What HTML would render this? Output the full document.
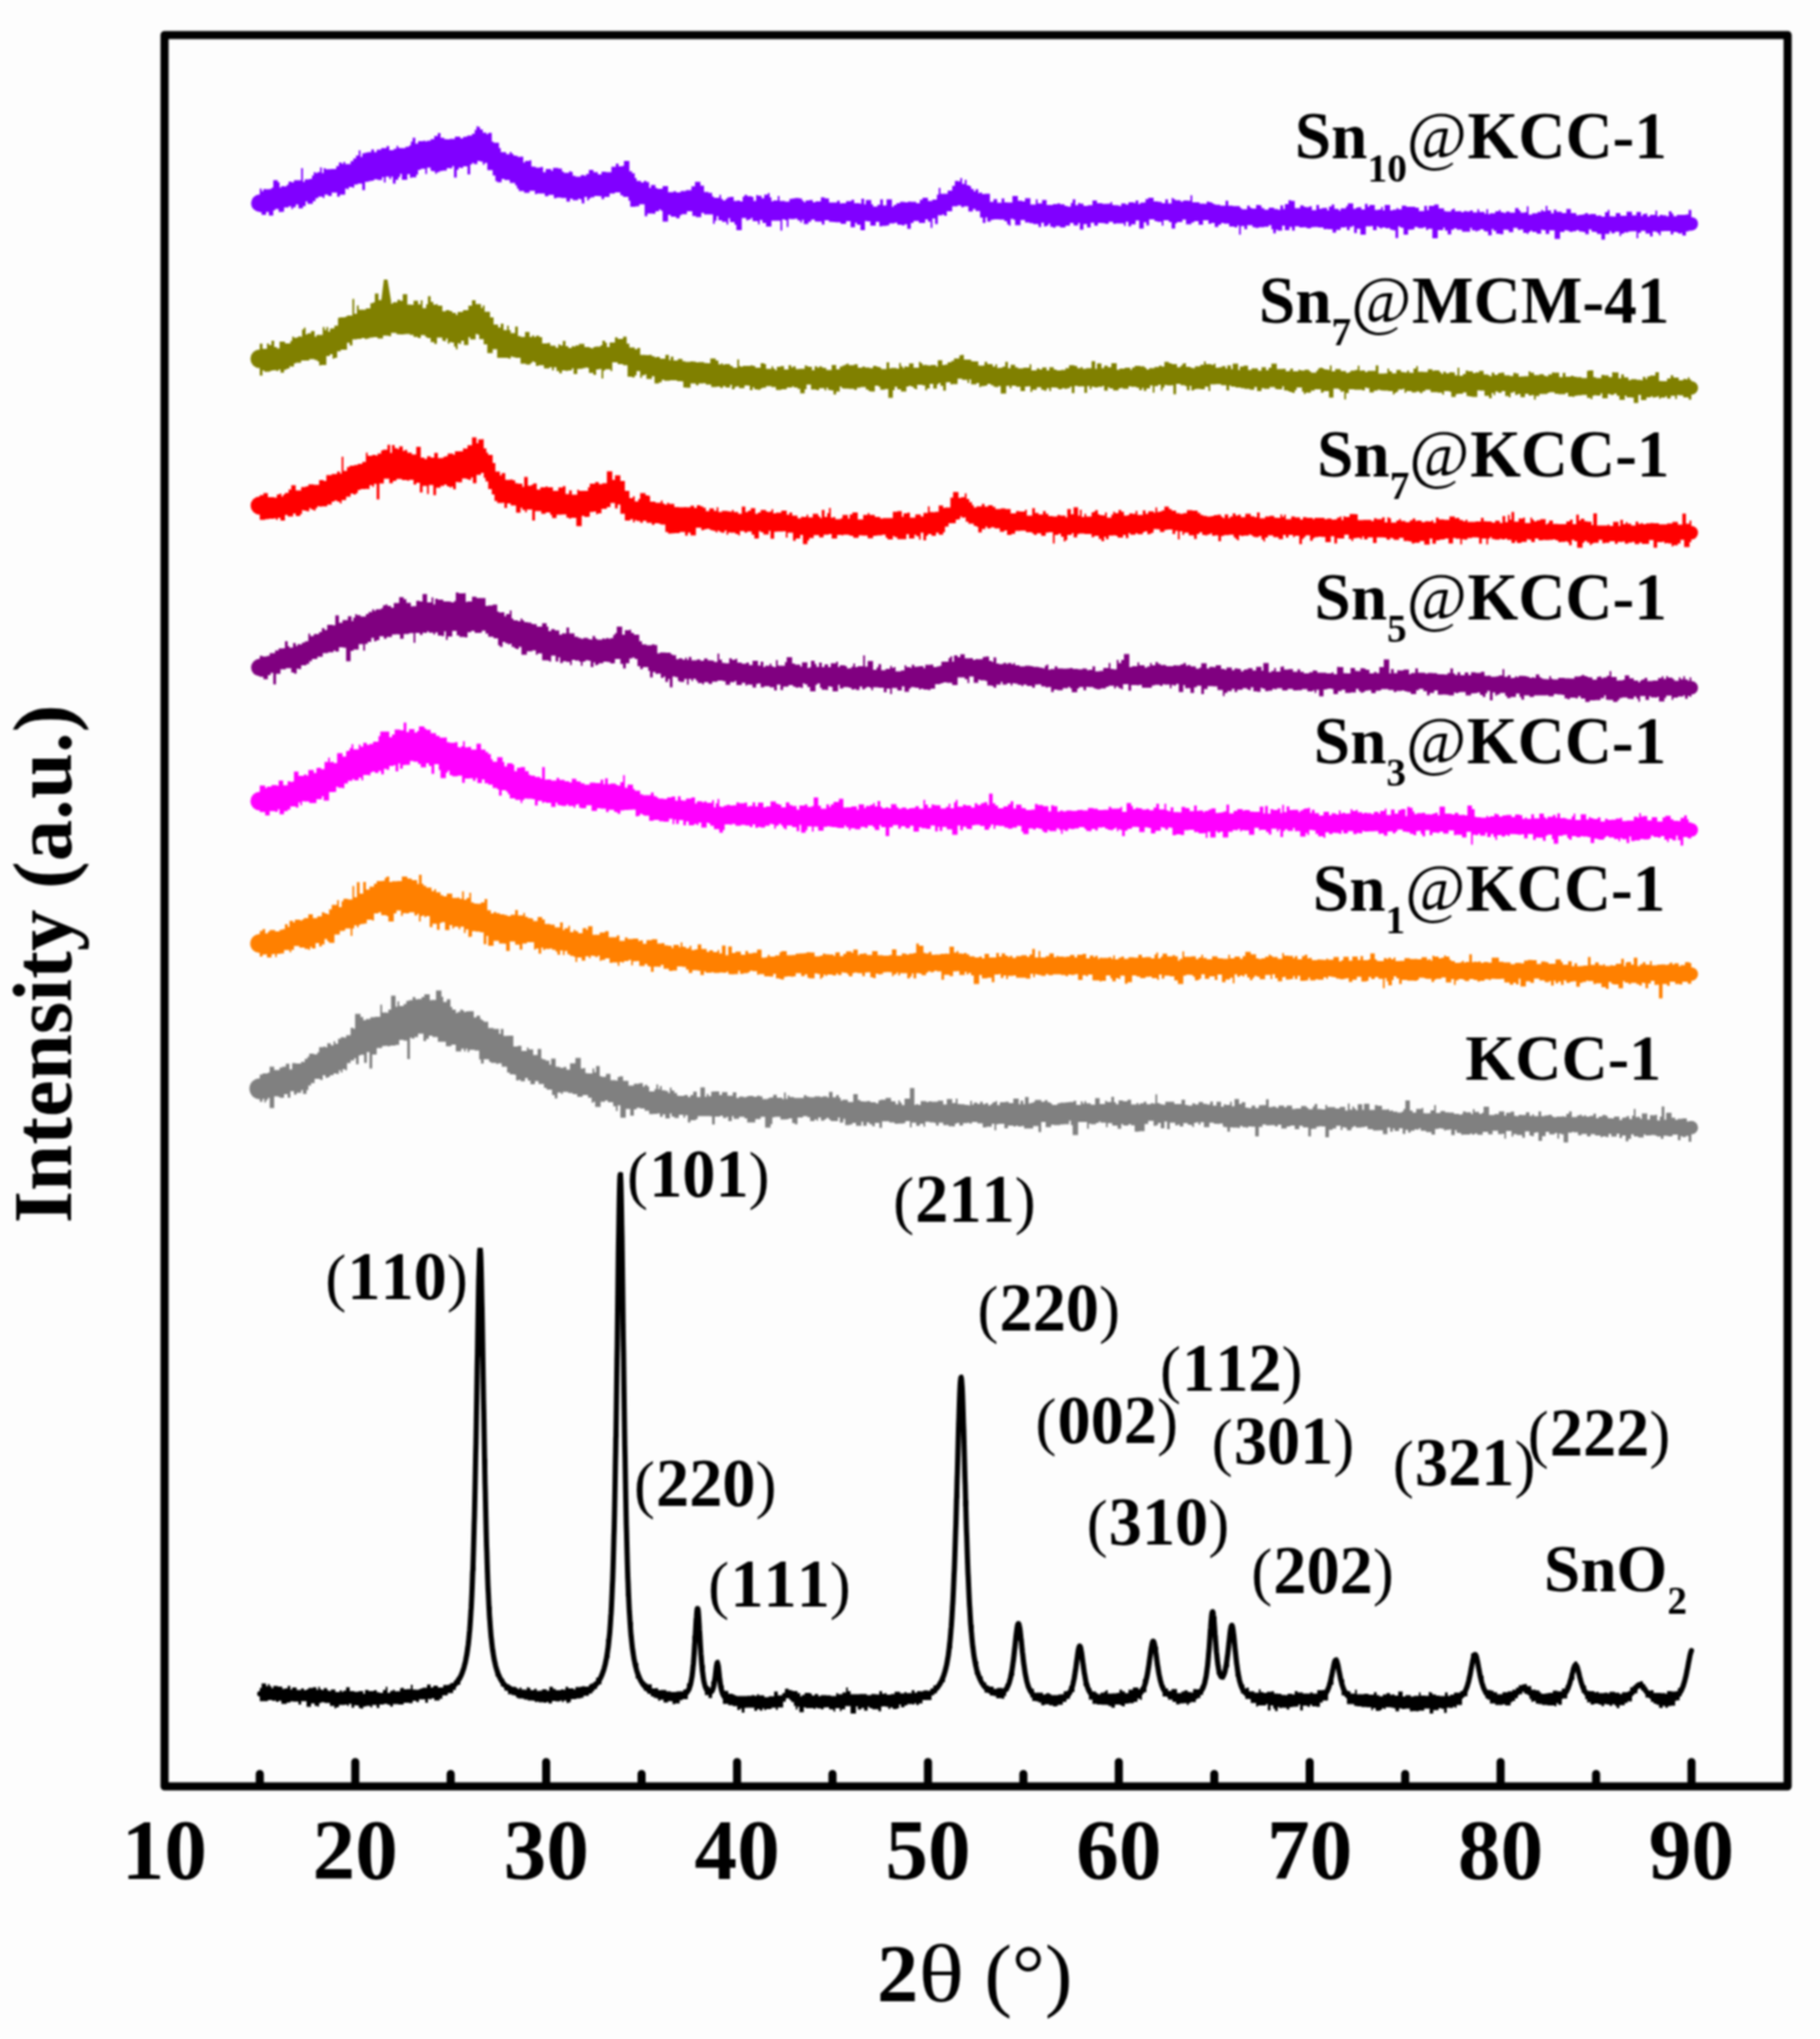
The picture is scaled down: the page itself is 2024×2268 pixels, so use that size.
<!DOCTYPE html><html><head><meta charset="utf-8"><style>html,body{margin:0;padding:0;background:#fdfdfd}svg{display:block}#w{filter:blur(1px)}</style></head><body><div id="w"><svg width="2024" height="2268" viewBox="0 0 2024 2268"><rect width="2024" height="2268" fill="#fdfdfd"/><g fill="#8000ff"><path d="M288.9 209.7l2 0 0 3.1 2 0 0 -2.5 2 0 0 0.2 5 0 0 -0.3 2 0 0 -1.5 2 0 0 -8.3 5 0 0 2.4 2 0 0 5.8 2 0 0 -1.6 2 0 0 0.2 4 0 0 -1.7 2 0 0 -3.6 3 0 0 0.8 3 0 0 -2.3 5 0 0 0.2 3 0 0 -13.7 2 0 0 15.3 2 0 0 -2.6 5 0 0 -0.5 3 0 0 -3.9 2 0 0 -3.8 2 0 0 1.1 2 0 0 -1 3 0 0 -5.3 2 0 0 6.2 2 0 0 -5.3 2 0 0 1.1 6 0 0 -0.1 6 0 0 -3.3 3 0 0 -4 3 0 0 1.4 2 0 0 -2.1 2 0 0 2.5 6 0 0 -3.4 3 0 0 -3 3 0 0 -3.2 3 0 0 -5.8 2 0 0 7.3 2 0 0 -4 3 0 0 -0.7 3 0 0 -0.5 4 0 0 -3 3 0 0 2.9 3 0 0 -2.8 5 0 0 -1.7 6 0 0 -2.1 3 0 0 4.3 5 0 0 -1.3 3 0 0 -3.3 2 0 0 2.1 2 0 0 0.4 6 0 0 -1.6 4 0 0 -1.5 2 0 0 -4.3 2 0 0 -4.2 3 0 0 6.6 3 0 0 -2.9 6 0 0 -0.3 2 0 0 0.6 2 0 0 -0.6 4 0 0 -1.9 4 0 0 -3.4 4 0 0 -3.2 3 0 0 5.2 4 0 0 1.5 3 0 0 0.2 3 0 0 -0.6 6 0 0 -2.3 6 0 0 1.9 3 0 0 -1.8 3 0 0 -0.5 2 0 0 -1 5 0 0 -2 3 0 0 -4.2 2 0 0 -4 2 0 0 0.7 2 0 0 2.7 3 0 0 3.6 4 0 0 1.8 2 0 0 -1.6 4 0 0 9.8 2 0 0 1.2 6 0 0 6 2 0 0 4.5 6 0 0 2.4 2 0 0 0 2 0 0 -2.6 2 0 0 2 2 0 0 1.9 3 0 0 0.7 2 0 0 0.8 3 0 0 -0.2 3 0 0 6.6 2 0 0 -1.7 5 0 0 -0.9 2 0 0 7.1 3 0 0 0.2 2 0 0 0.9 5 0 0 -0.7 3 0 0 5.8 3 0 0 -3.5 6 0 0 2 2 0 0 -3.3 6 0 0 0.7 4 0 0 3.4 2 0 0 1.5 6 0 0 -1.9 2 0 0 0.9 2 0 0 4.2 3 0 0 0.9 6 0 0 -1.6 4 0 0 0.6 2 0 0 -1.8 3 0 0 -4.5 5 0 0 2.4 5 0 0 2.5 4 0 0 -2.9 5 0 0 0.4 6 0 0 -6.1 5 0 0 -3.5 3 0 0 3.2 4 0 0 -0.6 2 0 0 -5.5 6 0 0 11.4 3 0 0 2.3 3 0 0 5.3 2 0 0 3.3 5 0 0 1.7 3 0 0 -1.7 3 0 0 1.1 3 0 0 6.6 2 0 0 -3.2 5 0 0 3.1 2 0 0 1.1 6 0 0 -3 6 0 0 6.7 6 0 0 -1 3 0 0 1.3 5 0 0 -1.6 6 0 0 -1 6 0 0 -4.1 4 0 0 -5 6 0 0 4.2 4 0 0 7 5 0 0 0.9 4 0 0 4.2 2 0 0 1.4 6 0 0 -3.3 2 0 0 4.5 2 0 0 1.9 3 0 0 -1.9 2 0 0 -1.6 3 0 0 -0.6 4 0 0 4.4 4 0 0 -0.3 3 0 0 1 3 0 0 -5.3 2 0 0 -2 3 0 0 1.4 5 0 0 0.7 2 0 0 4.5 3 0 0 -6.4 2 0 0 0.8 4 0 0 2.7 3 0 0 -3.9 4 0 0 -1.9 2 0 0 4.9 2 0 0 4.4 2 0 0 -1 5 0 0 -5.1 2 0 0 5.5 6 0 0 0.8 5 0 0 -2.9 3 0 0 -0.5 3 0 0 -0.5 5 0 0 0.4 3 0 0 2.5 2 0 0 1.8 2 0 0 -1.9 4 0 0 -0.5 4 0 0 2.5 3 0 0 -1.2 6 0 0 -4.5 4 0 0 1.1 2 0 0 0.2 3 0 0 4.5 3 0 0 0.1 6 0 0 -2 3 0 0 3 2 0 0 -0.3 5 0 0 -2.3 6 0 0 -1.5 3 0 0 3.8 6 0 0 0.6 2 0 0 -5.7 3 0 0 6.4 2 0 0 -4.7 6 0 0 4.6 2 0 0 2.5 5 0 0 -1.9 3 0 0 -6 3 0 0 6.6 4 0 0 -6.6 6 0 0 8.2 2 0 0 -2 3 0 0 -1.9 4 0 0 -1.5 5 0 0 0.4 2 0 0 0.1 2 0 0 -0.9 3 0 0 0.2 6 0 0 1.5 4 0 0 -3.6 3 0 0 -2.3 6 0 0 3.5 5 0 0 -1.4 5 0 0 -5.7 2 0 0 -7.3 2 0 0 6.4 4 0 0 0.1 4 0 0 -3.7 5 0 0 -5.2 3 0 0 -5.4 4 0 0 0.4 2 0 0 -3.6 2 0 0 6.4 3 0 0 -4.5 2 0 0 5.9 3 0 0 1.1 2 0 0 3.3 3 0 0 2.6 2 0 0 -2.3 3 0 0 4.1 2 0 0 -0.6 2 0 0 1.7 4 0 0 -0.3 5 0 0 8.9 2 0 0 0.2 2 0 0 -3.2 4 0 0 4.2 5 0 0 -4.9 3 0 0 4.2 3 0 0 0.4 6 0 0 -7.2 6 0 0 5.2 5 0 0 0.6 3 0 0 -3.3 6 0 0 7 6 0 0 -5.8 2 0 0 4.5 5 0 0 -3.8 5 0 0 5.4 2 0 0 0.2 5 0 0 -1.1 5 0 0 -0.8 3 0 0 1 5 0 0 1.7 3 0 0 0.9 4 0 0 -4.1 2 0 0 -3.9 3 0 0 6.4 3 0 0 -2.5 2 0 0 0.8 4 0 0 2.5 5 0 0 -0.7 5 0 0 -5.3 5 0 0 3.1 6 0 0 0.6 6 0 0 -0.2 3 0 0 -1.7 2 0 0 3.2 2 0 0 0.2 4 0 0 0.2 2 0 0 0.8 2 0 0 -3 5 0 0 1.3 3 0 0 -2.4 6 0 0 0.6 2 0 0 -2.6 3 0 0 3.8 2 0 0 -1.5 3 0 0 -0.2 3 0 0 -3.8 3 0 0 -1.5 6 0 0 4.1 5 0 0 0.5 4 0 0 1.6 4 0 0 -4.4 3 0 0 4.5 2 0 0 0.1 2 0 0 -6.1 2 0 0 1.2 2 0 0 1.3 6 0 0 1.5 3 0 0 -1.3 5 0 0 0.4 3 0 0 -6 2 0 0 7.8 5 0 0 -0.2 3 0 0 1.6 6 0 0 0.2 2 0 0 -2.5 3 0 0 0.7 3 0 0 1.3 2 0 0 1 2 0 0 0.6 5 0 0 0.9 6 0 0 -5.5 3 0 0 5.5 5 0 0 0.5 6 0 0 0 2 0 0 2 2 0 0 1.5 6 0 0 -3.9 3 0 0 2.2 2 0 0 0.9 5 0 0 -3.9 4 0 0 0.4 2 0 0 3.1 3 0 0 1.7 5 0 0 -2.3 6 0 0 1.6 4 0 0 0.7 3 0 0 -4.7 3 0 0 4 2 0 0 -5.4 2 0 0 -0.1 2 0 0 -4.2 3 0 0 0.6 4 0 0 8.2 6 0 0 -3.1 4 0 0 1.5 2 0 0 0.5 4 0 0 -0.9 3 0 0 4.1 5 0 0 -5.8 3 0 0 4.4 3 0 0 -0.7 2 0 0 -0.4 4 0 0 2.9 2 0 0 -4.4 3 0 0 -2.1 3 0 0 4.7 3 0 0 0.1 2 0 0 1.9 2 0 0 -2.5 6 0 0 -2.5 2 0 0 -3 6 0 0 5.9 3 0 0 -1.3 2 0 0 -0.4 4 0 0 2.6 4 0 0 -6.4 3 0 0 3.4 2 0 0 -2.2 6 0 0 5.5 4 0 0 -0.5 3 0 0 -2.6 2 0 0 3.7 2 0 0 -6 6 0 0 6.1 3 0 0 -0.9 4 0 0 -1.7 2 0 0 1.3 4 0 0 -4 5 0 0 1.2 5 0 0 0.1 5 0 0 0.9 4 0 0 3.7 6 0 0 -5.8 3 0 0 4.9 2 0 0 -4.8 6 0 0 -1.4 5 0 0 4.2 6 0 0 3 2 0 0 0.5 6 0 0 -2.2 2 0 0 -1.2 2 0 0 3.1 5 0 0 -0.2 2 0 0 1.3 3 0 0 -1.3 3 0 0 0.4 4 0 0 -1.1 3 0 0 2.2 5 0 0 -3.5 2 0 0 3 2 0 0 -0.1 4 0 0 2.1 2 0 0 -5.1 2 0 0 5.5 2 0 0 -1 6 0 0 -2.1 4 0 0 -1.5 2 0 0 2.4 3 0 0 0.8 3 0 0 -1.6 4 0 0 1.3 6 0 0 -5.1 4 0 0 2.5 2 0 0 2.7 5 0 0 -0.7 2 0 0 -6.4 2 0 0 9.3 4 0 0 -1.6 6 0 0 -1.5 4 0 0 -2.1 2 0 0 1.4 3 0 0 -5.9 2 0 0 4.9 4 0 0 3.2 3 0 0 -3.9 3 0 0 2.2 6 0 0 1.5 5 0 0 -4.6 3 0 0 0.2 2 0 0 4.4 6 0 0 2.5 3 0 0 -0.5 3 0 0 -0.2 2 0 0 -0.6 2 0 0 -1.2 3 0 0 1.4 3 0 0 -0.4 6 0 0 2 2 0 0 -0.2 4 0 0 1.3 4 0 0 -5 3 0 0 -2.5 2 0 0 7 3 0 0 0.1 4 0 0 -3.7 5 0 0 3.1 4 0 0 -0.1 3 0 0 -4.4 6 0 0 3.8 5 0 0 -3.6 5 0 0 4.4 2 0 0 -2.1 3 0 0 -0.7 2 0 0 3.4 3 0 0 -1.9 6 0 0 -4.7 2 0 0 6.2 3 0 0 -1.3 3 0 0 0.5 4 0 0 0.9 3 0 0 -5.4 3 0 0 2.5 2 0 0 2.8 4 0 0 -1.5 3 0 0 0.1 3 0 0 0.1 4 0 0 -0.7 3 0 0 -4.8 3 0 0 22.9 -3 0 0 1 -3 0 0 4.6 -4 0 0 -2.8 -2 0 0 0.7 -2 0 0 -1.2 -2 0 0 -0.9 -4 0 0 2.9 -3 0 0 -3.7 -4 0 0 0 -4 0 0 0.2 -3 0 0 4.4 -2 0 0 -2.4 -2 0 0 -1.6 -2 0 0 -0.1 -3 0 0 5.4 -3 0 0 -3.3 -5 0 0 -3 -5 0 0 2.2 -3 0 0 6.1 -2 0 0 -7.7 -6 0 0 0.2 -3 0 0 1.1 -5 0 0 1.4 -3 0 0 2.4 -2 0 0 -4.7 -5 0 0 1.9 -4 0 0 -2.3 -2 0 0 2.9 -5 0 0 6.3 -4 0 0 -6.3 -5 0 0 -2.1 -3 0 0 -0.4 -3 0 0 -2.5 -3 0 0 5.4 -4 0 0 -2.7 -3 0 0 -0.5 -4 0 0 -1.4 -3 0 0 1.3 -4 0 0 0.6 -2 0 0 -0.1 -2 0 0 -1.3 -3 0 0 -0.4 -2 0 0 2 -3 0 0 0 -2 0 0 7.6 -6 0 0 -9.4 -6 0 0 4 -4 0 0 -4.3 -3 0 0 -0.4 -2 0 0 4.3 -5 0 0 -2 -5 0 0 -1.4 -2 0 0 1.4 -2 0 0 2.3 -2 0 0 -1.3 -4 0 0 -3.6 -3 0 0 0.4 -3 0 0 -2.2 -5 0 0 4.8 -5 0 0 -2.5 -2 0 0 -0.3 -4 0 0 5.1 -2 0 0 0 -2 0 0 -0.7 -4 0 0 -3.2 -3 0 0 -1.9 -2 0 0 6.9 -4 0 0 -4.2 -3 0 0 -0.4 -2 0 0 -2 -4 0 0 1.3 -3 0 0 1.2 -2 0 0 -1.3 -4 0 0 -2.8 -2 0 0 4.3 -6 0 0 -0.1 -3 0 0 -2.3 -6 0 0 -1.4 -3 0 0 1.6 -3 0 0 5.2 -4 0 0 -4.4 -3 0 0 -3.2 -2 0 0 2.9 -6 0 0 8.8 -6 0 0 -10.3 -5 0 0 1.3 -2 0 0 -3.1 -3 0 0 1 -6 0 0 -1.3 -4 0 0 2.8 -3 0 0 0.3 -4 0 0 5.4 -5 0 0 -7.6 -2 0 0 -0.5 -2 0 0 -1.1 -2 0 0 13 -3 0 0 -8.6 -3 0 0 -0.7 -3 0 0 -1.7 -3 0 0 0.1 -2 0 0 -1 -4 0 0 1.4 -2 0 0 -1.3 -2 0 0 -1.2 -2 0 0 4.2 -4 0 0 -4.6 -2 0 0 0.4 -6 0 0 9.1 -6 0 0 -6.4 -4 0 0 4.8 -3 0 0 -8 -2 0 0 1.2 -3 0 0 3.4 -3 0 0 -3.5 -2 0 0 0.5 -5 0 0 2.9 -5 0 0 3 -4 0 0 -3.9 -5 0 0 -0.1 -3 0 0 0.1 -2 0 0 -1.9 -6 0 0 -0.4 -5 0 0 0.1 -3 0 0 1.3 -3 0 0 -0.3 -2 0 0 -0.9 -4 0 0 0.3 -4 0 0 -1.4 -5 0 0 4.8 -3 0 0 -4 -3 0 0 3.4 -5 0 0 -4.8 -3 0 0 5.3 -5 0 0 -0.9 -2 0 0 3.9 -3 0 0 -4.3 -2 0 0 -4.7 -3 0 0 1.9 -5 0 0 0.5 -6 0 0 0.6 -4 0 0 -0.7 -3 0 0 -2.2 -6 0 0 4.6 -3 0 0 -3.5 -4 0 0 9.5 -2 0 0 -10.3 -2 0 0 2.2 -3 0 0 -1 -6 0 0 -3.3 -6 0 0 -0.8 -3 0 0 2.2 -3 0 0 2.3 -4 0 0 -4.5 -4 0 0 1.1 -3 0 0 -3.9 -6 0 0 5 -5 0 0 -4.2 -2 0 0 0.2 -3 0 0 1.5 -3 0 0 1.8 -6 0 0 -5.1 -4 0 0 2.7 -6 0 0 1.6 -2 0 0 5.6 -4 0 0 -7.1 -3 0 0 -2.2 -6 0 0 6 -2 0 0 -4.1 -5 0 0 -0.8 -3 0 0 -1.9 -6 0 0 6.7 -3 0 0 -3.6 -3 0 0 7 -5 0 0 -9 -4 0 0 4.3 -3 0 0 -0.1 -2 0 0 2.4 -3 0 0 -5 -3 0 0 4.4 -2 0 0 -2.8 -3 0 0 0.2 -6 0 0 0.3 -3 0 0 -2.1 -5 0 0 2.1 -4 0 0 -0.6 -3 0 0 -0.3 -5 0 0 2.9 -4 0 0 -3.2 -4 0 0 5.3 -4 0 0 -3.7 -4 0 0 6.2 -4 0 0 -7.6 -2 0 0 2.9 -5 0 0 -2.9 -4 0 0 3.1 -5 0 0 1.9 -6 0 0 -1.3 -5 0 0 1.7 -3 0 0 -1 -3 0 0 -3.6 -2 0 0 2.4 -2 0 0 0.6 -3 0 0 -3.9 -3 0 0 4.6 -3 0 0 -3.2 -6 0 0 -0.9 -4 0 0 -0.8 -5 0 0 -2.7 -5 0 0 5.7 -6 0 0 -5.9 -2 0 0 -1 -3 0 0 7.3 -2 0 0 -1.5 -2 0 0 -3.3 -3 0 0 -1.9 -6 0 0 -0.1 -6 0 0 0.3 -3 0 0 2 -4 0 0 -4.6 -2 0 0 6.3 -3 0 0 -6.2 -3 0 0 -7.1 -5 0 0 -2.3 -3 0 0 2.8 -5 0 0 -5.8 -5 0 0 1 -3 0 0 -2 -4 0 0 1 -6 0 0 5.5 -6 0 0 5.1 -3 0 0 -1.6 -2 0 0 0.9 -5 0 0 9.8 -3 0 0 -6.2 -3 0 0 10.5 -2 0 0 -6.9 -3 0 0 -2.5 -3 0 0 4 -3 0 0 0 -4 0 -0 -2.3 -6 0 -0 2.3 -3 0 -0 6.4 -4 0 -0 -5.1 -3 0 -0 1.4 -3 0 -0 -0.7 -5 0 -0 -2.3 -3 0 -0 0.7 -6 0 -0 2.3 -3 0 -0 0.4 -5 0 -0 0.5 -3 0 -0 -4.9 -4 0 -0 4.3 -6 0 -0 -4.9 -4 0 -0 -0.4 -2 0 -0 10.3 -5 0 -0 -6 -4 0 -0 -2.4 -2 0 -0 5 -5 0 -0 -6.6 -5 0 -0 2.9 -6 0 -0 -1.8 -6 0 -0 -0.1 -3 0 -0 -0.3 -4 0 -0 -1.7 -5 0 -0 4.6 -3 0 -0 -3.2 -6 0 -0 -0.3 -2 0 -0 -2.1 -2 0 -0 0.4 -2 0 -0 2.3 -3 0 -0 2.5 -5 0 -0 -4.7 -2 0 -0 3 -2 0 -0 -2.4 -3 0 -0 -2 -3 0 -0 0.6 -5 0 -0 -0.2 -2 0 -0 9 -2 0 -0 -7.5 -2 0 -0 -1 -3 0 -0 12.5 -2 0 -0 -11.2 -6 0 -0 0 -4 0 -0 6.7 -6 0 -0 -4.2 -4 0 -0 -3.1 -3 0 -0 4.8 -2 0 -0 -3.6 -6 0 -0 -3.6 -2 0 -0 1.8 -3 0 -0 1 -2 0 -0 -2.7 -5 0 -0 13.6 -6 0 -0 -6.2 -2 0 -0 -2.9 -5 0 -0 -4.3 -2 0 -0 7 -2 0 -0 -3 -5 0 -0 -1.7 -4 0 -0 -4.4 -2 0 -0 4.8 -2 0 -0 3.5 -2 0 -0 -10.3 -5 0 -0 -0.2 -5 0 -0 -1.7 -3 0 -0 4.8 -6 0 -0 -1.3 -4 0 -0 -5.3 -6 0 -0 3.4 -6 0 -0 1.3 -2 0 -0 3.2 -4 0 -0 -1.7 -6 0 -0 -2 -3 0 -0 7.5 -6 0 -0 -12.2 -2 0 -0 -1.3 -2 0 -0 2 -4 0 -0 2.6 -3 0 -0 -0.1 -6 0 -0 2.9 -3 0 -0 -13.2 -6 0 -0 2.3 -4 0 -0 0.5 -6 0 -0 -6.8 -2 0 -0 -4.4 -6 0 -0 -1.6 -3 0 -0 -3.4 -6 0 -0 1.3 -6 0 -0 3.7 -6 0 -0 2.5 -3 0 -0 -3.1 -3 0 -0 -0.3 -5 0 -0 1.5 -4 0 -0 1.3 -2 0 -0 2.2 -2 0 -0 -3.9 -3 0 -0 7.1 -3 0 -0 -4.5 -2 0 -0 -0.6 -2 0 -0 1.7 -6 0 -0 -1.9 -3 0 -0 3.4 -4 0 -0 -4 -6 0 -0 -0.6 -5 0 -0 0.8 -3 0 -0 -3.8 -6 0 -0 1.6 -4 0 -0 -3.1 -6 0 -0 0.1 -3 0 -0 0.8 -2 0 -0 -3.8 -6 0 -0 2.1 -6 0 -0 -1.9 -6 0 -0 -2.7 -2 0 -0 -3.6 -2 0 -0 -2.6 -6 0 -0 -3.3 -6 0 -0 -1.4 -3 0 -0 3.9 -5 0 -0 -1.2 -2 0 -0 -6.3 -3 0 -0 -6 -6 0 -0 -8 -3 0 -0 2 -2 0 -0 -3.6 -3 0 -0 -0.6 -3 0 -0 3.5 -4 0 -0 -1.3 -2 0 -0 1.7 -2 0 -0 10.9 -3 0 -0 -8.9 -5 0 -0 1.9 -2 0 -0 -0.3 -3 0 -0 2.5 -2 0 -0 8.3 -3 0 -0 -12.6 -2 0 -0 2.5 -3 0 -0 -0.2 -3 0 -0 2.6 -5 0 -0 0.6 -3 0 -0 1.2 -3 0 -0 1.8 -2 0 -0 -2.7 -3 0 -0 -0.7 -2 0 -0 -3.4 -4 0 -0 6.9 -2 0 -0 -5.6 -5 0 -0 1.2 -3 0 -0 5.2 -2 0 -0 3 -5 0 -0 0.5 -2 0 -0 -3.9 -3 0 -0 6.2 -6 0 -0 -6.6 -2 0 -0 3.7 -2 0 -0 3 -3 0 -0 4.1 -3 0 -0 -7.8 -2 0 -0 2.9 -2 0 -0 -2.9 -4 0 -0 6.6 -2 0 -0 -6.1 -2 0 -0 3.4 -5 0 -0 -0.9 -4 0 -0 1.5 -3 0 -0 0.6 -3 0 -0 0.8 -4 0 -0 9.1 -3 0 -0 -7.1 -5 0 -0 0.9 -4 0 -0 3.6 -2 0 -0 -0.8 -4 0 -0 2.5 -2 0 -0 -0.8 -2 0 -0 6.9 -6 0 -0 2.2 -3 0 -0 -4.6 -6 0 -0 3.9 -4 0 -0 -1.5 -4 0 -0 3.6 -2 0 -0 -1.5 -5 0 -0 1.9 -3 0 -0 3.2 -3 0 -0 3 -6 0 -0 -2.9 -2 0 -0 5.4 -3 0 -0 2.5 -5 0 -0 -4.4 -3 0 -0 3.1 -3 0 -0 2 -2 0 -0 -3.1 -3 0 -0 1.4 -5 0 -0 4.6 -2 0 -0 0.3 -4 0 -0 -3.3 -4 0 -0 1.5 -2 0 -0 5.8 -5 0 -0 -4 -3 0 -0 3.3 -5 0 -0 -2.9 -2 0z"/><circle cx="288.9" cy="226.0" r="9.7"/><circle cx="1880.9" cy="248.9" r="7.5"/></g><g fill="#808000"><path d="M288.9 382.3l3 0 0 5.7 5 0 0 -5.9 2 0 0 1.6 3 -0 0 -4.8 3 -0 0 7.1 3 -0 0 1.5 3 -0 0 -7.5 6 -0 0 1.9 6 -0 0 -2.6 2 0 0 -4.7 2 0 0 1.1 3 -0 0 -0.4 2 -0 0 -1.3 2 -0 0 0.4 2 -0 0 -7.8 2 0 0 -2 2 0 0 7.4 2 0 0 -1.2 4 0 0 -2.6 4 0 0 6.3 2 0 0 -2.1 5 0 0 0.2 2 0 0 -8.9 2 0 0 3.5 2 0 0 -3.5 2 0 0 5.4 2 0 0 -3.7 2 0 0 -0.2 3 0 0 -3 4 0 0 -8.6 2 0 0 -0.6 6 0 0 -0.7 2 0 0 -1.3 6 0 0 -18.4 2 0 0 16.3 3 0 0 -9.1 2 0 0 4.8 6 0 0 -0.2 2 0 0 -1.3 5 0 0 -5.8 3 0 0 -1 2 0 0 -9.7 4 0 0 7.2 3 0 0 1.3 3 -24.1 0 0 4 0 0 0 4 23.8 0 2.9 2 0 0 -1.4 5 0 0 -2.7 3 0 0 1 3 0 0 -7.3 5 0 0 11.4 4 0 0 0.2 3 0 0 -4.5 5 0 0 4 3 0 0 -4.4 2 0 0 8.8 4 0 0 -4.3 2 0 0 -9 3 0 0 6.3 3 0 0 3.2 2 0 0 -0.5 3 0 0 1.6 5 0 0 6.2 4 0 0 -1.4 4 0 0 1.1 3 0 0 2 4 0 0 2.3 2 0 0 -3.3 6 0 0 -1.9 6 0 0 -5.2 4 -0 0 -5.8 4 0 0 4.1 6 -0 0 4.3 2 -0 0 -2.8 2 -0 0 7.1 6 -0 0 6.3 4 -0 0 7.9 5 -0 0 3.2 3 -0 0 -4.2 3 -0 0 7.2 4 -0 0 -4.9 2 -0 0 4.9 2 -0 0 3.2 5 -0 0 -7.2 3 -0 0 10.6 3 -0 0 0.9 5 -0 0 -5.4 5 -0 0 5.5 3 -0 0 -1.8 2 -0 0 1.9 2 -0 0 -1.5 4 -0 0 1.6 3 -0 0 7.1 6 -0 0 -0.6 3 -0 0 3.1 6 -0 0 2.2 3 -0 0 -3.8 2 -0 0 1.3 3 -0 0 -5.1 3 -0 0 5.7 3 -0 0 2.1 4 -0 0 -1.9 2 -0 0 0.5 2 -0 0 -1.4 4 -0 0 -1.7 6 -0 0 3.6 6 -0 0 1 2 -0 0 0.4 2 -0 0 -1.4 2 -0 0 -0.6 6 -0 0 -1.4 2 -0 0 -5.2 3 -0 0 2.3 2 -0 0 4.8 3 -0 0 -4.9 6 -0 0 -5.9 3 -0 0 1.8 6 -0 0 -2.6 4 -0 0 7.9 3 -0 0 4.1 6 -0 0 2.2 3 -0 0 -1.5 3 -0 0 7.7 6 -0 0 0.3 4 -0 0 -0.4 3 -0 0 1.6 3 -0 0 1.2 2 -0 0 -0.6 4 -0 0 2.1 6 -0 0 -4.2 4 -0 0 5.8 2 -0 0 -3.8 3 -0 0 4.3 5 -0 0 -1.9 5 -0 0 2.5 3 -0 0 0.8 6 -0 0 -0.6 3 -0 0 0.4 3 -0 0 0.7 3 -0 0 -0.3 6 -0 0 1 3 -0 0 0.3 4 -0 0 -5.3 6 -0 0 2.4 3 -0 0 4.2 3 -0 0 -1 2 -0 0 1.5 2 -0 0 -0.9 6 -0 0 2 3 -0 0 2.1 5 -0 0 -9.2 2 -0 0 7.5 2 -0 0 0.6 2 -0 0 -0.8 4 -0 0 -0 5 -0 0 -0.8 2 -0 0 0.8 3 -0 0 1.9 6 -0 0 -4.9 4 -0 0 0.8 2 -0 0 5.3 6 -0 0 -2.6 2 -0 0 2.5 2 -0 0 1.6 2 -0 0 -3.6 4 -0 0 -0.9 4 -0 0 3.9 5 -0 0 -4.9 3 -0 0 2.6 2 -0 0 -1.4 3 -0 0 3 4 -0 0 -0.1 6 -0 0 -3.9 2 -0 0 0.8 2 -0 0 0.9 4 -0 0 3.7 3 -0 0 -4.2 3 -0 0 1.3 2 -0 0 -1.4 3 -0 0 1.3 2 -0 0 0.5 3 -0 0 2.2 6 -0 0 -5.6 5 -0 0 4.8 4 -0 0 -2.9 3 -0 0 -1.2 3 -0 0 -1.3 2 -0 0 -0.7 2 -0 0 1.6 6 -0 0 -0.9 4 -0 0 3.7 5 -0 0 -1.2 3 -0 0 0.9 5 -0 0 0.8 4 -0 0 -2.6 4 -0 0 1 3 -0 0 0.9 2 -0 0 1.6 6 -0 0 -7.3 3 -0 0 6.7 2 -0 0 -0.5 6 -0 0 0.7 3 -0 0 -6.3 2 -0 0 3.9 2 -0 0 1.9 2 -0 0 -1.9 2 -0 0 0.4 3 -0 0 -3.7 5 -0 0 4.6 6 -0 0 -6.5 2 -0 0 1.5 2 -0 0 2.3 2 -0 0 -0.5 2 -0 0 0.5 3 -0 0 0.6 2 -0 0 -0.7 6 -0 0 1.7 2 -0 0 -7 5 -0 0 5.1 3 -0 0 -0.4 3 -0 0 -2.6 2 -0 0 0.2 2 -0 0 -1.7 3 -0 0 -2.7 6 -0 0 -3.5 2 -0 0 -0.4 3 -0 0 5.2 3 -0 0 -0.1 5 -0 0 1.8 2 -0 0 0.2 6 -0 0 4.5 2 -0 0 0.3 3 -0 0 -0.1 2 -0 0 -4 3 -0 0 2.5 6 -0 0 2.7 3 -0 0 -2.6 2 -0 0 4.1 3 -0 0 -0.4 3 -0 0 -1.1 3 -0 0 -5.2 3 -0 0 7 3 -0 0 -3.9 5 -0 0 2.8 3 -0 0 1.2 6 -0 0 -0.8 5 -0 0 0.1 2 -0 0 -3.8 2 -0 0 6.9 6 -0 0 -2.3 3 -0 0 1.1 3 -0 0 -2.1 5 -0 0 3.1 3 -0 0 -3.4 5 -0 0 2.4 3 -0 0 1 2 -0 0 0.2 3 -0 0 -0.6 5 -0 0 -1.9 4 -0 0 -3.3 6 -0 0 0.6 3 -0 0 2.6 4 -0 0 -1.3 2 -0 0 2.1 4 -0 0 -0.9 6 -0 0 -7.6 4 -0 0 8.4 2 -0 0 -5.9 5 -0 0 5.3 3 -0 0 -2.9 4 -0 0 1.9 4 -0 0 -4.5 6 -0 0 7.1 3 -0 0 -1.1 6 -0 0 -1.1 6 -0 0 2.3 2 -0 0 -2.5 3 -0 0 -1.7 6 -0 0 0.4 5 -0 0 1.5 2 -0 0 2.1 3 -0 0 -1.5 6 -0 0 -1.4 5 -0 0 -1.4 3 -0 0 1 3 -0 0 -5.3 5 -0 0 1.4 3 -0 0 1 6 -0 0 3.5 4 -0 0 -1.7 2 -0 0 -2.3 2 -0 0 -0.3 2 -0 0 3.8 5 -0 0 1.1 2 -0 0 0.5 3 -0 0 -1.9 6 -0 0 -1.8 4 -0 0 -3.8 2 -0 0 3.1 6 -0 0 0.7 3 -0 0 -1.4 2 -0 0 4.5 4 -0 0 -0.3 3 -0 0 -1.3 4 -0 0 2.7 2 -0 0 -3.6 4 -0 0 4 2 -0 0 -5.9 6 -0 0 7.1 2 -0 0 -3.8 4 -0 0 -1.1 5 -0 0 4.7 4 -0 0 -1.7 5 -0 0 -0 2 -0 0 2.6 4 -0 0 -3.7 5 -0 0 3.2 3 -0 0 -2.9 3 -0 0 -4.4 6 -0 0 5.9 6 -0 0 -0.2 4 -0 0 2.7 3 -0 0 -0.5 2 -0 0 -2.3 3 -0 0 2.9 6 -0 0 -1.7 2 -0 0 0.6 2 -0 0 0.3 3 -0 0 -0.9 5 -0 0 1.7 2 -0 0 1.5 6 -0 0 -2.2 2 -0 0 -2.6 2 -0 0 -0.7 3 -0 0 0.9 2 -0 0 1.1 4 -0 0 0.5 2 -0 0 -4.9 2 -0 0 6.4 4 -0 0 -2.5 6 -0 0 2.2 6 -0 0 2 3 -0 0 -0.7 2 -0 0 -1.7 5 -0 0 -0.9 3 -0 0 -4.7 2 -0 0 5.6 3 -0 0 -0.4 3 -0 0 1.8 3 -0 0 -1.1 4 -0 0 -0.2 2 -0 0 -0 3 -0 0 -6 3 -0 0 9 2 -0 0 0.1 5 -0 0 -0.2 3 -0 0 -5.3 2 -0 0 2.9 3 -0 0 2.4 5 -0 0 -3.7 5 -0 0 2.1 3 -0 0 0.6 4 -0 0 -2.3 2 -0 0 2.4 3 -0 0 0.4 2 -0 0 -4.9 3 -0 0 -2.6 2 -0 0 6.2 6 -0 0 0.2 5 -0 0 -3 5 -0 0 1.7 2 -0 0 -0.5 6 -0 0 2.1 2 -0 0 2.1 2 -0 0 -2.6 3 -0 0 1.8 4 -0 0 -1.3 3 -0 0 0.3 3 -0 0 3.1 3 -0 0 -8.5 2 -0 0 9.2 4 -0 0 -2 3 -0 0 -3.8 3 -0 0 0.6 5 -0 0 2 3 -0 0 -0.6 4 -0 0 -1.8 5 -0 0 4.1 5 -0 0 1 2 -0 0 1 2 -0 0 -4.2 3 -0 0 2.7 4 -0 0 -2.2 3 -0 0 -0.3 4 -0 0 3 6 -0 0 0.6 4 -0 0 -3.5 3 -0 0 0.7 3 -0 0 3.5 2 -0 0 -0.2 4 -0 0 -0.1 5 -0 0 -5.7 2 -0 0 1.5 4 -0 0 2.8 6 -0 0 -1 5 -0 0 1.8 2 -0 0 0.6 3 -0 0 -2.2 4 -0 0 -2.1 2 -0 0 0.3 6 -0 0 4.8 4 -0 0 -4.7 3 -0 0 4.4 6 -0 0 -1.1 3 -0 0 1.1 3 -0 0 0.5 6 -0 0 0.9 6 -0 0 -7.9 2 -0 0 -0.5 5 -0 0 7.3 3 -0 0 1 6 -0 0 -3.3 3 -0 0 0.4 5 -0 0 2.1 4 -0 0 -5.7 2 -0 0 0.3 5 -0 0 6.6 3 -0 0 -4.3 3 -0 0 3.3 5 -0 0 2.9 3 -0 0 -1 6 -0 0 0.8 5 -0 0 0.6 2 -0 0 -3.8 3 -0 0 2.1 2 -0 0 -2.6 3 -0 0 -1.1 6 -0 0 -3.8 4 -0 0 9.9 3 -0 0 0.2 6 -0 0 -3.1 4 -0 0 -3.3 3 -0 0 2.5 6 -0 0 2.9 5 -0 0 -1.4 3 -0 0 0.3 2 -0 0 -2.2 2 -0 0 2.5 2 -0 0 22.4 -3 -0 0 -2.7 -6 -0 0 -2.1 -4 -0 0 -0.2 -3 -0 0 4.1 -2 -0 0 -3.5 -5 -0 0 3.1 -4 -0 0 -2.5 -2 -0 0 1.4 -5 -0 0 1.2 -2 -0 0 -2.6 -2 -0 0 1 -3 -0 0 0.5 -2 -0 0 -1.5 -2 -0 0 1.3 -5 -0 0 3 -6 -0 0 -5.9 -3 -0 0 9.1 -5 -0 0 -6 -3 -0 0 -0.4 -5 -0 0 -2 -2 -0 0 4.9 -6 -0 0 -4.6 -3 -0 0 -2.4 -3 -0 0 1.4 -4 -0 0 -0.9 -3 -0 0 4.6 -6 -0 0 -5.3 -2 -0 0 2.3 -5 -0 0 -0.5 -2 -0 0 0.8 -2 -0 0 3.8 -2 -0 0 -1.6 -4 -0 0 -3.1 -6 -0 0 0.4 -5 -0 0 0.6 -3 -0 0 1.2 -2 -0 0 -0.5 -5 -0 0 -4.1 -3 -0 0 1.6 -5 -0 0 -0.1 -3 -0 0 -0.3 -4 -0 0 -1.8 -6 -0 0 0.7 -2 -0 0 1.2 -5 -0 0 0.1 -4 -0 0 2.2 -4 -0 0 4.1 -2 -0 0 -5.1 -3 -0 0 0.6 -3 -0 0 -2.2 -4 -0 0 3.9 -5 -0 0 -3.6 -3 -0 0 1 -3 -0 0 -3.5 -2 -0 0 1.1 -3 -0 0 5.2 -2 -0 0 -1.4 -4 -0 0 -5.5 -4 -0 0 2 -2 -0 0 -0.4 -2 -0 0 -1.2 -3 -0 0 4 -2 -0 0 -2.6 -2 -0 0 6 -3 -0 0 -2.7 -5 -0 0 -5.7 -5 -0 0 -0.3 -3 -0 0 7.3 -6 -0 0 -0.6 -3 -0 0 -0.3 -3 -0 0 -4 -4 -0 0 1.3 -6 -0 0 0.5 -2 -0 0 3.1 -5 -0 0 -5.7 -2 -0 0 -0.9 -6 -0 0 4 -2 -0 0 -2.2 -5 -0 0 -0.4 -3 -0 0 -0 -5 -0 0 -2.9 -6 -0 0 1.9 -3 -0 0 1.9 -3 -0 0 -1.6 -4 -0 0 1 -5 -0 0 -1.6 -6 -0 0 2 -2 -0 0 -4.4 -2 -0 0 0.7 -5 -0 0 2.4 -2 -0 0 1.3 -2 -0 0 1.8 -2 -0 0 -3.7 -5 -0 0 -0.5 -2 -0 0 -0.1 -4 -0 0 -0.2 -3 -0 0 -0.8 -3 -0 0 1.1 -4 -0 0 2 -5 -0 0 -4.8 -3 -0 0 -0.7 -2 -0 0 3.2 -3 -0 0 -0.9 -5 -0 0 -0 -4 -0 0 -0.4 -6 -0 0 4.2 -3 -0 0 7 -2 -0 0 -8.9 -2 -0 0 0.5 -2 -0 0 -2.2 -2 -0 0 -1.4 -6 -0 0 10.1 -5 -0 0 -7.3 -6 -0 0 1.8 -3 -0 0 -3.7 -3 -0 0 -0.2 -4 -0 0 1.7 -4 -0 0 2.1 -6 -0 0 1.5 -2 -0 0 -2.7 -2 -0 0 -4.4 -6 -0 0 2.9 -2 -0 0 3 -3 -0 0 -1.1 -3 -0 0 -0.8 -2 -0 0 -0.8 -4 -0 0 -4.5 -2 -0 0 3.1 -6 -0 0 -0.5 -2 -0 0 -1.9 -6 -0 0 2.1 -6 -0 0 -0.8 -3 -0 0 3.3 -5 -0 0 -4.7 -3 -0 0 3.2 -5 -0 0 -1.1 -6 -0 0 -0.8 -4 -0 0 -0.8 -6 -0 0 -0.8 -5 -0 0 -1.4 -2 -0 0 5.6 -3 -0 0 -5.7 -6 -0 0 -1.4 -6 -0 0 0.3 -6 -0 0 7.6 -2 -0 0 -4.9 -2 -0 0 -0.1 -2 -0 0 2.9 -5 -0 0 -0.5 -5 -0 0 0.4 -2 -0 0 1.4 -3 -0 0 -5.1 -2 -0 0 5 -3 -0 0 -4.6 -2 -0 0 -1.2 -5 -0 0 -1.5 -5 -0 0 11.7 -3 -0 0 -10.2 -2 -0 0 0.3 -5 -0 0 -0.4 -3 -0 0 2.9 -2 -0 0 3.3 -2 -0 0 -6.5 -3 -0 0 1.6 -4 -0 0 7.1 -2 -0 0 -8 -3 -0 0 3.2 -4 -0 0 2.9 -3 -0 0 -3.4 -2 -0 0 2.6 -3 -0 0 -2.8 -3 -0 0 -1 -6 -0 0 -0.5 -3 -0 0 2.7 -6 -0 0 -1 -3 -0 0 0.5 -2 -0 0 2.3 -6 -0 0 -2.1 -4 -0 0 -1.3 -2 -0 0 3.7 -4 -0 0 -5.2 -2 -0 0 1 -5 -0 0 0.7 -3 -0 0 -0.5 -2 -0 0 -0.4 -2 -0 0 2.8 -2 -0 0 -3.5 -3 -0 0 7.5 -3 -0 0 -7.2 -5 -0 0 0.4 -2 -0 0 -0.9 -4 -0 0 8.1 -3 -0 0 -7.4 -2 -0 0 1.9 -3 -0 0 0.6 -3 -0 0 -0.6 -3 -0 0 1.2 -4 -0 0 -1.4 -2 -0 0 -0.5 -6 -0 0 4 -2 -0 0 -3.3 -3 -0 0 2.7 -3 -0 0 -1.1 -3 -0 0 -2.6 -5 -0 0 2.6 -5 -0 0 2.6 -2 -0 0 -6.3 -3 -0 0 0.4 -3 -0 0 4.8 -5 -0 0 -4.6 -5 -0 0 -1.2 -5 -0 0 3 -2 -0 0 -2.9 -4 -0 0 8.6 -6 -0 0 -8.3 -3 -0 0 1.3 -2 -0 0 -0.6 -3 -0 0 -1.8 -3 -0 0 -1.3 -4 -0 0 1.9 -3 -0 0 0.6 -4 -0 0 0.9 -2 -0 0 -4.5 -3 -0 0 1.4 -6 -0 0 -5.4 -2 -0 0 4 -2 -0 0 -3.6 -6 -0 0 -1.2 -5 -0 0 6 -6 -0 0 0.4 -2 -0 0 -2.7 -2 -0 0 0.4 -3 -0 0 9.2 -3 -0 0 -5.2 -3 -0 0 -3.3 -2 -0 0 1.6 -2 -0 0 4.6 -4 -0 0 -5.2 -4 -0 0 5.1 -3 -0 0 2.2 -2 -0 0 -5.6 -3 -0 0 -0.8 -6 -0 -0 5 -2 -0 -0 -0.9 -2 -0 -0 -1.9 -3 -0 -0 -1 -2 -0 -0 0.8 -3 -0 -0 5.7 -6 -0 -0 -2.6 -4 -0 -0 -2.7 -3 -0 -0 3.7 -2 -0 -0 8.4 -5 -0 -0 -9.7 -4 -0 -0 0.9 -5 -0 -0 -3.4 -2 -0 -0 -1.3 -2 -0 -0 0.1 -2 -0 -0 6.6 -5 -0 -0 -0.5 -2 -0 -0 -1.8 -3 -0 -0 -2.7 -6 -0 -0 0.7 -4 -0 -0 2.5 -3 -0 -0 -1.2 -6 -0 -0 -0.3 -6 -0 -0 -0.5 -2 -0 -0 -1.7 -2 -0 -0 5.3 -4 -0 -0 3.4 -3 -0 -0 -4.6 -3 -0 -0 -0.5 -3 -0 -0 -2.4 -2 -0 -0 3 -2 -0 -0 -2.5 -6 -0 -0 2.3 -3 -0 -0 -0.8 -6 -0 -0 -5.5 -5 -0 -0 5.1 -2 -0 -0 4.5 -5 -0 -0 -4.9 -3 -0 -0 -1.6 -4 -0 -0 -1.2 -2 -0 -0 1.4 -6 -0 -0 1.9 -6 -0 -0 0.8 -6 -0 -0 -3.3 -5 -0 -0 -0.9 -6 -0 -0 1.6 -4 -0 -0 0.7 -2 -0 -0 1.6 -4 -0 -0 -0.6 -3 -0 -0 -2.2 -2 -0 -0 3.3 -3 -0 -0 -5 -2 -0 -0 -0.2 -4 -0 -0 2.9 -6 -0 -0 -1.9 -3 -0 -0 0.6 -2 -0 -0 2.5 -3 -0 -0 -4.8 -2 -0 -0 2.9 -5 -0 -0 -1.6 -3 -0 -0 2.2 -3 -0 -0 -1.7 -4 -0 -0 0.5 -6 -0 -0 -2.6 -6 -0 -0 -1.5 -3 -0 -0 0.3 -5 -0 -0 2 -3 -0 -0 -2 -6 -0 -0 4.7 -5 -0 -0 -0.3 -3 -0 -0 -6.8 -2 -0 -0 -0.1 -5 -0 -0 -1.1 -6 -0 -0 -0.1 -2 -0 -0 0.5 -6 -0 -0 -1 -3 -0 -0 2.9 -3 -0 -0 1.3 -5 -0 -0 -8.2 -3 -0 -0 3 -6 -0 -0 -4.8 -2 -0 -0 1 -3 -0 -0 2.6 -2 -0 -0 -7.4 -4 -0 -0 4.8 -2 -0 -0 2.2 -3 -0 -0 -0.9 -5 -0 -0 -12.7 -5 -0 -0 -1.2 -6 -0 -0 -2 -6 -0 -0 9.8 -2 -0 -0 -2 -6 -0 -0 1.5 -2 -0 -0 8.8 -2 -0 -0 -10.7 -3 -0 -0 0.7 -3 -0 -0 5.9 -3 -0 -0 -2.2 -5 -0 -0 -5.6 -2 -0 -0 -0.5 -2 -0 -0 0.8 -3 -0 -0 0.8 -4 -0 -0 0.1 -2 -0 -0 5.7 -4 -0 -0 -6.3 -2 -0 -0 2.3 -4 -0 -0 0.4 -3 -0 -0 -0.4 -4 -0 -0 3.1 -3 -0 -0 -2.5 -3 -0 -0 -4.3 -3 -0 -0 3.6 -2 -0 -0 -3.6 -3 -0 -0 1.4 -6 -0 -0 -3.5 -6 -0 -0 0.7 -3 -0 -0 -3.9 -2 -0 -0 -1.2 -2 -0 -0 1.9 -2 -0 -0 1.6 -5 -0 -0 -1 -3 -0 -0 -0 -3 -0 -0 -6.5 -6 -0 -0 -0.6 -3 -0 -0 -0.7 -2 -0 -0 2.3 -2 -0 -0 -0.7 -2 -0 -0 -0.3 -6 -0 -0 -0 -5 -0 -0 -9.3 -5 -0 -0 4.2 -6 -0 -0 -9.9 -4 -0 -0 -5.7 -5 -0 -0 -4.9 -2 -0 -0 -0.9 -2 -0 -0 6 -6 -0 -0 -2.3 -2 -0 -0 8.6 -5 -0 -0 -4.6 -3 -0 -0 3.4 -2 -0 -0 -0.7 -2 -0 -0 6.6 -2 -0 -0 -2.8 -2 -0 -0 -4.7 -3 -0 -0 -0.4 -2 -0 -0 1.8 -2 -0 -0 -5.9 -2 -0 -0 3 -2 -0 -0 -0.4 -2 -0 -0 -3.6 -6 -0 -0 7.2 -3 -0 -0 -2.2 -4 -0 -0 -4.4 -4 -0 -0 -1.3 -2 -0 -0 -2 -3 -0 -0 0.1 -2 -0 -0 3.1 -3 -0 -0 -1.1 -5 -0 -0 -2.4 -4 -0 -0 -0.9 -5 -0 -0 0.2 -2 -0 -0 0.3 -5 -0 -0 -0.2 -3 -0 -0 -1.6 -6 -0 -0 3.7 -2 -0 -0 -0.3 -2 -0 -0 -0.3 -5 -0 -0 3.2 -6 -0 -0 -1.5 -5 -0 -0 0.6 -4 -0 -0 0.8 -3 -0 -0 0.9 -2 -0 -0 -1.2 -4 -0 -0 0.9 -3 -0 -0 0.1 -2 -0 -0 0.5 -5 -0 -0 6.6 -3 -0 -0 -3 -3 -0 -0 7.9 -5 -0 -0 -0.1 -2 -0 -0 1.7 -4 -0 -0 7.2 -3 -0 -0 1.1 -2 -0 -0 -4.9 -3 -0 -0 1.9 -4 -0 -0 10 -6 -0 -0 0.4 -2 -0 -0 -4.3 -2 -0 -0 -1.6 -3 -0 -0 -1.1 -6 -0 -0 1.7 -6 -0 -0 -0.1 -3 -0 -0 2.6 -6 -0 -0 0.7 -2 -0 -0 3.4 -3 -0 -0 -0.3 -2 -0 -0 2.7 -3 -0 -0 1.2 -3 -0 -0 3.3 -4 -0 -0 -3.5 -2 -0 -0 1.5 -3 -0 -0 -0.9 -2 -0 -0 0.4 -3 -0 -0 0.6 -2 -0 -0 0.8 -6 -0 -0 -1.4 -2 -0 -0 5.7 -3 -0z"/><circle cx="288.9" cy="399.1" r="10.4"/><circle cx="1880.9" cy="431.5" r="7.5"/></g><g fill="#ff0000"><path d="M288.9 550.7l4 0 0 -2.1 5 0 0 4.4 4 0 0 0 3 0 0 0.4 3 0 0 -3.5 3 0 0 -0.8 2 0 0 3.2 2 -0 0 -2.3 2 -0 0 -1.8 4 -0 0 -3.6 3 -0 0 -4.8 5 -0 0 5.8 6 -0 0 -3.9 5 -0 0 -0.6 3 -0 0 -2.4 4 -0 0 0.1 2 -0 0 0.5 6 -0 0 -5.3 5 -0 0 1 3 -0 0 -6.5 6 -0 0 -1.3 6 -0 0 -2.7 3 -0 0 2.3 2 -0 0 -18.8 2 -0 0 15.7 4 -0 0 -4.3 3 -0 0 -1.3 5 -0 0 -0.9 4 -0 0 -1.1 5 -0 0 -2.3 4 -0 0 -10.4 2 -0 0 3.5 5 -0 0 -0.8 4 -0 0 0.7 2 -0 0 -2.3 4 -0 0 -3.4 2 -0 0 -0.9 5 -0 0 -5.4 3 -0 0 9 2 -0 0 -8.9 3 -0 0 3.7 3 -0 0 0.9 2 -0 0 -2.9 4 -0 0 4.9 2 -0 0 -1.1 3 -0 0 3 5 -0 0 2.1 5 -0 0 -8.6 5 -0 0 12.2 4 -0 0 1.3 3 -0 0 -2.9 4 -0 0 1.6 4 -0 0 -5.3 4 -0 0 5.7 6 -0 0 -1.2 2 -0 0 -0.9 3 -0 0 -3 6 -0 0 1.4 2 -0 0 -3.7 3 -0 0 -0 6 -0 0 -3.3 2 -0 0 0.1 3 -0 0 -3.7 5 -0 0 -8.7 5 -0 0 6.5 2 -0 0 -4.2 4 -0 0 -0.2 2 -0 0 10.2 3 -0 0 4.8 2 -0 0 2.3 5 -0 0 9 3 -0 0 9.7 5 -0 0 4.1 2 -0 0 -2.5 4 -0 0 7.6 6 -0 0 -0.6 2 -0 0 1 3 -0 0 3.4 3 -0 0 0.3 5 -0 0 3.5 2 -0 0 -10.9 4 -0 0 9.8 4 -0 0 -1 2 -0 0 -1.5 4 -0 0 6.7 4 -0 0 -2.5 6 -0 0 -1 2 -0 0 0.9 6 -0 0 4 6 -0 0 -3.6 5 -0 0 -1.5 3 -0 0 8.8 4 -0 0 -4.1 3 -0 0 4.7 6 -0 0 -5.5 2 -0 0 1.3 4 -0 0 -0.1 6 -0 0 -4 2 -0 0 -3.9 6 -0 0 -1.7 4 -0 0 2.1 4 -0 0 -1 5 -0 0 -13.2 6 -0 0 9.5 3 -0 0 -5 6 -0 0 6.4 5 -0 0 10.8 5 -0 0 8.1 4 -0 0 -2 2 -0 0 5.8 4 -0 0 -2.8 2 -0 0 -6.5 6 -0 0 2.4 3 -0 0 0.7 2 -0 0 6.3 3 -0 0 -0 3 -0 0 1.4 6 -0 0 -2.6 2 -0 0 3.4 2 -0 0 1.2 3 -0 0 -2 2 -0 0 1.3 6 -0 0 3.4 5 -0 0 0.2 6 -0 0 -0.3 2 -0 0 0.4 5 -0 0 -1.9 4 -0 0 2.5 3 -0 0 -2.8 4 -0 0 1.1 3 -0 0 1.5 3 -0 0 3.8 4 -0 0 -3 5 -0 0 2.8 3 -0 0 -4 2 -0 0 5.3 2 -0 0 -0.2 2 -0 0 -1.2 6 0 0 0.5 3 0 0 0.5 2 0 0 -1.9 2 -0 0 2.3 5 0 0 1.9 4 0 0 -7.9 4 0 0 5.8 3 0 0 -1.5 3 0 0 -2.7 5 0 0 6.2 3 0 0 -1.3 3 0 0 -2.8 6 -0 0 1.6 2 -0 0 0.5 2 -0 0 -0.3 2 -0 0 -2.5 2 -0 0 4.4 3 -0 0 -0.8 6 -0 0 -2.1 6 -0 0 4.4 3 -0 0 -2.6 3 -0 0 3.7 6 -0 0 3 4 -0 0 -1.9 2 -0 0 0.3 4 -0 0 -2.6 2 -0 0 3.2 5 -0 0 -4 6 -0 0 2.6 2 -0 0 2 2 -0 0 -9 3 -0 0 7.9 3 -0 0 -4.3 2 -0 0 -5.7 2 -0 0 10.6 3 -0 0 -0.8 2 -0 0 2.5 6 -0 0 -1 2 -0 0 -3.6 6 -0 0 3.9 2 -0 0 -4.4 3 -0 0 -2.4 6 -0 0 7.8 6 -0 0 -5 5 -0 0 -1.9 2 -0 0 2 6 -0 0 2.1 6 -0 0 1.8 3 -0 0 -0.4 6 -0 0 -0.1 5 -0 0 -7 5 -0 0 -0.8 5 -0 0 6.4 2 -0 0 -3.7 4 -0 0 -0.9 3 -0 0 5.6 6 -0 0 -3.5 6 -0 0 2.3 3 -0 0 -4.2 5 -0 0 -7.1 2 -0 0 6.2 4 -0 0 0.3 2 -0 0 -0.6 4 0 0 -7 5 0 0 2.8 2 0 0 -0.4 6 0 0 -11.1 3 0 0 -6.2 6 0 0 6.5 3 0 0 -0.9 4 0 0 -4.1 2 0 0 6.3 3 0 0 3.5 3 0 0 3.1 2 0 0 2.7 3 0 0 -1.1 6 0 0 -2.9 3 0 0 3.2 4 0 0 -1.7 5 0 0 1.9 3 0 0 2.5 6 0 0 -0.8 5 0 0 0.7 6 0 0 4.9 6 0 0 -2.6 4 0 0 0.6 6 0 0 -2.2 2 0 0 6.6 6 0 0 -8.2 3 0 0 5.2 4 0 0 1.7 5 0 0 -3.7 3 0 0 2.9 3 0 0 2.7 5 0 0 0.4 5 0 0 -1.7 3 0 0 0.8 6 0 0 1.8 2 0 0 -9.1 4 0 0 5.8 3 0 0 -7.9 5 0 0 9.2 2 0 0 -6.5 2 0 0 8.2 3 0 0 -3.5 2 0 0 3 6 0 0 -4.7 2 0 0 -0.6 2 0 0 -1.7 3 0 0 4.5 2 0 0 1 3 0 0 0.2 3 0 0 -3.4 2 0 0 5.9 5 0 0 -3.2 2 0 0 -3.3 2 0 0 1.5 4 0 0 -3.5 3 0 0 1.9 3 0 0 4.4 4 0 0 -0.6 2 0 0 -2 3 0 0 0.4 2 0 0 0 2 0 0 -3.2 2 0 0 4.6 6 0 0 -5.1 3 0 0 3.8 3 0 0 -2.7 6 0 0 1.4 2 0 0 -5.6 2 0 0 4.9 2 0 0 -0.4 3 0 0 -1.4 3 0 0 -4.1 5 0 0 2.7 3 0 0 1.6 5 0 0 2.8 4 0 0 0.8 2 0 0 0.1 2 0 0 -0.8 4 0 0 -3.4 6 0 0 0.5 6 0 0 2.6 3 0 0 2.3 3 0 0 1 4 0 0 0.6 5 0 0 -0.4 3 0 0 -1.1 4 0 0 -0.4 4 0 0 2.3 2 0 0 1.4 2 0 0 -4 4 0 0 4.1 2 0 0 -1.8 3 0 0 -3.5 3 0 0 2.6 3 0 0 -1.2 3 0 0 2.9 5 0 0 -3.7 6 0 0 2.7 4 0 0 1 3 0 0 -5.4 3 0 0 6.7 6 0 0 -2.1 5 0 0 -0.8 5 0 0 2 2 0 0 0.2 5 0 0 -3.6 2 0 0 2.6 2 0 0 -2.5 2 0 0 5.2 6 0 0 -3.1 4 0 0 1 6 0 0 2.6 3 0 0 -2.8 4 0 0 0.8 4 0 0 0 3 0 0 1.4 2 0 0 -1.5 5 0 0 0.1 6 0 0 1.4 3 0 0 -0.7 5 0 0 1.3 3 0 0 -0.4 3 0 0 -1.9 3 0 0 -1.3 2 0 0 4.1 2 0 0 -4.3 2 0 0 0.8 5 0 0 -3.3 6 0 0 0.1 3 0 0 6.7 6 0 0 -0.3 3 0 0 -0.1 4 0 0 0.1 2 0 0 1.1 3 0 0 -3 3 0 0 1 6 0 0 -2 3 0 0 5.5 3 0 0 -5.5 2 0 0 1.1 2 0 0 4.8 6 0 0 -2.4 3 0 0 -1.7 2 0 0 2.3 5 0 0 1.3 5 0 0 -2.1 3 0 0 -1.9 3 0 0 2.7 2 0 0 -0.6 5 0 0 1.9 4 0 0 -1.1 4 0 0 0.3 3 0 0 -1.3 2 0 0 2.9 3 0 0 -5.8 3 0 0 2 6 0 0 0.5 6 0 0 -3.9 6 0 0 2.1 2 0 0 -0.5 3 0 0 2.2 2 0 0 0.3 2 0 0 1.2 3 0 0 -1.6 2 0 0 2.3 5 0 0 0.2 4 0 0 -0.6 6 0 0 -3.9 3 0 0 3.6 3 0 0 0.4 6 0 0 1.1 4 0 0 -2.3 2 0 0 0.4 3 0 0 2.5 3 0 0 -7.9 3 0 0 6.8 3 0 0 -7.9 2 0 0 5.1 2 0 0 -8.4 3 0 0 10.7 5 0 0 -3.5 5 0 0 -1 2 0 0 6 3 0 0 0.1 3 -0 0 -6 2 -0 0 2.3 2 0 0 2 3 0 0 -1.4 4 0 0 -1.1 6 0 0 5.6 2 0 0 -1.4 2 -0 0 -2.9 4 -0 0 3.9 6 -0 0 0.3 3 0 0 -0.1 2 0 0 -0.1 4 0 0 -2.9 4 0 0 -2 3 0 0 5.1 4 0 0 -10.6 3 0 0 6.4 2 0 0 -1.9 4 0 0 2.7 3 0 0 0.6 5 -0 0 3.6 2 -0 0 -12.9 4 -0 0 13.4 6 -0 0 0.1 6 -0 0 -0.9 2 -0 0 1.3 4 -0 0 -4.4 6 -0 0 4.5 2 -0 0 -6.7 3 -0 0 4.6 3 -0 0 -2.2 2 0 0 1.9 4 0 0 1.9 5 0 0 -4.2 3 0 0 2.4 3 0 0 -1 2 0 0 1.3 4 0 0 -1.1 2 0 0 0.3 2 0 0 -0.4 4 0 0 0.2 6 0 0 1.3 6 0 0 -0.1 3 0 0 -0.9 6 0 0 -1.8 6 0 0 3 5 0 0 -12.3 4 0 0 11.3 4 0 0 -3.5 2 0 0 23.9 -2 0 0 5.5 -6 0 0 -7.9 -4 0 0 3.9 -3 0 0 2 -5 0 0 1.4 -2 0 0 -3.3 -4 0 0 -0.5 -2 0 0 0.5 -2 0 0 -2.1 -2 0 0 0.5 -6 0 0 6.3 -4 0 0 -8.5 -5 0 0 4.3 -2 0 0 0.1 -6 0 0 -1.7 -3 0 0 1.9 -5 0 0 -2.6 -3 0 0 0.7 -4 0 0 1.3 -4 0 0 -2.5 -2 0 0 0.6 -6 0 0 2.3 -3 0 0 -3 -6 0 0 1.7 -2 0 0 -0.1 -3 0 0 0.6 -3 0 0 -3.9 -4 0 0 3.3 -6 0 0 1 -2 0 0 1.5 -2 0 0 -2.7 -3 0 0 -1.8 -3 0 0 2 -2 0 0 5.5 -6 0 0 -7.1 -3 0 0 -1.5 -3 0 0 5.8 -3 0 0 -3.1 -2 0 0 -1.2 -2 0 0 0.6 -5 0 0 0.4 -3 0 0 -2.1 -3 0 0 -1 -3 0 0 0.6 -4 0 0 0.1 -5 0 0 -0.3 -2 0 0 0.6 -5 0 0 -1.9 -4 0 0 3.8 -4 0 0 -2.6 -3 0 0 -0.5 -2 0 0 2.9 -6 0 0 1.3 -5 0 0 -2.6 -2 0 0 2.6 -4 0 0 -3.6 -5 0 0 -1.3 -2 0 0 1 -4 0 0 -0.8 -2 0 0 1 -6 0 0 -0.8 -3 0 0 -1.9 -2 0 0 1.6 -2 0 0 6.3 -2 0 0 -6.5 -5 0 0 5.7 -3 0 0 -6.8 -2 0 0 -0.2 -6 0 0 0.9 -5 0 0 1.7 -4 0 0 -0.5 -2 0 0 5.7 -2 0 0 -6.3 -5 0 0 -0.6 -3 0 0 5.8 -5 0 0 -5.3 -4 0 0 0.8 -3 0 0 0.4 -3 0 0 0.7 -4 0 0 3.8 -4 0 0 -5.7 -3 0 0 6.6 -6 0 0 -4 -5 0 0 2.1 -6 0 0 0.8 -3 0 0 -2.4 -3 0 0 -0.4 -6 0 0 -3.5 -5 0 0 2.1 -6 0 0 -1.7 -2 0 0 -0.5 -2 0 0 2 -4 0 0 -2.3 -3 0 0 -0.2 -3 0 0 0 -5 0 0 6.2 -2 0 0 0.1 -2 0 0 -6.2 -6 0 0 2.3 -4 0 0 -3.3 -2 0 0 3 -2 0 0 -1.6 -5 0 0 0.5 -3 0 0 3.1 -2 0 0 -2.2 -3 0 0 -4.9 -5 0 0 4.3 -6 0 0 -0.3 -2 0 0 5.7 -3 0 0 -7.8 -4 0 0 6.4 -6 0 0 -5.7 -4 0 0 -0.4 -4 0 0 0.7 -4 0 0 1.1 -2 0 0 2.9 -3 0 0 -6.2 -5 0 0 2.1 -2 0 0 1.9 -2 0 0 5.9 -3 0 0 -9.4 -5 0 0 1.5 -2 0 0 -2.4 -5 0 0 2.9 -3 0 0 -2.9 -3 0 0 4.8 -5 0 0 -2.4 -6 0 0 -2 -6 0 0 2.7 -3 0 0 4.1 -2 0 0 -2.3 -2 0 0 -3.7 -3 0 0 1.4 -5 0 0 -0.8 -2 0 0 -1.5 -2 0 0 -0.8 -2 0 0 1.2 -6 0 0 0.6 -3 0 0 -0.7 -2 0 0 5.5 -2 0 0 -1.6 -2 0 0 -1.7 -2 0 0 -3 -5 0 0 0.4 -6 0 0 1 -3 0 0 5.9 -3 0 0 -6.5 -4 0 0 0.3 -3 0 0 -2.7 -2 0 0 1.3 -3 0 0 1.1 -3 0 0 -0.6 -3 0 0 -3 -3 0 0 2 -3 0 0 5.5 -3 0 0 -3.9 -6 0 0 -3.1 -5 0 0 2.6 -2 0 0 -4.2 -3 0 0 9.1 -2 0 0 -9.6 -3 0 0 3.7 -3 0 0 -5 -6 0 0 0.3 -3 0 0 2.3 -5 0 0 -3 -3 0 0 -0.2 -4 0 0 4.1 -2 0 0 0.8 -2 0 0 0.8 -3 0 0 -3.2 -3 0 0 0.9 -2 0 0 2.3 -6 0 0 -1.3 -2 0 0 1.8 -6 0 0 -1.8 -2 0 0 5.6 -3 0 0 -3.6 -3 0 0 3.2 -6 0 0 -2 -2 0 0 -0.5 -3 0 0 0.2 -5 0 0 4 -3 0 0 -2.9 -2 0 0 5 -3 0 0 -2.4 -3 0 0 -3.4 -5 0 0 1.5 -3 0 0 -3.5 -6 0 0 0 -2 0 0 -0.6 -6 0 0 0.8 -2 0 0 3.5 -4 0 0 -4.9 -2 0 0 2 -5 0 0 5.8 -2 0 0 1.6 -2 0 0 -5.4 -3 0 0 -3.1 -3 0 0 1.2 -4 0 0 9.5 -2 0 0 -12.4 -5 0 0 0.5 -3 0 0 3.5 -2 0 0 -0.1 -3 0 0 -2.8 -5 0 0 1.8 -3 0 0 -1.6 -2 0 0 -1.5 -2 0 0 0.1 -5 0 0 -1.8 -6 0 0 0.2 -6 0 0 3.4 -4 0 0 1.2 -5 0 0 -4.9 -3 0 0 1.4 -5 0 0 -3.7 -6 0 0 -1.2 -4 0 0 1.1 -4 0 0 -2 -2 0 0 2.9 -4 0 0 3.6 -4 0 0 -6.2 -2 0 0 -0.9 -3 0 0 -2.6 -6 0 0 -2.2 -3 0 0 -4.7 -2 0 0 0.4 -2 0 0 -1.4 -2 0 0 2.8 -2 0 0 0.6 -3 0 0 3.9 -4 0 0 0.2 -4 0 0 3.6 -4 0 0 6.4 -2 0 0 2.7 -5 0 0 -2.2 -3 0 0 3.3 -5 0 0 -2 -4 0 0 2.1 -2 0 0 4.9 -3 0 0 -8.3 -3 0 -0 7.7 -2 0 -0 -3.9 -3 0 -0 -1.6 -2 0 -0 4.1 -6 0 -0 -4.7 -3 0 -0 5.6 -6 0 -0 -0.1 -4 0 -0 -2.1 -3 0 -0 -1.3 -2 0 -0 3.6 -6 0 -0 -2 -2 0 -0 -3.1 -4 0 -0 0.7 -5 0 -0 0.2 -2 0 -0 0.2 -3 0 -0 2.8 -6 0 -0 -3 -6 0 -0 -0.2 -4 0 -0 2.7 -6 0 -0 -2.2 -3 0 -0 -0.4 -2 0 -0 -0.8 -6 0 -0 0.8 -2 0 -0 -0.7 -5 0 -0 4.1 -6 0 -0 -4.9 -3 0 -0 0.6 -6 0 -0 3.1 -5 0 -0 -2.5 -6 0 -0 3.2 -5 0 -0 2.7 -2 0 -0 4.1 -5 0 -0 -10.4 -3 0 -0 4 -5 0 -0 2.6 -3 0 -0 -9 -6 0 -0 5.6 -2 0 -0 -7 -3 0 -0 0.2 -3 0 -0 0 -4 0 -0 0.2 -3 0 -0 7.7 -4 0 -0 -8.8 -2 0 -0 4 -6 0 -0 -2.4 -3 0 -0 -1.3 -2 0 -0 8.2 -5 -0 -0 -4.1 -3 -0 -0 -3.5 -5 -0 -0 1.1 -3 -0 -0 -1.7 -2 0 -0 0.1 -3 -0 -0 4.6 -2 -0 -0 -1.3 -3 -0 -0 -1.6 -6 -0 -0 -0.2 -2 -0 -0 2.5 -2 -0 -0 -4.9 -2 -0 -0 2.5 -4 -0 -0 -0.9 -2 -0 -0 -1.3 -2 -0 -0 2 -2 -0 -0 -1.6 -3 -0 -0 -0.9 -3 -0 -0 -1.1 -2 -0 -0 -0.5 -2 -0 -0 0.6 -3 -0 -0 1 -3 -0 -0 -2.6 -6 -0 -0 8.3 -6 -0 -0 -2.8 -3 -0 -0 3.2 -3 -0 -0 -4 -6 -0 -0 1.2 -6 -0 -0 0.2 -3 -0 -0 0.3 -4 -0 -0 -1.8 -3 -0 -0 -8.1 -5 -0 -0 -0.9 -2 -0 -0 -0.8 -5 -0 -0 1.9 -3 -0 -0 -2.3 -6 -0 -0 -2.3 -4 -0 -0 2.2 -3 -0 -0 -2 -4 -0 -0 -0.8 -2 -0 -0 2.3 -2 -0 -0 -3.4 -3 -0 -0 1.5 -6 -0 -0 -7.6 -5 -0 -0 -10.2 -3 -0 -0 4.3 -3 -0 -0 -6 -5 -0 -0 4.6 -4 -0 -0 1.8 -6 -0 -0 5.1 -4 -0 -0 1.1 -2 -0 -0 -3.1 -3 -0 -0 0.5 -4 -0 -0 5.3 -2 -0 -0 0.2 -4 -0 -0 -1.3 -3 -0 -0 11.6 -6 -0 -0 -9.3 -6 -0 -0 1.1 -2 -0 -0 -1.3 -3 -0 -0 -3.5 -5 -0 -0 0.2 -6 -0 -0 3.7 -5 -0 -0 -3.5 -2 -0 -0 -2.8 -5 -0 -0 1.5 -5 -0 -0 -2.8 -3 -0 -0 -0.1 -4 -0 -0 10.6 -3 -0 -0 -12.4 -6 -0 -0 3.1 -2 -0 -0 -2.6 -3 -0 -0 -2.4 -2 -0 -0 5.4 -5 -0 -0 -7.9 -6 -0 -0 -2.2 -4 -0 -0 4.9 -3 -0 -0 -5.7 -2 -0 -0 0.1 -6 -0 -0 -2.2 -3 -0 -0 -7.3 -3 -0 -0 -5.9 -4 -0 -0 -8.5 -3 -0 -0 -4.1 -2 -0 -0 -5.3 -3 -0 -0 2.1 -5 -0 -0 9.3 -4 -0 -0 -6.4 -2 -0 -0 2.6 -3 -0 -0 -0.6 -2 -0 -0 -0.8 -5 -0 -0 4.1 -5 -0 -0 -0.3 -2 -0 -0 8.1 -3 -0 -0 -2.9 -2 -0 -0 0.9 -2 -0 -0 -1.3 -3 -0 -0 -2 -3 -0 -0 1.7 -4 -0 -0 1.9 -5 -0 -0 8.2 -3 -0 -0 -11.2 -5 -0 -0 9.9 -2 -0 -0 -8.8 -5 -0 -0 7.2 -3 -0 -0 -10.7 -4 -0 -0 1.8 -3 -0 -0 -5.2 -5 -0 -0 1.1 -2 -0 -0 -0.9 -6 -0 -0 -1.1 -6 -0 -0 1.9 -2 -0 -0 0.4 -2 -0 -0 2.3 -4 -0 -0 -4.9 -6 -0 -0 5.2 -5 -0 -0 17.8 -3 -0 -0 -17.2 -3 -0 -0 3.1 -2 -0 -0 -1.6 -3 -0 -0 4.3 -2 -0 -0 -0.4 -2 -0 -0 0.3 -6 -0 -0 0.9 -3 -0 -0 3.5 -2 -0 -0 1.6 -3 -0 -0 -1.1 -3 -0 -0 3.6 -5 -0 -0 3.8 -5 -0 -0 3.6 -2 -0 -0 -2 -3 -0 -0 -1.2 -3 -0 -0 1.3 -3 -0 -0 3.2 -5 -0 -0 2.1 -6 -0 -0 0.3 -3 -0 -0 -0.5 -2 -0 -0 2.2 -2 -0 -0 2.7 -2 -0 -0 -1.3 -3 -0 -0 -1.4 -2 -0 -0 3.4 -3 -0 -0 -0.6 -3 -0 -0 -0.7 -2 -0 -0 4.3 -2 -0 -0 2.4 -5 -0 -0 -2.8 -3 -0 -0 3.1 -6 -0 -0 -1.7 -3 -0 -0 6.4 -5 -0 -0 -3.1 -3 -0 -0 2.2 -2 -0 -0 -1.8 -2 -0 -0 0.7 -6 -0 -0 0.5 -4 -0 -0 0.7 -6 -0z"/><circle cx="288.9" cy="562.4" r="10.2"/><circle cx="1880.9" cy="592.6" r="7.5"/></g><g fill="#800080"><path d="M288.9 729.6l3 0 0 0.7 5 -0 0 -0.8 3 -0 0 -3 6 -0 0 -3 4 -0 0 -2.2 5 -0 0 -0.2 2 0 0 -7.9 3 0 0 5.6 2 -0 0 1.7 2 -0 0 -0.3 2 -0 0 -4.9 3 -0 0 3.1 2 -0 0 -1.9 2 -0 0 0.3 3 -0 0 -2 3 -0 0 -1.3 2 -0 0 -0.3 2 -0 0 -8.4 2 -0 0 2.8 4 -0 0 -2.3 6 -0 0 -2.3 3 -0 0 -4.2 3 -0 0 1.9 3 -0 0 -5.8 6 -0 0 0.6 3 -0 0 -11 4 -0 0 8.2 4 -0 0 -2.9 6 -0 0 -4.3 4 -0 0 5.3 2 -0 0 -3.8 2 -0 0 -3.8 2 -0 0 1.1 4 -0 0 1.5 6 -0 0 -2.8 3 -0 0 -2.2 4 -0 0 -3.1 2 -0 0 1.7 2 -0 0 -1.6 6 -0 0 -1.2 2 -0 0 -3.4 3 -0 0 -0.9 2 -0 0 1.7 4 -0 0 1.9 3 -0 0 -5.1 6 -0 0 -6.6 5 -0 0 2.3 3 -0 0 4 5 -0 0 3.9 2 -0 0 -0.1 4 -0 0 -6 4 -0 0 0.6 3 -0 0 -8.2 5 -0 0 9.2 5 -0 0 -5.5 2 -0 0 7.9 2 -0 0 -6.4 3 -0 0 1.2 6 -0 0 1.8 5 -0 0 -0 2 -0 0 0.3 2 -0 0 0.9 3 -0 0 -1.7 2 -0 0 -9.4 3 -0 0 0.9 6 -0 0 -0.1 2 -0 0 9.8 2 -0 0 -0.6 5 -0 0 -5.2 5 -0 0 1.4 5 -0 0 -0 5 -0 0 8.9 3 -0 0 -0.6 5 -0 0 -1 5 -0 0 7.7 2 -0 0 1 3 -0 0 -0.1 3 -0 0 4.3 2 -0 0 -2.3 4 -0 0 -4 2 -0 0 8.9 2 -0 0 2 5 -0 0 1 3 -0 0 -2.9 2 -0 0 2 2 -0 0 1.9 4 -0 0 0.4 4 -0 0 1.6 2 -0 0 0.3 4 -0 0 2.7 6 -0 0 -3.7 5 -0 0 3.6 2 -0 0 5.2 3 -0 0 -2.3 4 -0 0 1.4 5 -0 0 4.8 3 -0 0 -1.5 5 -0 0 -6.5 3 -0 0 6.5 6 -0 0 3.8 4 -0 0 1.2 3 -0 0 0.9 3 -0 0 -1 5 -0 0 1.3 2 0 0 0.5 3 0 0 -3.8 3 -0 0 2.8 2 0 0 1.2 6 -0 0 -1.5 2 -0 0 0.8 2 0 0 -0.9 3 -0 0 0.8 2 0 0 -0.9 3 0 0 -3.4 2 -0 0 -2.1 2 0 0 -7.1 6 0 0 8.9 3 0 0 -4.9 3 0 0 0 2 0 0 -0.6 2 0 0 3.4 3 0 0 2.2 4 0 0 -0.1 2 0 0 7.2 3 0 0 3.6 5 -0 0 1 6 -0 0 -1.1 3 0 0 0.9 3 0 0 9.1 3 0 0 -0.9 6 -0 0 0.1 6 -0 0 1.9 2 -0 0 1 4 -0 0 4.5 3 -0 0 -1 4 -0 0 1.5 3 -0 0 -2.3 2 -0 0 2.4 2 -0 0 -3.2 3 0 0 3.9 6 0 0 -1.2 4 0 0 1.6 4 0 0 -2.5 4 0 0 1.9 4 0 0 0.3 3 0 0 1.6 4 0 0 -9.3 2 0 0 6.7 3 0 0 3.6 3 -0 0 0.5 5 -0 0 -5.5 3 -0 0 1.7 2 -0 0 -0.2 2 -0 0 -1.1 2 0 0 4.3 5 0 0 1.2 5 0 0 -1.1 3 0 0 2.7 4 -0 0 -4.9 6 -0 0 5.4 3 -0 0 -4.4 3 -0 0 6.1 2 -0 0 -1.4 5 -0 0 -2.4 2 -0 0 2.8 2 -0 0 1 3 -0 0 -7.8 2 -0 0 6.1 2 -0 0 0.3 6 -0 0 -4 2 -0 0 -5.7 6 -0 0 7.1 3 -0 0 1.3 6 -0 0 2.3 2 0 0 -4.8 6 -0 0 6.2 2 -0 0 -0.8 2 -0 0 -7.2 4 -0 0 3.6 2 -0 0 3.2 3 -0 0 -4.8 3 -0 0 5 3 -0 0 -2.9 4 -0 0 2.9 3 -0 0 -4.3 6 -0 0 -1.7 2 -0 0 6 2 -0 0 -2.1 6 -0 0 1.1 2 -0 0 2.4 2 -0 0 -0.2 3 -0 0 -1.8 2 -0 0 -3.4 2 -0 0 3.9 3 -0 0 -0.8 6 -0 0 -12.2 2 -0 0 12.7 3 -0 0 -6.3 6 -0 0 9.7 4 -0 0 -2.8 2 -0 0 -3.5 3 -0 0 6.8 5 -0 0 -1.5 5 -0 0 -3.3 2 -0 0 2.2 2 -0 0 -1 2 -0 0 4.9 6 -0 0 -1 4 -0 0 -5.9 2 -0 0 2.2 4 -0 0 0.7 2 -0 0 -3.2 3 -0 0 2.2 2 -0 0 -0.2 3 -0 0 -0.5 5 -0 0 2.2 2 -0 0 -3.9 6 -0 0 -0.1 3 -0 0 2.6 4 -0 0 -0.7 3 -0 0 -0.7 2 -0 0 -4.4 6 -0 0 -0.2 2 -0 0 -4 2 -0 0 -1.8 2 -0 0 5.8 2 -0 0 -7 4 -0 0 2.2 3 -0 0 -3.3 5 -0 0 4.5 6 -0 0 -0.3 3 -0 0 1.9 3 -0 0 -1 2 -0 0 0.3 6 -0 0 -2.5 3 -0 0 -0.5 4 -0 0 4.8 3 -0 0 1.3 2 -0 0 -5.1 3 -0 0 6.8 3 -0 0 0.8 3 -0 0 -0.4 2 -0 0 -1.2 3 -0 0 1.3 2 -0 0 -1 4 -0 0 1.6 2 -0 0 -1.6 2 -0 0 2.4 5 -0 0 1.3 6 -0 0 -0.7 6 -0 0 0.5 3 -0 0 0.7 6 -0 0 0.5 2 -0 0 0.6 3 -0 0 0.7 2 -0 0 -3.1 2 -0 0 -1.1 2 -0 0 5.7 2 -0 0 -0.8 5 -0 0 -2.9 3 -0 0 2.3 6 -0 0 0.1 5 -0 0 -0.3 3 -0 0 -0.5 3 -0 0 1.1 6 -0 0 0.4 3 -0 0 0.1 2 -0 0 -1 3 -0 0 0.2 2 -0 0 1.7 2 -0 0 -0.3 4 -0 0 -3.8 3 -0 0 5.4 5 -0 0 -0.5 4 -0 0 -3.3 3 -0 0 0.1 3 -0 0 -5.6 2 -0 0 6.6 3 -0 0 0.4 4 -0 0 -10.4 2 -0 0 3.4 3 -0 0 -3.4 3 -0 0 -6.4 6 -0 0 14.5 3 -0 0 -1 6 -0 0 -4.3 2 -0 0 3.3 6 -0 0 2.3 3 -0 0 -1.1 3 -0 0 -3.9 2 -0 0 2.7 4 -0 0 -3.7 3 -0 0 2.1 3 -0 0 1.5 2 -0 0 -0.4 2 -0 0 0.2 2 -0 0 1.3 2 -0 0 -0 6 -0 0 -1.2 3 -0 0 0.4 5 -0 0 -1.3 3 -0 0 -1.4 3 -0 0 2.8 2 -0 0 -0.6 3 -0 0 1.5 6 -0 0 2.4 4 -0 0 -1.1 2 -0 0 -4.8 6 -0 0 5.6 3 -0 0 -1.6 5 -0 0 0.5 2 -0 0 -2.3 6 -0 0 3.9 4 -0 0 1.1 2 -0 0 -2.6 6 -0 0 3 3 -0 0 -1.8 4 -0 0 0.4 3 -0 0 2.7 3 -0 0 -1.7 2 -0 0 -0.4 3 -0 0 -1.4 5 -0 0 2.5 4 -0 0 -3.9 6 -0 0 4.2 2 -0 0 -8.5 6 -0 0 10.2 3 -0 0 -1.4 3 -0 0 -3.3 2 -0 0 3.9 5 -0 0 -5.2 2 -0 0 -0.4 2 -0 0 3.4 5 -0 0 -0.4 5 -0 0 2.9 5 -0 0 -2.7 3 -0 0 2.7 4 -0 0 1.9 6 -0 0 -1.3 4 -0 0 -2.1 3 -0 0 0.3 2 -0 0 2.2 6 -0 0 0.1 4 -0 0 0.6 6 -0 0 -1.2 2 -0 0 2 2 -0 0 0.2 2 -0 0 -8.1 2 -0 0 0.1 5 -0 0 6.9 3 -0 0 0.2 5 -0 0 -6.1 5 -0 0 3.3 2 -0 0 0.2 4 -0 0 -3.2 4 -0 0 0.5 2 -0 0 1.2 4 -0 0 4.2 5 -0 0 -1.7 3 -0 0 1.3 3 -0 0 -6.6 5 -0 0 -8.7 6 -0 0 15.7 2 -0 0 -4.8 3 -0 0 4.5 4 -0 0 -3.2 2 -0 0 0.1 5 -0 0 -1 6 -0 0 5.2 2 -0 0 -1.2 2 -0 0 -0.3 3 -0 0 -4.9 3 -0 0 4.8 3 -0 0 -0 5 -0 0 1 3 -0 0 -0.9 5 -0 0 0.3 5 -0 0 1 2 -0 0 0.2 6 -0 0 0.3 4 -0 0 -1.7 3 -0 0 -5.1 3 -0 0 5.7 2 -0 0 1.7 3 -0 0 -3 3 -0 0 3.2 5 -0 0 -3.1 4 -0 0 3.2 3 -0 0 -3.4 5 -0 0 0.8 6 -0 0 -1.2 4 -0 0 4.5 4 -0 0 -0.2 3 -0 0 1.2 6 -0 0 -0.6 3 -0 0 -0.9 4 -0 0 -7 2 -0 0 8.4 4 -0 0 -1.6 3 -0 0 3.2 2 -0 0 -0.2 3 -0 0 -1.8 2 -0 0 0.9 2 -0 0 -1.4 6 -0 0 0.3 3 -0 0 0.6 3 -0 0 1.4 3 -0 0 -0.8 2 -0 0 0.8 2 -0 0 -3.8 4 -0 0 2.9 2 -0 0 1.4 2 -0 0 0.6 3 -0 0 0.4 2 -0 0 -0.2 2 -0 0 -3.4 2 -0 0 3 2 -0 0 0.8 6 -0 0 -1.8 2 -0 0 -0.1 5 -0 0 0.5 6 -0 0 0.3 5 -0 0 -2.3 6 -0 0 -0.5 2 -0 0 -1.1 3 -0 0 1.2 3 -0 0 1 2 -0 0 0.5 4 -0 0 2.6 5 -0 0 -3 2 -0 0 -0.6 3 -0 0 2 2 -0 0 -0.9 4 -0 0 -1.8 3 -0 0 -5.4 2 -0 0 6.7 6 -0 0 3.9 2 -0 0 -0.2 5 -0 0 -0.7 2 -0 0 -4.9 5 -0 0 3.3 5 -0 0 2.5 5 -0 0 2 2 -0 0 -2 2 -0 0 -1.2 3 -0 0 -1.7 3 -0 0 3.5 6 -0 0 -0.7 6 -0 0 -2.7 4 -0 0 -2 2 -0 0 3 3 -0 0 -3.2 2 -0 0 1.7 5 -0 0 1.5 2 -0 0 2.1 5 -0 0 -3.8 2 -0 0 1.9 3 -0 0 -3.2 2 -0 0 3.5 3 -0 0 1.6 2 -0 0 -3.9 2 -0 0 21.7 -2 -0 0 -1 -2 -0 0 3.2 -3 -0 0 -3.7 -2 -0 0 1.2 -6 -0 0 1.1 -5 -0 0 2.7 -2 -0 0 -4.8 -6 -0 0 2.8 -2 -0 0 3.7 -6 -0 0 -5.4 -2 -0 0 1.2 -2 -0 0 -0.3 -5 -0 0 -1.4 -2 -0 0 4.2 -4 -0 0 -4.4 -6 -0 0 6.3 -2 -0 0 -3.3 -2 -0 0 -2.5 -3 -0 0 2.7 -4 -0 0 -0.2 -3 -0 0 -1.4 -6 -0 0 0.7 -3 -0 0 2.2 -2 -0 0 2 -5 -0 0 -2.3 -6 -0 0 -0.2 -2 -0 0 -4.8 -2 -0 0 3 -4 -0 0 2.4 -6 -0 0 0.1 -6 -0 0 1.9 -5 -0 0 -3.7 -5 -0 0 -2.7 -3 -0 0 2.4 -3 -0 0 -0.9 -6 -0 0 1.8 -3 -0 0 -0.9 -3 -0 0 -3.9 -3 -0 0 -0.5 -3 -0 0 -0 -2 -0 0 -0.5 -4 -0 0 2.6 -6 -0 0 -1.2 -2 -0 0 0.1 -3 -0 0 0.1 -6 -0 0 -0 -5 -0 0 1.7 -5 -0 0 -1.6 -6 -0 0 4.7 -3 -0 0 -3.1 -2 -0 0 -3.6 -4 -0 0 3.7 -6 -0 0 1.3 -4 -0 0 -2.7 -2 -0 0 -3.1 -6 -0 0 1.7 -3 -0 0 1.2 -2 -0 0 -3.5 -3 -0 0 8.8 -3 -0 0 -10.5 -3 -0 0 2.7 -2 -0 0 4.1 -3 -0 0 -2.3 -3 -0 0 -2.8 -3 -0 0 0.7 -3 -0 0 0.4 -4 -0 0 2.2 -6 -0 0 -3.8 -6 -0 0 0.4 -2 -0 0 0.8 -3 -0 0 -0.6 -2 -0 0 3.2 -6 -0 0 -0.7 -3 -0 0 -0.4 -2 -0 0 0.2 -2 -0 0 0.1 -5 -0 0 -4.6 -4 -0 0 2.7 -5 -0 0 2.7 -3 -0 0 -4.8 -4 -0 0 -2.5 -5 -0 0 1.6 -3 -0 0 4.3 -6 -0 0 -2.4 -4 -0 0 -0.7 -3 -0 0 -0.9 -3 -0 0 0.5 -6 -0 0 1.2 -3 -0 0 -2.2 -6 -0 0 -1.1 -5 -0 0 0.1 -3 -0 0 1.3 -2 -0 0 0.3 -4 -0 0 2.7 -5 -0 0 -3.1 -4 -0 0 0.4 -3 -0 0 1.6 -2 -0 0 0.7 -3 -0 0 -1.7 -2 -0 0 -2.5 -3 -0 0 4 -6 -0 0 0.5 -6 -0 0 -3.5 -4 -0 0 1.4 -4 -0 0 3.4 -5 -0 0 -5.7 -2 -0 0 -0.3 -4 -0 0 0.3 -2 -0 0 0.6 -3 -0 0 7.4 -5 -0 0 -7.2 -3 -0 0 3.6 -2 -0 0 -3 -2 -0 0 1.3 -6 -0 0 -2.6 -6 -0 0 1.3 -5 -0 0 0.2 -5 -0 0 -1.7 -6 -0 0 1.6 -6 -0 0 -2.3 -6 -0 0 1.1 -2 -0 0 -0.4 -3 -0 0 2 -4 -0 0 0.4 -4 -0 0 -2.8 -3 -0 0 -0.8 -2 -0 0 4.4 -4 -0 0 -0.4 -4 -0 0 -4.6 -3 -0 0 3.2 -2 -0 0 -0.6 -2 -0 0 -1.7 -5 -0 0 1.9 -6 -0 0 2.5 -3 -0 0 -3.6 -3 -0 0 2.5 -5 -0 0 2 -3 -0 0 3.5 -2 -0 0 -6.6 -6 -0 0 -4.1 -5 -0 0 -0.3 -6 -0 0 3.2 -4 -0 0 5.7 -3 -0 0 -9.3 -5 -0 0 1.7 -3 -0 0 6.3 -4 -0 0 -5.3 -6 -0 0 -3.6 -2 -0 0 7.8 -5 -0 0 -8.9 -3 -0 0 1.8 -3 -0 0 -0.8 -2 -0 0 3.8 -2 -0 0 -4 -6 -0 0 -0.5 -2 -0 0 1.9 -3 -0 0 -1.2 -6 -0 0 0.8 -3 -0 0 2.4 -6 -0 0 -0 -5 -0 0 -3.2 -3 -0 0 0.5 -3 -0 0 -0.2 -6 -0 0 6.1 -3 -0 0 -7.3 -6 -0 0 5.8 -2 -0 0 -1.2 -3 -0 0 -2 -3 -0 0 2.3 -2 -0 0 -3 -6 -0 0 1.1 -3 -0 0 1.9 -6 -0 0 0.9 -4 -0 0 -0.5 -2 -0 0 -0.8 -2 -0 0 -1.1 -6 -0 0 -0.2 -2 -0 0 3.6 -3 -0 0 -3.5 -5 -0 0 1.7 -2 -0 0 4.2 -6 -0 0 -4.4 -2 -0 0 -1.7 -2 -0 0 1.6 -6 -0 0 2.2 -6 -0 0 -0.7 -4 -0 0 2.6 -3 -0 0 -5.5 -4 -0 0 0.6 -2 -0 0 -1.4 -5 -0 0 -2.2 -4 -0 0 0.3 -3 -0 0 3.5 -3 -0 0 -2 -6 -0 0 -1.4 -4 -0 0 1.7 -2 -0 0 -1.6 -4 -0 0 -1.3 -3 -0 0 -0.4 -3 -0 0 2.4 -2 -0 0 -2.5 -4 -0 0 1.6 -5 -0 0 -3.1 -2 -0 0 3.1 -5 -0 0 3.4 -3 -0 0 -1.8 -2 -0 0 -0.5 -5 -0 0 -5.1 -2 -0 0 -0.8 -6 -0 0 -0.6 -2 -0 0 3.5 -5 -0 0 -7 -5 -0 0 7.1 -2 -0 0 -4.2 -3 -0 0 -2.1 -2 -0 0 0.1 -6 -0 0 8.5 -6 -0 0 -2.5 -2 -0 0 0.1 -4 -0 0 -0.6 -4 -0 0 0.9 -3 -0 0 1.1 -6 -0 0 5.1 -5 -0 0 1.3 -3 -0 0 -0.3 -5 -0 0 -1.2 -3 -0 -0 1 -2 -0 -0 -1.8 -4 -0 -0 -0.5 -2 -0 -0 -0.3 -3 -0 -0 1.8 -2 -0 -0 3.5 -5 -0 -0 -6 -3 -0 -0 4.5 -5 -0 -0 -2.8 -6 -0 -0 6.7 -2 -0 -0 -5.9 -4 -0 -0 4 -3 -0 -0 -5.2 -6 -0 -0 -0.3 -6 -0 -0 3.1 -2 -0 -0 -2.6 -2 -0 -0 -1.2 -3 -0 -0 1.4 -2 -0 -0 1.5 -3 -0 -0 -3.1 -3 -0 -0 3.9 -4 -0 -0 -1.4 -2 -0 -0 0.9 -3 -0 -0 -2.2 -3 -0 -0 -0.6 -6 -0 -0 1.5 -4 -0 -0 -4.1 -2 -0 -0 7.4 -6 -0 -0 -5.1 -2 -0 -0 -0.6 -3 -0 -0 4.1 -2 -0 -0 -0.2 -5 -0 -0 -2.4 -2 -0 -0 -4.6 -3 -0 -0 1.5 -2 -0 -0 7.1 -6 -0 -0 -4.6 -3 -0 -0 -3.1 -3 -0 -0 -1.2 -2 -0 -0 5.3 -2 -0 -0 -0.8 -4 -0 -0 0.5 -2 -0 -0 -1.2 -3 -0 -0 -1.9 -5 -0 -0 1.8 -6 -0 -0 3.7 -3 -0 -0 -6 -4 -0 -0 6.5 -3 -0 -0 -3.5 -5 -0 -0 -1.1 -6 -0 -0 1.2 -4 -0 -0 -4.2 -3 -0 -0 0.5 -2 -0 -0 4 -4 -0 -0 -3.4 -6 -0 -0 1.1 -2 -0 -0 -2.9 -4 -0 -0 2.3 -6 -0 -0 -4.3 -2 -0 -0 1.1 -5 -0 -0 3.1 -5 -0 -0 -4.1 -3 -0 -0 -0.6 -6 -0 -0 1.1 -6 -0 -0 2.5 -4 -0 -0 -2 -5 -0 -0 2.5 -2 -0 -0 -1.5 -5 -0 -0 -2.4 -2 -0 -0 -2.4 -3 -0 -0 2.7 -2 -0 -0 -2.3 -3 -0 -0 6.1 -2 -0 -0 -6.2 -3 -0 -0 3.3 -5 -0 -0 -1.1 -2 -0 -0 -4.2 -3 -0 -0 -0.7 -3 -0 -0 12.1 -3 -0 -0 -9.4 -2 -0 -0 3.4 -3 -0 -0 -6 -2 -0 -0 1.5 -3 -0 -0 -4.9 -3 -0 -0 0.4 -3 -0 -0 -2.2 -3 -0 -0 6.2 -3 -0 -0 -7.3 -2 -0 -0 -4.4 -6 -0 -0 2.3 -3 -0 -0 -3.3 -3 -0 -0 -7.9 -3 -0 -0 -1.5 -3 -0 -0 1.1 -3 -0 -0 5.2 -4 -0 -0 5.7 -3 -0 -0 -5.1 -3 -0 -0 -5.3 -6 -0 -0 4.6 -2 -0 -0 0.2 -3 -0 -0 -1.5 -3 -0 -0 -0.3 -5 -0 -0 1.6 -5 -0 -0 1.5 -2 -0 -0 0.7 -2 -0 -0 -3.2 -2 -0 -0 5.3 -3 -0 -0 -6.9 -2 -0 -0 -0.7 -4 -0 -0 1.7 -3 -0 -0 4.3 -2 -0 -0 -4.5 -2 -0 -0 -1.3 -2 -0 -0 0.3 -2 -0 -0 -0.8 -4 -0 -0 5.6 -2 -0 -0 -3.5 -4 -0 -0 -0.8 -4 -0 -0 2.2 -3 -0 -0 -6.4 -2 -0 -0 4.5 -3 -0 -0 -6.4 -5 -0 -0 6.8 -2 -0 -0 -1.4 -2 -0 -0 -0.3 -6 -0 -0 -7.7 -5 -0 -0 1.6 -2 -0 -0 -4.9 -4 -0 -0 1 -6 -0 -0 3.9 -6 -0 -0 -8.9 -3 -0 -0 2.6 -3 -0 -0 -0.9 -2 -0 -0 -1.7 -3 -0 -0 -3.4 -2 -0 -0 0.8 -2 -0 -0 -1.4 -3 -0 -0 -1.4 -3 -0 -0 5.4 -3 -0 -0 -1.6 -2 -0 -0 -7.7 -5 -0 -0 -1.8 -6 -0 -0 -3.5 -3 -0 -0 -3.2 -4 -0 -0 2.1 -2 -0 -0 0.4 -6 -0 -0 -2.3 -4 -0 -0 1.5 -4 -0 -0 5.6 -3 -0 -0 -0.4 -6 -0 -0 -1.7 -3 -0 -0 -5.1 -5 -0 -0 6.3 -5 -0 -0 3.7 -2 -0 -0 -9.5 -2 -0 -0 5.3 -3 -0 -0 -0.5 -4 -0 -0 -3.5 -3 -0 -0 2.3 -2 -0 -0 -2 -5 -0 -0 -1.6 -2 -0 -0 1.9 -3 -0 -0 -0.3 -2 -0 -0 2.5 -3 -0 -0 -2.4 -2 -0 -0 0.2 -3 -0 -0 10.8 -2 -0 -0 -10.7 -5 -0 -0 1.1 -6 -0 -0 5.1 -4 -0 -0 -4.6 -2 -0 -0 -0.3 -3 -0 -0 0.3 -4 -0 -0 2.6 -6 -0 -0 2.1 -3 -0 -0 -2.7 -5 -0 -0 4.1 -3 -0 -0 1.4 -3 -0 -0 -3.7 -3 -0 -0 4.3 -4 -0 -0 2.4 -3 -0 -0 7.5 -2 -0 -0 -7.3 -5 -0 -0 6 -6 -0 -0 1.6 -3 -0 -0 11.3 -5 -0 -0 -15 -3 -0 -0 -0.4 -5 -0 -0 4.7 -4 -0 -0 -1.2 -2 -0 -0 2.1 -6 -0 -0 1 -6 -0 -0 4 -6 -0 -0 2.5 -6 -0 -0 2.4 -3 -0 -0 3 -3 -0 -0 1.5 -6 -0 -0 4.2 -3 -0 -0 -0.5 -2 -0 -0 5.6 -3 -0 -0 -1.2 -3 -0 -0 -4.8 -6 -0 -0 1.3 -6 -0 -0 4.9 -5 -0 -0 11.8 -3 -0 -0 -12.7 -3 -0 -0 2.4 -3 -0 -0 4.6 -5 -0 -0 -2.8 -4 -0z"/><circle cx="288.9" cy="742.5" r="9.7"/><circle cx="1880.9" cy="765.0" r="7.5"/></g><g fill="#ff00ff"><path d="M288.9 873.8l6 0 0 2.8 2 0 0 -1.5 5 0 0 -1.8 6 0 0 0.6 2 0 0 -5.7 5 0 0 5.2 5 0 0 -4.3 3 0 0 0.7 2 -0 0 -0.6 2 0 0 -10.9 5 -0 0 4.7 6 -0 0 -1.5 3 -0 0 1.2 2 -0 0 -6.3 6 -0 0 3.3 3 -0 0 -5.4 2 -0 0 -0.3 3 -0 0 1.5 4 -0 0 -8 4 -0 0 -4.7 2 -0 0 5 2 -0 0 -0.5 2 -0 0 1.5 4 -0 0 -11 6 -0 0 3.6 4 -0 0 -5.8 2 -0 0 -0.5 2 -0 0 -3.1 2 -0 0 -4.3 2 -0 0 5.9 6 -0 0 -5.3 2 -0 0 2.2 3 -0 0 -4.3 4 -0 0 2.3 3 -0 0 -1.1 4 -0 0 -2.4 6 -0 0 -6.2 2 -0 0 -5.1 4 -0 0 0.1 6 -0 0 6.2 3 -0 0 -3 3 -0 0 -5.6 2 -0 0 0.1 4 -0 0 0.8 4 -0 0 -8.5 3 -0 0 10.4 3 -0 0 -3.3 6 -0 0 3.8 3 -0 0 -1.8 2 -0 0 -4.9 6 -0 0 2.2 2 -0 0 1.6 5 -0 0 3.8 6 -0 0 2.8 4 -0 0 2 6 -0 0 -0.1 2 -0 0 5.2 3 -0 0 0.8 6 -0 0 -0.8 3 -0 0 5.6 2 -0 0 0.5 2 -0 0 -1.7 2 -0 0 -5.4 2 -0 0 6.8 4 -0 0 -0.5 3 -0 0 3 6 -0 0 -6.6 5 -0 0 6.5 5 -0 0 2.9 3 -0 0 2.1 3 -0 0 5.8 2 -0 0 2.7 5 -0 0 -5 6 -0 0 5.4 2 -0 0 4.9 3 -0 0 -3.4 6 -0 0 1.3 2 -0 0 7.3 3 -0 0 -3.6 4 -0 0 -0.9 5 -0 0 4.6 4 -0 0 4 2 -0 0 1 5 -0 0 1.5 6 -0 0 1.8 2 -0 0 -12.9 3 -0 0 14.1 2 -0 0 -0.2 5 -0 0 1.2 4 -0 0 -0.1 2 -0 0 -3 3 -0 0 2.2 6 -0 0 1.5 5 -0 0 1.3 3 -0 0 -4 5 -0 0 2.8 2 -0 0 0.3 3 -0 0 1.9 4 0 0 1.5 6 0 0 -2.2 6 0 0 0.4 6 0 0 -3.6 3 0 0 5 2 0 0 -6.6 3 0 0 6.5 3 0 0 -0.8 6 0 0 1.5 2 0 0 0.9 3 0 0 -3.9 3 0 0 -7.6 2 0 0 13.9 3 0 0 -3.5 6 0 0 4.8 2 0 0 2.1 6 0 0 4 3 0 0 0.9 4 0 0 -0.1 5 0 0 -3 3 0 0 4.2 3 0 0 1.2 2 0 0 1.5 6 0 0 0.5 4 0 0 -1.9 5 0 0 -1 4 0 0 4.5 3 0 0 -4.6 3 0 0 4.3 2 0 0 0.4 4 0 0 -2.3 6 0 0 -1.3 4 0 0 6.9 2 0 0 -2.6 6 0 0 1.4 2 0 0 -1 3 0 0 1.3 6 0 0 -3 2 0 0 8.2 2 0 0 -4.6 2 0 0 -4.8 2 0 0 8.3 2 0 0 0.5 3 0 0 -1.3 3 0 0 -1 4 0 0 0.9 3 0 0 -0.4 4 0 0 -3.2 3 0 0 0.9 6 0 0 -0.6 3 0 0 4.5 2 0 0 -0.7 4 0 0 -4.2 3 0 0 4.6 3 0 0 -4.3 6 0 0 5.2 3 0 0 -1 5 0 0 -5.5 6 0 0 2.6 3 0 0 1.1 3 0 0 2.8 5 0 0 -5.3 4 0 0 3 3 0 0 1 5 0 0 3.9 3 0 0 -4.6 3 0 0 0.1 3 0 0 -1.3 3 0 0 2.9 5 0 0 -1.2 2 0 0 -9.4 5 0 0 9.3 3 0 0 3.1 6 0 0 -4.7 3 0 0 2.8 2 0 0 -2.7 3 0 0 -2.7 6 0 0 -3.5 5 0 0 9.6 3 0 0 -0.2 6 0 0 -1.1 6 0 0 3.7 2 0 0 -5.8 6 0 0 4 2 0 0 -2.2 5 0 0 -1.3 3 0 0 -2.1 2 0 0 3.8 3 0 0 -5.9 3 0 0 6.1 2 0 0 1.7 4 0 0 -0.9 3 0 0 1 3 0 0 -4.4 6 0 0 3.2 2 0 0 1.8 4 0 0 -1.3 5 0 0 1.7 3 0 0 -0.9 3 0 0 -0.3 4 0 0 -2.1 4 0 0 2.8 5 0 0 -9.8 2 0 0 5.4 3 0 0 3.5 4 0 0 -3.9 2 0 0 0.6 2 0 0 0.4 6 0 0 3.5 6 0 0 -1.8 3 0 0 -3.5 2 0 0 5 4 0 0 -6.4 2 0 0 -2.7 2 0 0 7.4 6 0 0 -2.2 3 0 0 1 6 0 0 2.3 4 0 0 -4.9 3 0 0 2.1 4 0 0 -1.9 3 0 0 -1.2 2 0 0 -0.2 2 0 0 3.2 2 0 0 -12.6 4 0 0 10.6 3 0 0 2.7 3 0 0 3 6 0 0 -2 3 0 0 -0.1 2 0 0 -2.6 3 0 0 -3.1 3 0 0 8 3 0 0 -4.2 6 0 0 3.6 3 0 0 0.2 2 0 0 2.1 6 0 0 -0.6 4 0 0 -6.2 3 0 0 1.4 6 0 0 1.2 6 0 0 5.7 3 0 0 -6.8 3 0 0 1.1 4 0 0 5.9 3 0 0 -1.1 3 0 0 0.8 4 0 0 -0.8 4 0 0 -0.1 2 0 0 0.6 6 0 0 -1.2 4 0 0 -0.1 2 0 0 0.6 6 0 0 -2.6 6 0 0 0.8 5 0 0 1.4 6 0 0 -0.3 6 0 0 -3.1 3 0 0 1.9 3 0 0 0 2 0 0 0.1 2 0 0 -0.3 3 0 0 -1.9 2 0 0 5.5 5 0 0 -9.7 5 0 0 3.3 2 0 0 3.4 3 0 0 -1.3 3 0 0 0.5 4 0 0 1.3 5 0 0 -0.6 3 0 0 1.5 5 0 0 -3.1 3 0 0 -4.2 3 0 0 6.2 6 0 0 -6.2 2 0 0 7.2 2 0 0 1 3 0 0 -4.1 3 0 0 5.1 6 0 0 0.3 3 0 0 -5.9 4 0 0 1.2 3 0 0 0.2 2 0 0 3.2 5 0 0 -6.3 3 0 0 6.2 2 0 0 -0.7 2 0 0 0.1 3 0 0 1.8 2 0 0 -1.3 4 0 0 -1.4 3 0 0 -1.3 5 0 0 5 3 0 0 -0.2 3 0 0 -0.5 3 0 0 -1 3 0 0 -7.7 3 0 0 9.9 5 0 0 -2.7 4 0 0 -2 6 0 0 1.6 2 0 0 -0.8 6 0 0 1.9 4 0 0 0.3 2 0 0 -0.1 5 0 0 -5.7 4 0 0 7.4 2 0 0 -8.1 3 0 0 8.4 3 0 0 -5.1 3 0 0 1 5 0 0 -1.6 3 0 0 4.9 2 0 0 -8.9 2 0 0 7.9 3 0 0 -6.1 3 0 0 4 4 0 0 -0.3 6 0 0 2.4 2 0 0 -1.7 3 0 0 -1.4 2 0 0 -0.9 4 0 0 -0.8 2 0 0 5.8 2 0 0 -3.4 3 0 0 3.8 3 0 0 -0.1 2 0 0 2.8 2 0 0 -0.2 3 0 0 -4 6 0 0 3.6 3 0 0 -2.2 3 0 0 0.3 2 0 0 1.3 3 0 0 -4.5 2 0 0 3.5 2 0 0 -1.1 3 0 0 1 3 0 0 -0.2 3 0 0 -4.7 2 0 0 1.9 4 0 0 -1.2 2 0 0 2.8 5 0 0 1.4 2 0 0 -1.1 3 0 0 0.5 5 0 0 1.2 3 0 0 -2.6 5 0 0 2 2 0 0 -3 5 0 0 -2.5 2 0 0 7.1 5 0 0 -6.2 4 0 0 4.5 4 0 0 -3.6 3 0 0 -1.2 5 0 0 7.7 2 0 0 -10.3 3 0 0 1 3 0 0 3.9 2 0 0 3.1 3 0 0 -1.1 6 0 0 -0.4 3 0 0 1.8 6 0 0 0.3 2 0 0 -1.1 3 0 0 -1.1 3 0 0 3.2 2 0 0 -9.8 6 0 0 7.6 6 0 0 0.3 2 0 0 0.9 3 0 0 -2 2 0 0 0.1 2 0 0 2.2 5 0 0 -0.1 2 0 0 0.8 3 0 0 -11 5 0 0 3.8 3 0 0 8.6 2 0 0 0.6 5 0 0 0.4 2 0 0 0 4 0 0 -2.1 2 0 0 1.7 2 0 0 -1 3 0 0 -0.1 2 0 0 -3.1 2 0 0 0.9 3 0 0 2.4 4 0 0 -1.1 4 0 0 -0.6 6 0 0 2.2 4 0 0 -2.8 5 0 0 0.9 3 0 0 3.9 3 0 0 -1.5 2 0 0 1.6 5 0 0 -5.1 3 0 0 4.6 2 0 0 0 4 0 0 -5.4 5 0 0 4 2 0 0 1.9 2 0 0 -2.2 6 0 0 -2.1 3 0 0 2.9 2 0 0 -4.7 3 0 0 5.3 3 0 0 -0.2 3 0 0 0.7 2 0 0 0.7 5 0 0 -3.1 2 0 0 -3.1 2 0 0 6.9 6 0 0 -6.1 6 0 0 5.8 3 0 0 -2.9 2 0 0 1.4 3 0 0 0.8 5 0 0 -1.7 3 0 0 4.5 5 0 0 -3 3 0 0 1.3 4 0 0 -0.2 5 0 0 -1.3 5 0 0 -1 2 0 0 3.8 5 0 0 -0.5 6 0 0 -0.1 2 0 0 -4.1 4 0 0 0.8 2 0 0 -4.8 2 0 0 3.8 2 0 0 -0.7 5 0 0 4.9 5 0 0 -3.7 6 0 0 4.9 6 0 0 -4.5 3 0 0 -1.7 6 0 0 3.6 3 0 0 1.9 5 0 0 0.2 3 0 0 -3.6 4 0 0 -2.7 3 0 0 4.3 2 0 0 3.4 3 0 0 17.9 -4 0 0 -1.7 -5 0 0 9.5 -3 0 0 -5.8 -3 0 0 -5 -2 0 0 5.2 -4 0 0 -1.7 -2 0 0 -0.4 -2 0 0 3.9 -2 0 0 -2.5 -3 0 0 -4.1 -4 0 0 1.8 -3 0 0 -0.8 -5 0 0 -1.6 -3 0 0 3.3 -2 0 0 1.1 -6 0 0 -0.5 -4 0 0 1.4 -6 0 0 0.9 -4 0 0 -5.1 -2 0 0 7.2 -3 0 0 -4.3 -5 0 0 -1.2 -2 0 0 3.6 -2 0 0 -2.6 -5 0 0 -1.8 -6 0 0 -1.4 -3 0 0 1.8 -2 0 0 2.3 -6 0 0 -0.9 -2 0 0 -0.5 -3 0 0 5 -4 0 0 -6.5 -3 0 0 -0.6 -6 0 0 -0.6 -2 0 0 1.2 -2 0 0 0 -3 0 0 -1.1 -5 0 0 3.8 -3 0 0 -2 -2 0 0 -3.3 -2 0 0 0.1 -3 0 0 1 -5 0 0 8.8 -5 0 0 -5.1 -2 0 0 -5 -5 0 0 1.4 -2 0 0 5.4 -3 0 0 -3.4 -6 0 0 -0.4 -2 0 0 2.9 -3 0 0 -6.5 -6 0 0 4.7 -4 0 0 -4.6 -3 0 0 0.6 -4 0 0 -0.6 -3 0 0 -0.2 -6 0 0 2.2 -2 0 0 -1.1 -3 0 0 1.8 -4 0 0 -1.9 -2 0 0 0.2 -3 0 0 5.3 -2 0 0 -3.1 -2 0 0 -3.3 -3 0 0 3.1 -4 0 0 -4.7 -2 0 0 3.2 -6 0 0 -2.2 -2 0 0 1.9 -3 0 0 -0.5 -3 0 0 10.8 -2 0 0 -14.1 -5 0 0 6.3 -5 0 0 -3.1 -4 0 0 0 -3 0 0 0.4 -2 0 0 -5.2 -6 0 0 3.5 -6 0 0 -2.3 -4 0 0 1.6 -3 0 0 -0.4 -5 0 0 2.8 -3 0 0 -5.5 -5 0 0 6.8 -3 0 0 -2.7 -2 0 0 -3.4 -2 0 0 0.5 -3 0 0 4.4 -3 0 0 -1.4 -4 0 0 -2.2 -4 0 0 -0.4 -4 0 0 -2.2 -6 0 0 2.2 -2 0 0 2.1 -3 0 0 -2.3 -4 0 0 0.1 -2 0 0 4.6 -4 0 0 -2.6 -3 0 0 0.7 -3 0 0 -3.1 -5 0 0 0.2 -6 0 0 0.3 -5 0 0 -0.7 -2 0 0 2.8 -3 0 0 -0.7 -3 0 0 1.3 -4 0 0 -3.2 -6 0 0 2.6 -5 0 0 -3.3 -2 0 0 3.8 -3 0 0 -1.1 -4 0 0 -0.2 -3 0 0 1.4 -4 0 0 -2 -4 0 0 6.2 -2 0 0 -1.6 -6 0 0 -2.7 -3 0 0 -3.8 -3 0 0 -0.5 -4 0 0 5.5 -2 0 0 -2.4 -2 0 0 4 -6 0 0 -5.8 -6 0 0 -3.5 -2 0 0 3.2 -6 0 0 -1.7 -3 0 0 1.9 -2 0 0 6.5 -3 0 0 -8.5 -2 0 0 2.2 -2 0 0 -2.9 -2 0 0 -0.1 -4 0 0 6.6 -3 0 0 -2.8 -3 0 0 -2.4 -6 0 0 0.3 -2 0 0 -2.6 -5 0 0 7.6 -6 0 0 -4.7 -5 0 0 -0.1 -3 0 0 1.1 -2 0 0 -2.6 -2 0 0 1.5 -4 0 0 -0.4 -2 0 0 2 -5 0 0 6.3 -6 0 0 -6.6 -3 0 0 1.4 -3 0 0 -1.7 -2 0 0 6.8 -6 0 0 -6.1 -3 0 0 6.7 -2 0 0 -5.3 -3 0 0 0.4 -5 0 0 -1.7 -5 0 0 -2.4 -6 0 0 0.4 -5 0 0 5.4 -4 0 0 -0.9 -5 0 0 1.1 -4 0 0 -8.3 -2 0 0 -0.2 -3 0 0 2.5 -3 0 0 -2.2 -3 0 0 -0.7 -2 0 0 4 -6 0 0 3 -5 0 0 -6.1 -3 0 0 -0.8 -4 0 0 5.3 -6 0 0 -5.4 -2 0 0 -0.3 -6 0 0 2 -2 0 0 0.2 -3 0 0 1.9 -3 0 0 6 -3 0 0 -6.7 -2 0 0 -0.6 -2 0 0 1.8 -2 0 0 -3.6 -2 0 0 1.3 -2 0 0 1.5 -3 0 0 -0.6 -3 0 0 -1.2 -3 0 0 -1.8 -3 0 0 0.6 -5 0 0 3.2 -3 0 0 -1.8 -4 0 0 2.6 -3 0 0 -0.4 -3 0 0 -2.1 -2 0 0 -2.1 -6 0 0 1.6 -5 0 0 0.6 -4 0 0 -0.4 -3 0 0 2.5 -4 0 0 -1.6 -2 0 0 4.7 -2 0 0 -4.2 -2 0 0 -1.8 -3 0 0 3 -6 0 0 0.1 -2 0 0 -1.5 -2 0 0 2.9 -4 0 0 -1.3 -2 0 0 -2.7 -2 0 0 -0.2 -2 0 0 -0.8 -3 0 0 1.8 -3 0 0 -1.1 -5 0 0 6.1 -6 0 0 -2.7 -2 0 0 -6.3 -3 0 0 -0.1 -2 0 0 2 -5 0 0 1.1 -5 0 0 -1.1 -2 0 0 -0.2 -2 0 0 -1.6 -6 0 0 -0.6 -4 0 0 3.9 -2 0 0 -4.8 -3 0 0 3 -2 0 0 2.6 -5 0 0 -4.2 -5 0 0 -1.1 -6 0 0 0.4 -3 0 0 4.3 -3 0 0 -0.3 -3 0 0 -2.4 -4 0 0 3.9 -3 0 0 -5.2 -3 0 0 10.1 -6 0 0 -6 -6 0 0 -2.7 -5 0 0 4.5 -3 0 0 -4.5 -2 0 0 5.1 -3 0 0 -6.5 -5 0 0 3.7 -5 0 0 -0.8 -5 0 0 -1 -3 0 -0 4.7 -6 0 -0 -6.3 -4 0 -0 2.7 -5 0 -0 -2.2 -5 0 -0 2.7 -3 0 -0 -4.1 -6 0 -0 2.6 -4 0 -0 9.6 -4 0 -0 -9.8 -5 0 -0 -2.3 -2 0 -0 5.4 -5 0 -0 -3 -2 0 -0 -2 -6 0 -0 2.7 -3 0 -0 -1.1 -5 0 -0 2.8 -6 0 -0 -1.3 -5 0 -0 2.1 -2 0 -0 -3.2 -3 0 -0 -1.9 -2 0 -0 2.8 -2 0 -0 -0.2 -5 0 -0 -0.4 -2 0 -0 -0.5 -5 0 -0 -0.4 -3 0 -0 -0.7 -2 0 -0 0.9 -4 0 -0 4.1 -6 0 -0 -4.3 -5 0 -0 5.3 -2 0 -0 -5.6 -5 0 -0 4.1 -2 0 -0 2.8 -5 0 -0 -8.6 -2 0 -0 6.8 -3 0 -0 -4.5 -5 0 -0 -1.6 -6 0 -0 4.1 -2 0 -0 -1.1 -2 0 -0 -2.9 -2 0 -0 -1.9 -3 0 -0 2.1 -3 0 -0 3.2 -2 0 -0 -4.9 -2 0 -0 -0.4 -3 0 -0 2 -5 0 -0 2 -5 0 -0 -0.8 -3 0 -0 1 -3 0 -0 -3.7 -3 0 -0 2.9 -3 0 -0 -1.7 -5 0 -0 -0.8 -5 0 -0 1.1 -6 0 -0 -2 -4 0 -0 1 -2 0 -0 -0.5 -6 0 -0 6.3 -2 0 -0 2.9 -4 0 -0 -4 -6 0 -0 -3.6 -4 0 -0 -2.7 -2 0 -0 -0.8 -2 0 -0 5.4 -6 0 -0 -5.5 -3 0 -0 2.7 -2 0 -0 -1.2 -3 0 -0 1.4 -6 0 -0 -4.1 -3 0 -0 4.3 -3 0 -0 -5.9 -5 0 -0 4.4 -3 0 -0 -4.8 -2 0 -0 4.9 -2 0 -0 -5.9 -4 0 -0 3.1 -6 0 -0 -0.4 -5 0 -0 -1.5 -6 0 -0 0.9 -5 0 -0 -5.7 -6 0 -0 -1 -2 0 -0 -1.3 -2 0 -0 2.3 -2 0 -0 0.7 -3 0 -0 -7.3 -4 0 -0 0.2 -4 0 -0 0.1 -5 0 -0 0.7 -4 0 -0 3.7 -3 0 -0 -1.7 -2 0 -0 -0.7 -2 0 -0 -2.2 -6 0 -0 2.5 -3 0 -0 -3.7 -6 0 -0 -0.4 -4 0 -0 3 -6 0 -0 -6.4 -6 0 -0 3.3 -6 0 -0 -0.8 -2 0 -0 -3.6 -2 0 -0 0.7 -2 0 -0 3.2 -2 0 -0 -1.9 -6 0 -0 -1.8 -2 0 -0 1.6 -5 0 -0 -0.3 -2 0 -0 -0.7 -3 0 -0 -2.6 -2 0 -0 4.7 -5 0 -0 -4.5 -6 0 -0 -0.9 -2 0 -0 1.2 -2 0 -0 -2.5 -5 0 -0 5.2 -3 0 -0 -6.9 -3 0 -0 -0.7 -6 0 -0 -0.2 -3 0 -0 1.8 -2 0 -0 3.2 -2 0 -0 -3.4 -6 0 -0 -1.9 -6 0 -0 -4.3 -2 0 -0 -2.8 -2 0 -0 -1.9 -5 0 -0 6.2 -3 0 -0 -7.1 -2 0 -0 -1.5 -5 0 -0 -3.7 -5 0 -0 -1.5 -4 0 -0 -4.4 -3 0 -0 4.2 -5 0 -0 -5.5 -2 0 -0 2.8 -3 0 -0 -2.7 -4 0 -0 0.3 -5 0 -0 4.7 -3 0 -0 -8 -5 0 -0 0.7 -6 0 -0 -1.1 -3 0 -0 -5 -2 0 -0 2.1 -2 0 -0 6.1 -6 0 -0 -9.1 -2 0 -0 -6.5 -5 0 -0 10.9 -3 0 -0 -8.8 -3 0 -0 -3 -3 0 -0 4.5 -6 0 -0 -3.7 -3 0 -0 -2.6 -5 0 -0 -0.7 -4 0 -0 4.2 -6 0 -0 0.4 -2 0 -0 3.9 -3 0 -0 -5.8 -2 0 -0 8.7 -3 0 -0 -6.9 -2 0 -0 1.1 -5 0 -0 4.2 -3 0 -0 -1.1 -3 0 -0 6.1 -3 0 -0 -3.7 -3 0 -0 2.2 -4 0 -0 -1.5 -3 0 -0 0.9 -2 0 -0 3.3 -2 0 -0 -0.4 -6 0 -0 5.9 -2 0 -0 -3 -3 0 -0 3 -5 0 -0 -1.4 -2 0 -0 1.8 -5 0 -0 3.2 -4 0 -0 5.1 -2 0 -0 -0.4 -5 0 -0 -1.3 -2 0 -0 5.8 -2 0 -0 0.2 -6 0 -0 9.4 -6 0 -0 -4.6 -2 0 -0 3.3 -6 0 -0 4.1 -6 0 -0 0 -2 0 -0 -1.6 -6 0 -0 -0.3 -2 0 -0 4.4 -2 0 -0 -3.2 -2 0 -0 5.7 -3 0 -0 -1.2 -6 0 -0 3.6 -3 0 -0 1.7 -4 0 -0 3.4 -5 0 -0 -5.5 -2 0 -0 2.8 -3 0 -0 -0.8 -6 0 -0 4.8 -5 0 -0 -3.7 -6 0z"/><circle cx="288.9" cy="891.2" r="10.4"/><circle cx="1880.9" cy="923.1" r="7.5"/></g><g fill="#ff8000"><path d="M288.9 1035.5l3 0 0 -2.1 3 0 0 4.8 3 0 0 -2 2 0 0 -1.8 6 0 0 1.6 3 0 0 0 2 0 0 -1.8 3 0 0 -0.8 3 0 0 -5.4 3 0 0 3.1 2 0 0 -6.9 4 0 0 1.7 2 0 0 -2.8 6 0 0 0.9 2 0 0 -1.3 2 0 0 -1.4 3 0 0 -0.1 2 0 0 -4.2 5 0 0 4.3 5 0 0 -2.1 5 0 0 -4.4 3 0 0 1.3 3 0 0 0.8 2 0 0 -5.5 3 0 0 -4.9 6 0 0 -5.2 2 0 0 7.6 3 0 0 -6.4 2 0 0 -2.7 5 0 0 0.7 5 0 0 -14.9 2 0 0 12.3 3 0 0 -16.7 3 0 0 12.9 4 0 0 -13.1 3 0 0 8.4 4 0 0 -3.1 5 0 0 -3.4 3 0 0 -3 6 0 0 -0.1 3 0 0 -3.2 2 0 0 -1.7 3 0 0 6 3 0 0 -0.6 6 0 0 -0.4 5 0 0 -4.8 6 0 0 2.2 5 0 0 1.8 6 0 0 4.2 2 0 0 -10.4 3 0 0 10 2 0 0 2.4 3 0 0 2 6 0 0 3.9 3 0 0 -2.1 2 0 0 3.4 5 0 0 3.2 3 0 0 1.2 4 0 0 -3 6 0 0 4.8 6 0 0 -0.4 2 0 0 1.5 3 0 0 -8.3 2 0 0 9.3 3 0 0 -2.1 3 0 0 -5.7 2 0 0 10.7 3 0 0 1.3 3 0 0 0.3 5 0 0 -1.5 4 0 0 -3.9 3 0 0 12.6 4 0 0 3.5 3 0 0 -1.5 3 0 0 1.2 4 0 0 1.3 5 0 0 0.8 3 0 0 0.9 2 0 0 0.3 2 0 0 -1.5 5 0 0 -5.3 3 0 0 6.1 6 0 0 -2.9 2 0 0 4.3 3 0 0 1.5 4 0 0 0.5 2 0 0 2.8 5 0 0 -4.6 5 0 0 2.8 3 0 0 5.1 6 0 0 0.8 5 0 0 3 6 0 0 -5.7 3 0 0 8.7 2 0 0 -2.1 4 0 0 -2.8 2 0 0 7.1 4 0 0 -2.6 2 0 0 1.5 3 0 0 2.4 5 0 0 -5.7 2 0 0 -0.2 2 0 0 2 2 0 0 -4 5 0 0 9.6 3 0 0 0 3 0 0 0 2 0 0 -2.6 6 0 0 -1.5 4 0 0 6.7 6 0 0 0 3 0 0 -2 3 0 0 6.2 6 0 0 -3.8 3 0 0 1.7 6 0 0 -0.6 6 0 0 2.9 2 0 0 -0.9 3 0 0 3.8 4 0 0 -3.9 6 0 0 -1 6 0 0 4.6 5 0 0 -0.3 3 0 0 2.3 4 0 0 0.5 4 0 0 2.7 2 0 0 -3.5 6 0 0 2.4 2 0 0 -5.2 2 0 0 4.7 2 0 0 0.2 2 0 0 1.8 2 0 0 -0.6 2 0 0 -2.3 2 0 0 4.6 4 0 0 -0.6 3 0 0 -5.7 4 0 0 5 6 0 0 3.3 3 0 0 -1.7 4 0 0 1.9 5 0 0 -2.1 2 0 0 3.6 3 0 0 -8.6 4 0 0 10.6 3 0 0 -9.6 4 0 0 7.1 4 0 0 -1.4 6 0 0 3.6 5 0 0 -4.4 3 0 0 2.8 5 0 0 -0.7 5 0 0 -3.5 5 0 0 8.9 5 0 0 -0.8 2 0 0 -2.3 2 0 0 1.8 6 0 0 -1.2 5 0 0 -3.4 2 0 0 -1.4 6 0 0 4.6 6 0 0 -0.2 2 0 0 0 2 0 0 -1.6 4 0 0 -0.3 5 0 0 -0.1 3 0 0 -1.1 5 0 0 0.4 4 0 0 4.1 6 0 0 -0.8 3 0 0 -2.1 3 0 0 0.8 4 0 0 0.1 5 0 0 1.5 2 0 0 -3.8 2 0 0 -0.1 3 0 0 4.3 4 0 0 -2.7 3 0 0 -2.7 6 0 0 1.6 2 0 0 -3.5 5 0 0 6.1 2 0 0 -1.3 4 0 0 -0.6 4 0 0 1.7 6 0 0 -4.2 6 0 0 4.6 6 0 0 0.5 5 0 0 0 2 0 0 -0.8 3 0 0 -6.4 5 0 0 7 6 0 0 -2.3 3 0 0 0.2 2 0 0 0.9 3 0 0 -0.9 5 0 0 -0.8 3 0 0 -10.6 3 0 0 2.5 5 0 0 7.8 2 0 0 0.9 4 0 0 -1.9 3 0 0 3.2 4 0 0 -0.2 6 0 0 -0.8 5 0 0 -0.2 3 0 0 0.3 2 0 0 -7.9 5 0 0 6.3 3 0 0 -1.7 2 0 0 2.7 4 0 0 0.6 2 0 0 -0.9 3 0 0 1.3 3 0 0 2.3 6 0 0 1.2 5 0 0 -0.9 3 0 0 1.9 3 0 0 -5 5 0 0 4 4 0 0 0 4 0 0 -4.8 3 0 0 3.8 3 0 0 -3.3 4 0 0 2.3 3 0 0 1.5 2 0 0 -1.1 3 0 0 2.1 4 0 0 -2 6 0 0 -1 6 0 0 1.8 3 0 0 -2.5 3 0 0 -6.1 3 0 0 9.4 4 0 0 -7.3 2 0 0 7.3 6 0 0 -1.4 4 0 0 -3.2 5 0 0 4.3 3 0 0 -1.4 2 0 0 0.7 6 0 0 0.4 3 0 0 -0.4 4 0 0 -1.7 5 0 0 2.6 3 0 0 -2.9 6 0 0 -0.9 4 0 0 4.9 4 0 0 -2.9 2 0 0 -0.4 2 0 0 2.1 2 0 0 -1.6 3 0 0 3.4 2 0 0 -1.3 2 0 0 0.1 3 0 0 0 5 0 0 -0.6 3 0 0 1.7 2 0 0 -3.8 2 0 0 4.4 4 0 0 -1.9 3 0 0 -1.3 3 0 0 2.6 5 0 0 -1.8 6 0 0 0.6 5 0 0 -3.3 4 0 0 2.9 4 0 0 -0.4 6 0 0 1.5 2 0 0 0.1 2 0 0 -4.4 2 0 0 -2.2 2 0 0 6.6 3 0 0 -2 2 0 0 -3.4 5 0 0 3.1 6 0 0 -1.4 3 0 0 1.3 3 0 0 4.7 2 0 0 -2 3 0 0 -8.1 2 0 0 6 6 0 0 -0.1 2 0 0 -0.4 5 0 0 3 3 0 0 -1.8 3 0 0 -3.1 2 0 0 3.6 4 0 0 1.6 6 0 0 -3.4 6 0 0 2 2 0 0 0.2 4 0 0 0.6 6 0 0 -4.4 2 0 0 3.8 5 0 0 -1.9 6 0 0 2.6 3 0 0 -3.1 3 0 0 -4.8 6 0 0 2.7 6 0 0 4.5 3 0 0 0.9 3 0 0 -0.9 4 0 0 -1.6 4 0 0 -2.5 2 0 0 1.3 2 0 0 1.4 6 0 0 2.1 5 0 0 -6.5 2 0 0 3 5 0 0 0.2 5 0 0 2.5 2 0 0 -2.2 3 0 0 3.3 5 0 0 -3.3 3 0 0 -1.5 3 0 0 3.8 2 0 0 -0.3 3 0 0 2.3 6 0 0 -0.6 4 0 0 0.2 3 0 0 0.3 3 0 0 -1.5 2 0 0 1.3 6 0 0 -3.1 6 0 0 4.8 3 0 0 -1.2 2 0 0 -3.9 6 0 0 4.2 4 0 0 -4.5 6 0 0 3.9 3 0 0 -4.4 3 0 0 4.5 6 0 0 -1 2 0 0 -6.3 5 0 0 6.4 2 0 0 1.7 2 0 0 0.2 6 0 0 -3.2 3 0 0 1 2 0 0 -1.4 3 0 0 1.8 3 0 0 -2 2 0 0 3.8 5 0 0 -0.2 5 0 0 -2.9 6 0 0 0.9 6 0 0 -0.3 2 0 0 0.7 5 0 0 -2.4 6 0 0 3.1 2 0 0 -1.1 2 0 0 1.9 2 0 0 -5.7 2 0 0 1.1 5 0 0 2.1 3 0 0 -0.9 3 0 0 -2.4 2 0 0 1.3 4 0 0 3.3 2 0 0 1.7 4 0 0 1.8 6 0 0 -0.7 2 0 0 -1.5 2 0 0 2 2 0 0 -0.7 4 0 0 -8.5 3 0 0 8.7 2 0 0 -0.4 3 0 0 0.3 2 0 0 -0.5 3 0 0 1.3 3 0 0 -0.8 5 0 0 0.6 4 0 0 -5.4 2 0 0 0 6 0 0 4.4 5 0 0 0.8 6 0 0 -0.1 2 0 0 2.1 5 0 0 -1.6 6 0 0 0.7 4 0 0 -3.2 4 0 0 -0.7 5 0 0 0.3 5 0 0 4.3 5 0 0 -2.7 5 0 0 0.7 3 0 0 1.8 2 0 0 0 6 0 0 -4.9 6 0 0 2.7 2 0 0 3.1 6 0 0 -3.8 4 0 0 5.6 3 0 0 -3.3 3 0 0 3.2 4 0 0 -0.1 3 0 0 -0.7 5 0 0 -9.5 3 0 0 8.9 5 0 0 -2.8 4 0 0 3 3 0 0 0.2 2 0 0 -1.3 2 0 0 2 6 0 0 -1 2 0 0 0.7 4 0 0 -2.2 6 0 0 -5.3 3 0 0 8.1 2 0 0 -4.1 2 0 0 -0.7 4 0 0 3.1 3 0 0 -7.7 4 0 0 9.3 3 0 0 -2.1 3 0 0 -2.3 3 0 0 2.7 5 0 0 -3.9 2 0 0 4.8 4 0 0 0 2 0 0 -0.8 4 0 0 -0.2 5 0 0 0.5 3 0 0 -0.7 2 0 0 -1.8 3 0 0 2.3 2 0 0 -1.7 5 0 0 3.4 2 0 0 -1.4 5 0 0 -3.2 5 0 0 1.1 2 0 0 22.9 -4 0 0 -2.3 -6 0 0 3.2 -3 0 0 -0.7 -5 0 0 -2.4 -6 0 0 4.4 -3 0 0 -2 -5 0 0 16.2 -4 0 0 -15.3 -2 0 0 0.2 -3 0 0 -4.4 -4 0 0 2.9 -3 0 0 5.2 -3 0 0 -5.8 -2 0 0 -0.4 -2 0 0 3.2 -3 0 0 -1.5 -3 0 0 -1.4 -6 0 0 1.2 -3 0 0 -1.6 -4 0 0 -1.6 -2 0 0 7.9 -5 0 0 -4.1 -6 0 0 -0.8 -2 0 0 -2.1 -3 0 0 7.7 -3 0 0 -1.8 -5 0 0 -4.3 -6 0 0 0.8 -3 0 0 -3.3 -6 0 0 -0.5 -2 0 0 1.4 -4 0 0 1.1 -3 0 0 4.1 -4 0 0 -5.9 -4 0 0 0.4 -3 0 0 1.3 -4 0 0 -2.7 -3 0 0 4.9 -3 0 0 -3.6 -3 0 0 1.9 -3 0 0 -2.9 -2 0 0 5.4 -3 0 0 -4.9 -2 0 0 1.2 -5 0 0 -1.9 -6 0 0 -2.2 -6 0 0 4.9 -4 0 0 -1.7 -5 0 0 5.6 -6 0 0 -8.8 -2 0 0 6.7 -3 0 0 -2.2 -3 0 0 2.3 -4 0 0 -2.4 -6 0 0 -4 -4 0 0 0.1 -6 0 0 -0.2 -5 0 0 1.6 -2 0 0 -1.1 -5 0 0 1.7 -5 0 0 0.8 -3 0 0 -1.6 -4 0 0 -1 -5 0 0 2.2 -5 0 0 -1.5 -2 0 0 -0.8 -5 0 0 1.4 -3 0 0 5 -2 0 0 -6.3 -3 0 0 3.7 -6 0 0 -5.6 -5 0 0 1.5 -6 0 0 1.1 -2 0 0 2.5 -3 0 0 -3.6 -6 0 0 -0.4 -2 0 0 -0.7 -6 0 0 2.3 -2 0 0 1.2 -3 0 0 -0.3 -4 0 0 0 -4 0 0 -0.8 -6 0 0 4.6 -3 0 0 -6.3 -3 0 0 -2.3 -3 0 0 4 -2 0 0 6.1 -4 0 0 -4.7 -2 0 0 -3.5 -2 0 0 11.3 -2 0 0 -10.4 -5 0 0 -2 -4 0 0 2.1 -4 0 0 -2.1 -3 0 0 4.3 -2 0 0 0.6 -6 0 0 -5.3 -5 0 0 3.3 -5 0 0 2.6 -4 0 0 -4.2 -2 0 0 0.4 -3 0 0 0.8 -5 0 0 -0.8 -4 0 0 -1.5 -3 0 0 -0.6 -3 0 0 -0.5 -3 0 0 2.9 -2 0 0 -1.8 -3 0 0 2.8 -6 0 0 -0.6 -3 0 0 1.4 -6 0 0 -3.2 -2 0 0 3.2 -3 0 0 0.4 -6 0 0 -5.4 -3 0 0 3.4 -3 0 0 -3.3 -2 0 0 3.3 -3 0 0 0.5 -5 0 0 -3.1 -2 0 0 0.7 -2 0 0 4.4 -5 0 0 -3.6 -3 0 0 -4.2 -3 0 0 5.2 -2 0 0 -4.5 -6 0 0 4.9 -6 0 0 -2.8 -3 0 0 -0.9 -3 0 0 2.2 -2 0 0 2.5 -3 0 0 -3.1 -3 0 0 -3.4 -3 0 0 2.5 -2 0 0 -1.4 -3 0 0 1.6 -3 0 0 -2.7 -3 0 0 10 -2 0 0 -6.4 -3 0 0 2 -5 0 0 3.2 -4 0 0 -8.7 -5 0 0 6 -3 0 0 -3.9 -6 0 0 2.7 -5 0 0 -4.9 -4 0 0 4.7 -2 0 0 1.5 -2 0 0 0.4 -3 0 0 -3.9 -2 0 0 -1.8 -2 0 0 -0.4 -6 0 0 1 -3 0 0 9.2 -6 0 0 -3.9 -4 0 0 -4.7 -5 0 0 -0.7 -6 0 0 3.3 -3 0 0 -4.4 -3 0 0 5.8 -2 0 0 -2 -6 0 0 -1.7 -3 0 0 0.4 -4 0 0 1.4 -6 0 0 -1.7 -4 0 0 -1.4 -5 0 0 7.6 -5 0 0 1.7 -3 0 0 -8.9 -5 0 0 3.7 -2 0 0 -1.1 -3 0 0 3.6 -4 0 0 -3.2 -2 0 0 -3.2 -5 0 0 5.8 -5 0 0 0.9 -2 0 0 -1.2 -3 0 0 -0.1 -5 0 0 -6.4 -5 0 0 1.8 -2 0 0 -1.2 -4 0 0 5.3 -5 0 0 -6.4 -2 0 0 0.1 -2 0 0 0.7 -4 0 0 -0.4 -3 0 0 1.8 -3 0 0 -1.2 -5 0 0 -0.9 -6 0 0 0 -3 0 0 1 -5 0 0 -1.2 -3 0 0 2 -5 0 0 -0.9 -3 0 0 -0.5 -2 0 0 -0.5 -2 0 0 3.3 -2 0 0 -3.7 -3 0 0 5.3 -5 0 0 -1 -5 0 0 0.1 -6 0 0 -2.5 -3 0 0 0.3 -6 0 0 3.5 -2 0 0 -3.8 -3 0 0 2.7 -3 0 0 -4.3 -2 0 0 0.4 -5 0 0 8.7 -3 0 0 -5.1 -5 0 0 0.8 -6 0 0 -3.9 -3 0 0 10.1 -6 0 0 -9.4 -3 0 0 -2.8 -3 0 0 1.8 -2 0 0 -3 -2 0 0 3.3 -6 0 0 -4.2 -3 0 0 0.4 -4 0 0 5.1 -4 0 0 -1.4 -6 0 0 5.5 -3 0 0 -9.3 -2 0 0 0 -3 0 0 -0.7 -3 0 0 1.4 -2 0 0 0.2 -2 0 0 -0.9 -3 0 0 1.6 -2 0 0 2.6 -5 0 0 -1.8 -2 0 -0 -0.5 -4 0 -0 5.8 -3 0 -0 -5.4 -2 0 -0 3.5 -2 0 -0 2 -3 0 -0 -5.9 -4 0 -0 0 -4 0 -0 2.5 -2 0 -0 -3.2 -2 0 -0 2 -3 0 -0 2.1 -2 0 -0 -4.3 -2 0 -0 -0.3 -5 0 -0 0.4 -3 0 -0 1.8 -3 0 -0 0.7 -2 0 -0 -1 -3 0 -0 4.9 -3 0 -0 -1.1 -3 0 -0 -5.4 -3 0 -0 0.3 -3 0 -0 3.9 -3 0 -0 -3.1 -4 0 -0 -0.4 -2 0 -0 -0.4 -3 0 -0 0.8 -2 0 -0 3.3 -4 0 -0 -2.3 -2 0 -0 -1.5 -4 0 -0 -0.6 -2 0 -0 3.1 -4 0 -0 -1.9 -2 0 -0 2.2 -4 0 -0 -1 -6 0 -0 1.6 -2 0 -0 -1.4 -2 0 -0 2.9 -2 0 -0 1.7 -2 0 -0 -5.1 -3 0 -0 -0.8 -3 0 -0 5.4 -6 0 -0 -0.7 -2 0 -0 -3.7 -3 0 -0 2 -4 0 -0 -3.2 -6 0 -0 3.3 -3 0 -0 0.5 -2 0 -0 -0.5 -5 0 -0 0.7 -3 0 -0 2.9 -3 0 -0 -0.4 -2 0 -0 -0.9 -4 0 -0 -4.9 -3 0 -0 2.9 -4 0 -0 -0.2 -6 0 -0 -2.6 -6 0 -0 0.8 -2 0 -0 -4 -5 0 -0 -0.5 -3 0 -0 1.8 -2 0 -0 1.1 -3 0 -0 0 -2 0 -0 0.7 -4 0 -0 -3.5 -2 0 -0 3.8 -4 0 -0 0.2 -5 0 -0 -0.2 -2 0 -0 -2.9 -2 0 -0 1.2 -4 0 -0 -0.2 -4 0 -0 0.5 -6 0 -0 -0.8 -3 0 -0 0.6 -6 0 -0 -1.6 -2 0 -0 4.1 -4 0 -0 -4.8 -3 0 -0 -0.5 -6 0 -0 3.1 -4 0 -0 -3.9 -3 0 -0 -2.8 -4 0 -0 -0.6 -6 0 -0 4.6 -5 0 -0 0.4 -4 0 -0 -2.6 -6 0 -0 -4.2 -3 0 -0 2.2 -2 0 -0 -0.2 -6 0 -0 5.9 -3 0 -0 -5.8 -2 0 -0 -0.8 -2 0 -0 -2.3 -3 0 -0 2.3 -6 0 -0 -5.4 -3 0 -0 0.1 -4 0 -0 4.5 -2 0 -0 -6 -3 0 -0 1.3 -5 0 -0 1.7 -2 0 -0 -0.6 -3 0 -0 4.1 -2 0 -0 -3.6 -6 0 -0 0.3 -3 0 -0 -4.8 -5 0 -0 1.6 -4 0 -0 1 -2 0 -0 -5.7 -2 0 -0 1.4 -3 0 -0 -1.1 -3 0 -0 -0.3 -2 0 -0 2.7 -2 0 -0 -2 -4 0 -0 4.8 -4 0 -0 -3.4 -5 0 -0 5 -2 0 -0 -5.9 -2 0 -0 -1 -4 0 -0 -1.7 -3 0 -0 -3.7 -3 0 -0 4.4 -2 0 -0 -5 -3 0 -0 4.7 -3 0 -0 -3.3 -2 0 -0 -2.1 -4 0 -0 -1.4 -2 0 -0 0.5 -6 0 -0 1.1 -2 0 -0 -2.7 -2 0 -0 6.8 -3 0 -0 -5.8 -3 0 -0 1.3 -2 0 -0 -8.4 -6 0 -0 0 -2 0 -0 1.5 -5 0 -0 6.8 -3 0 -0 -5.5 -5 0 -0 -3.4 -6 0 -0 10.5 -4 0 -0 -8.1 -2 0 -0 -0.2 -6 0 -0 -2.9 -6 0 -0 5.5 -6 0 -0 -11.1 -2 0 -0 9.3 -3 0 -0 -13.3 -4 0 -0 -0.7 -5 0 -0 -0.5 -4 0 -0 5.9 -2 0 -0 0.6 -2 0 -0 -8.5 -3 0 -0 4 -2 0 -0 -7 -4 0 -0 2.8 -2 0 -0 -2.8 -5 0 -0 2 -2 0 -0 -3.7 -3 0 -0 5.5 -5 0 -0 -8.8 -4 0 -0 1 -2 0 -0 7.5 -3 0 -0 -6.8 -5 0 -0 3.7 -3 0 -0 -12.1 -4 0 -0 1.1 -2 0 -0 -2 -2 0 -0 0.8 -2 0 -0 5.9 -2 0 -0 -8.5 -2 0 -0 1.9 -3 0 -0 -3.6 -6 0 -0 1.3 -3 0 -0 -0.3 -4 0 -0 3.1 -2 0 -0 -6 -5 0 -0 3.1 -3 0 -0 9.1 -6 0 -0 -6.1 -2 0 -0 -0.9 -6 0 -0 -3.3 -3 0 -0 1.2 -5 0 -0 8.2 -2 0 -0 -1 -6 0 -0 4.2 -3 0 -0 0.5 -4 0 -0 1 -2 0 -0 2.8 -2 0 -0 -2.3 -3 0 -0 3.5 -2 0 -0 8.1 -2 0 -0 -8.1 -6 0 -0 2.4 -2 0 -0 0.2 -4 0 -0 4 -6 0 -0 9.3 -6 0 -0 -1.7 -2 0 -0 -2.6 -3 0 -0 6 -3 0 -0 2.3 -3 0 -0 -3.6 -4 0 -0 6 -4 0 -0 -1.9 -2 0 -0 3.4 -2 0 -0 -1.2 -4 0 -0 -1.4 -6 0 -0 -1.8 -6 0 -0 4.2 -3 0 -0 2.8 -2 0 -0 -2.5 -6 0 -0 3.9 -3 0 -0 0.2 -2 0 -0 0.2 -3 0 -0 3.4 -2 0 -0 -3.4 -2 0 -0 0.4 -2 0 -0 3.7 -5 0 -0 -3.7 -2 0 -0 0.3 -3 0 -0 2.4 -3 0z"/><circle cx="288.9" cy="1049.5" r="10.6"/><circle cx="1880.9" cy="1083.5" r="7.5"/></g><g fill="#808080"><path d="M288.9 1195.2l3 0 0 -1.2 6 0 0 -1 2 0 0 -6.5 5 0 0 3.7 6 0 0 -2.8 3 0 0 -0.8 4 -0 0 -3.3 4 -0 0 6.1 3 0 0 -6.9 4 0 0 0.4 6 0 0 -2 2 0 0 0.3 2 0 0 -3.4 3 0 0 -2.3 2 0 0 -3.5 5 0 0 0.8 4 0 0 -2.3 2 0 0 -5.8 3 0 0 0.1 2 0 0 -0.8 2 0 0 0.9 2 0 0 -4.5 4 0 0 2.4 3 -0 0 -4.5 2 -0 0 2.8 3 -0 0 -5.5 3 -0 0 -1.8 4 -0 0 0.4 2 -0 0 -2.8 5 -0 0 -8.1 3 -0 0 0.9 2 -0 0 -16.4 6 -0 0 3.5 3 -0 0 3.5 3 -0 0 -1.4 5 -0 0 -1.9 5 -0 0 -0.4 6 -0 0 -13.7 2 0 0 8.9 5 -0 0 0.1 2 0 0 -3.4 3 0 0 -15.6 5 0 0 12.3 2 0 0 -6 2 0 0 5.3 5 0 0 -2.2 3 0 0 -3.6 3 0 0 -0.6 4 -0 0 -3.5 3 -0 0 2.3 3 0 0 -0.2 4 0 0 -2.3 3 0 0 -2.9 6 0 0 6.5 2 0 0 -0.3 5 0 0 -10.5 6 0 0 7.1 2 0 0 5.7 4 0 0 -2.9 4 0 0 8.4 2 0 0 3.1 4 0 0 3.7 2 0 0 -1.4 3 0 0 -2.7 2 0 0 1.1 2 0 0 1.9 2 0 0 -0.6 3 0 0 -0.4 6 0 0 7 3 0 0 -1.9 4 0 0 3.7 2 0 0 1.4 2 0 0 1.7 5 0 0 6.8 6 0 0 1 6 0 0 5.5 2 0 0 -5.5 3 0 0 7.8 5 0 0 -0.2 6 0 0 12.1 5 0 0 -0.8 4 0 0 5.8 6 0 0 -3.9 2 0 0 2 5 0 0 6.4 5 0 0 -6.8 4 0 0 10.7 2 0 0 1.1 3 0 0 1.2 4 0 0 4.4 2 0 0 -6.7 5 0 0 9 3 0 0 0.2 2 0 0 1 4 0 0 -1 3 0 0 3 4 0 0 -6.9 6 0 0 -6.1 6 0 0 11.7 3 0 0 -0.4 2 0 0 5.4 2 0 0 0.5 6 0 0 -5.5 2 0 0 4.3 2 0 0 -7 4 0 0 11.4 2 0 0 0.7 5 0 0 -3.4 5 0 0 7 6 0 0 0.5 2 0 0 -3.9 2 0 0 -0.8 4 0 0 5 6 0 0 5.4 6 0 0 -2 6 0 0 -0.8 4 0 0 4 2 0 0 -2 3 0 0 1.8 2 0 0 5.5 6 0 0 -2.6 2 0 0 -5.2 2 0 0 5.1 2 0 0 -3.4 2 0 0 4.8 4 0 0 0.8 3 0 0 2.2 2 0 0 -6.1 2 0 0 3.2 3 0 0 2.9 3 0 0 2.9 2 0 0 0.2 6 0 0 -0.9 4 0 0 2.2 3 0 0 -2.2 3 0 0 -3.8 4 0 0 6.1 4 0 0 -10.8 5 0 0 10.6 2 0 0 -3.4 2 0 0 2.5 3 0 0 -4.9 3 0 0 -0.3 6 0 0 4.1 3 0 0 -3.3 6 0 0 3.9 6 0 0 -3.6 4 0 0 6.1 3 0 0 -1.4 5 0 0 0.8 3 0 0 -0.8 2 0 0 -0.8 6 0 0 1.1 4 0 0 -1.4 3 0 0 0.9 3 0 0 2.8 6 0 0 -1 2 0 0 -0.7 4 0 0 -2.9 4 0 0 3.2 6 0 0 1.4 2 0 0 -7.2 2 0 0 7 2 0 0 -3.8 2 0 0 1.8 3 0 0 0.1 2 0 0 1 6 0 0 0 5 0 0 -3 3 0 0 1.5 3 0 0 0.8 6 0 0 -1 6 0 0 0.7 3 0 0 -0.7 5 0 0 1.2 2 0 0 -6.4 4 0 0 6.1 4 0 0 -2.5 3 0 0 2.9 2 0 0 3.3 2 0 0 -0.9 6 0 0 2.5 6 0 0 -8.8 5 0 0 6.5 3 0 0 1.6 3 0 0 0.2 4 0 0 -0.5 4 0 0 1.2 6 0 0 1.2 3 0 0 -3.1 2 0 0 -0.8 6 0 0 -2 6 0 0 3.6 5 0 0 3.4 3 0 0 -4.2 2 0 0 2.3 2 0 0 2.8 3 0 0 -7.3 6 0 0 -11.6 5 0 0 18.7 2 0 0 -1.1 2 0 0 1.2 3 0 0 -4.3 6 0 0 1 3 0 0 -0.7 3 0 0 0.4 4 0 0 0 3 0 0 -1.3 6 0 0 4.4 4 0 0 -6.2 6 0 0 4.6 2 0 0 -0.2 2 0 0 -4.8 2 0 0 5.9 3 0 0 0.3 5 0 0 0.9 4 0 0 0.3 2 0 0 -4.9 2 0 0 4.3 2 0 0 -2.2 4 0 0 1.4 3 0 0 -2.6 3 0 0 2.8 3 0 0 -1.1 3 0 0 2.4 3 0 0 -1.4 2 0 0 -2.2 3 0 0 -1.1 2 0 0 4.4 3 0 0 -3.2 6 0 0 -0.6 4 0 0 1.5 5 0 0 -4.9 6 0 0 6.2 2 0 0 -4 3 0 0 4.1 2 0 0 -8 4 0 0 7.3 2 0 0 -0.8 3 0 0 -1.1 2 0 0 -2.3 4 0 0 0.2 3 -0 0 2 4 -0 0 -1.8 3 -0 0 2.3 3 -0 0 1.2 2 -0 0 1.7 6 -0 0 -1.7 3 -0 0 -0.7 6 -0 0 -0.3 2 -0 0 -0.4 2 0 0 -0.2 5 0 0 -1.3 3 0 0 4.5 5 0 0 -3.8 2 -0 0 2.5 2 -0 0 -2.8 2 -0 0 2.4 5 -0 0 1.6 5 -0 0 -7.4 5 0 0 6.7 6 -0 0 -3.6 2 -0 0 1.2 5 -0 0 -5.7 3 -0 0 6 2 -0 0 2.2 3 -0 0 -4.2 5 -0 0 1 5 -0 0 -1.7 4 -0 0 5.1 6 0 0 -1.6 2 -0 0 1.6 2 0 0 -1.1 4 -0 0 -1.9 3 0 0 2.8 5 0 0 -1.3 2 0 0 0.7 3 -0 0 -10.4 2 0 0 9.9 3 -0 0 1.2 3 -0 0 0.5 3 -0 0 -3.4 5 0 0 0 5 0 0 2.5 6 0 0 0.1 2 0 0 -4.8 4 0 0 5.9 3 -0 0 0.7 5 -0 0 -2.6 3 -0 0 1.4 4 -0 0 -2.8 5 -0 0 2 4 -0 0 0.8 4 -0 0 -3.3 3 -0 0 4.5 4 -0 0 -4.2 5 -0 0 5.3 3 -0 0 -2.6 2 -0 0 0.7 5 -0 0 -3.4 2 -0 0 4.9 3 -0 0 -8.1 5 -0 0 5.5 3 -0 0 -2 4 -0 0 6 3 -0 0 0.5 4 -0 0 -2.7 4 -0 0 2.7 4 -0 0 -2.8 2 -0 0 -0.3 6 -0 0 -6.5 3 -0 0 8.6 4 -0 0 -0.6 4 -0 0 1.4 3 -0 0 -2.5 6 -0 0 2.1 3 -0 0 -2.1 6 -0 0 3.9 4 -0 0 -0.5 6 -0 0 -2.9 6 -0 0 1.8 2 -0 0 1.7 5 -0 0 -3 2 -0 0 -2.8 3 -0 0 5.5 5 -0 0 0.5 4 -0 0 -5 2 -0 0 2.6 5 -0 0 -0.1 4 -0 0 1.5 5 -0 0 -1.7 6 -0 0 4 3 -0 0 -7.6 2 -0 0 6.7 3 -0 0 -3.5 2 -0 0 2.3 2 -0 0 1.9 2 -0 0 -6.7 5 -0 0 6.1 2 -0 0 -6.7 6 -0 0 6.8 6 -0 0 -5.2 3 -0 0 0.7 5 -0 0 4.2 6 -0 0 -0.4 2 -0 0 1.9 2 -0 0 -0.7 2 -0 0 1.5 5 -0 0 0.9 5 -0 0 -1.1 2 -0 0 -2.8 2 -0 0 -9.6 5 -0 0 11.4 3 -0 0 2.2 4 -0 0 -4.1 6 -0 0 -0.8 2 -0 0 5.7 3 -0 0 0.3 2 -0 0 -0.3 3 -0 0 -3.2 4 -0 0 -5.9 2 -0 0 8.7 5 -0 0 -2.1 5 -0 0 1.5 4 -0 0 0.2 6 -0 0 1.4 6 -0 0 1.1 2 -0 0 -0.8 2 -0 0 -3 3 -0 0 1 6 -0 0 2.1 2 -0 0 -5.5 2 -0 0 2.9 5 -0 0 2.3 3 -0 0 -1.3 2 -0 0 -6.7 6 -0 0 9.2 6 -0 0 -1 5 -0 0 -3 6 -0 0 4.9 2 -0 0 -3.4 5 -0 0 -1.1 4 -0 0 4.7 3 -0 0 0.1 2 -0 0 -1.3 3 -0 0 0.2 5 -0 0 -3 4 -0 0 3.9 3 -0 0 -1.6 2 -0 0 1.8 5 -0 0 -5.2 3 -0 0 5.3 4 -0 0 -0.8 4 -0 0 -0.6 4 -0 0 1.8 2 -0 0 0.9 3 -0 0 -0.8 6 -0 0 -0.3 3 -0 0 0.6 2 -0 0 -3.4 3 -0 0 -2.7 3 -0 0 6.4 6 -0 0 -1.8 3 -0 0 -1 2 -0 0 1.6 3 -0 0 -0.9 2 -0 0 1.5 4 -0 0 -0.8 4 -0 0 -2.4 3 -0 0 4.9 3 -0 0 -1.8 4 -0 0 -1.7 4 -0 0 1.1 2 -0 0 2.5 4 -0 0 0.3 3 -0 0 -2.2 6 -0 0 3.8 3 -0 0 -2.5 3 -0 0 -0.4 2 -0 0 -1.2 3 -0 0 3.1 3 -0 0 -3.7 2 -0 0 -7.5 2 -0 0 8.9 3 -0 0 -0.2 2 -0 0 2.4 2 -0 0 -6 6 -0 0 6.7 3 -0 0 -4.8 3 -0 0 0.1 3 -0 0 -0.5 2 -0 0 6.1 3 -0 0 -4.2 2 -0 0 -11.2 3 -0 0 14.6 2 -0 0 -7.7 6 -0 0 5.6 4 -0 0 2.1 3 -0 0 -0.8 5 -0 0 -0.6 5 -0 0 3.4 5 -0 0 22.5 -3 -0 0 -6.4 -3 -0 0 1.2 -4 -0 0 -0.9 -2 -0 0 4.5 -3 -0 0 -6.4 -6 -0 0 2.2 -5 -0 0 -0.9 -5 -0 0 3.6 -3 -0 0 -2.8 -2 -0 0 0.2 -2 -0 0 -1 -2 -0 0 -0.8 -5 -0 0 0.7 -6 -0 0 -1.3 -2 -0 0 3.4 -6 -0 0 -1.3 -5 -0 0 -2.1 -3 -0 0 5 -3 -0 0 2.7 -3 -0 0 -6.6 -4 -0 0 2.8 -3 -0 0 -4.6 -3 -0 0 3.2 -6 -0 0 -3.1 -3 -0 0 3.6 -3 -0 0 -0.8 -4 -0 0 0.9 -2 -0 0 -1.9 -6 -0 0 -1.6 -5 -0 0 2.7 -4 -0 0 -2.8 -3 -0 0 -0.1 -3 -0 0 1.5 -4 -0 0 -3.1 -5 -0 0 -0.6 -2 -0 0 1.1 -2 -0 0 -0.3 -2 -0 0 11 -5 -0 0 -9 -3 -0 0 -1.1 -2 -0 0 5.8 -2 -0 0 -6.3 -3 -0 0 1.6 -6 -0 0 -2.7 -4 -0 0 4.7 -4 -0 0 5.3 -4 -0 0 -9.5 -3 -0 0 0.5 -2 -0 0 3.6 -3 -0 0 -0.8 -2 -0 0 -4.4 -5 -0 0 7.1 -3 -0 0 -3 -6 -0 0 -1.1 -4 -0 0 2.8 -2 -0 0 -6.4 -6 -0 0 8.7 -2 -0 0 -5.5 -2 -0 0 0.5 -5 -0 0 -3.8 -6 -0 0 4 -5 -0 0 -2.9 -6 -0 0 3.4 -6 -0 0 -1.5 -3 -0 0 1.2 -3 -0 0 -1.3 -2 -0 0 1.4 -2 -0 0 -0.2 -6 -0 0 0.3 -2 -0 0 -1.9 -3 -0 0 -0.4 -2 -0 0 -2.9 -2 -0 0 5.5 -4 -0 0 -6.2 -2 -0 0 0.5 -4 -0 0 0.8 -2 -0 0 -2.1 -3 -0 0 -0.6 -3 -0 0 0.9 -4 -0 0 6.2 -4 -0 0 -2.7 -6 -0 0 -1.6 -6 -0 0 -2.6 -2 -0 0 1.5 -2 -0 0 -0.4 -3 -0 0 1.6 -4 -0 0 2 -3 -0 0 -3.1 -3 -0 0 4.5 -3 -0 0 -6.3 -4 -0 0 3.2 -5 -0 0 -2.9 -2 -0 0 3.5 -3 -0 0 -4.5 -3 -0 0 7.4 -5 -0 0 -4.3 -5 -0 0 0.1 -6 -0 0 -1.3 -6 -0 0 -3.1 -3 -0 0 0.7 -4 -0 0 0.5 -6 -0 0 -1.4 -3 -0 0 1.5 -2 -0 0 2.9 -5 -0 0 -3 -3 -0 0 -0.4 -2 -0 0 3.1 -2 -0 0 -4.7 -5 -0 0 3 -4 -0 0 1.5 -4 -0 0 8.3 -4 -0 0 -12 -4 -0 0 -0.2 -3 -0 0 0.5 -3 -0 0 2.1 -4 -0 0 0.4 -2 -0 0 8.2 -3 -0 0 -9.9 -6 -0 0 -1.8 -4 -0 0 3.8 -5 -0 0 -4 -5 -0 0 0.8 -4 -0 0 2.3 -6 -0 0 -4.2 -4 -0 0 1.9 -3 -0 0 -1.3 -5 -0 0 0.2 -5 -0 0 -1 -4 -0 0 2.8 -4 -0 0 10.4 -4 -0 0 -10.8 -4 -0 0 -0.1 -4 -0 0 1.3 -2 -0 0 -0.7 -4 -0 0 -1.1 -3 -0 0 2.1 -2 -0 0 -0.4 -6 -0 0 -0.4 -3 -0 0 4.9 -3 -0 0 -5 -3 -0 0 -0.6 -2 -0 0 -3.4 -4 -0 0 0.5 -2 -0 0 -0.3 -4 -0 0 -1.2 -5 -0 0 5 -6 -0 0 -5.6 -4 -0 0 2.8 -2 -0 0 -2.5 -3 -0 0 0.5 -2 -0 0 4.4 -2 -0 0 -1.9 -2 -0 0 -0.6 -3 -0 0 -1.7 -5 -0 0 3.8 -4 -0 0 -2.2 -2 -0 0 1 -3 -0 0 -3 -6 -0 0 7.2 -3 -0 0 -8.5 -3 -0 0 7.4 -4 -0 0 -6 -3 -0 0 2.7 -2 -0 0 0.6 -3 -0 0 -5.5 -6 -0 0 3.5 -4 -0 0 8.1 -6 -0 0 0.4 -5 -0 0 -6.9 -4 -0 0 -1.3 -3 -0 0 1.4 -4 -0 0 -0.1 -2 -0 0 -1.6 -2 -0 0 5.3 -4 -0 0 -3.6 -6 -0 0 -2.6 -3 -0 0 -0 -2 -0 0 4.4 -2 -0 0 -4.9 -6 -0 0 -1.2 -2 -0 0 1.4 -3 -0 0 1.4 -6 -0 0 -0.6 -2 -0 0 5.8 -2 -0 0 -7.5 -5 -0 0 -0.2 -2 -0 0 -0 -3 -0 0 14.6 -6 -0 0 -11.1 -2 -0 0 -4.8 -2 -0 0 3.8 -6 -0 0 0.4 -4 -0 0 0.7 -3 -0 0 -0 -4 -0 0 -0.5 -3 -0 0 2.8 -6 -0 0 -5.8 -5 -0 0 11.3 -3 -0 0 -6.8 -6 -0 0 2.8 -6 -0 0 -0 -4 -0 0 -2.8 -3 -0 0 0.4 -4 -0 0 -0.9 -2 -0 0 1.1 -3 -0 0 -1 -6 -0 0 2.8 -4 -0 0 -4.9 -6 -0 0 0.6 -3 -0 0 6.7 -2 -0 0 -7.4 -3 -0 0 3.4 -6 -0 0 0.7 -4 -0 0 -4.5 -6 -0 0 -1.4 -6 -0 0 1.6 -3 -0 0 -1 -2 -0 0 0.6 -5 -0 0 2.7 -4 -0 0 -2.9 -3 -0 0 1 -2 -0 0 2.8 -2 -0 0 -0.2 -5 -0 0 -1.5 -2 -0 0 0.3 -4 -0 0 -2.7 -5 -0 0 3.1 -3 -0 0 -2.9 -2 -0 0 -0.5 -5 -0 0 -0.7 -5 -0 0 5.5 -2 -0 0 -3.4 -4 -0 -0 2.3 -4 -0 -0 -3.4 -5 -0 -0 5.2 -2 -0 -0 -7 -5 -0 -0 2.2 -2 -0 -0 0.5 -6 -0 -0 0.4 -4 -0 -0 -1.6 -6 -0 -0 -1.2 -5 -0 -0 -0.1 -3 -0 -0 7.3 -3 -0 -0 -5.5 -5 -0 -0 3.8 -3 -0 -0 -2.2 -3 -0 -0 -2 -3 -0 -0 3.7 -4 -0 -0 -4.5 -2 -0 -0 4.5 -6 -0 -0 -3.3 -4 -0 -0 1.7 -3 -0 -0 0.7 -5 -0 -0 -6.9 -2 -0 -0 3.9 -2 -0 -0 0.3 -2 -0 -0 -5.6 -2 -0 -0 3.8 -2 -0 -0 0.2 -6 -0 -0 -1.5 -2 -0 -0 -2 -3 -0 -0 1.5 -2 -0 -0 1.4 -4 -0 -0 -3.5 -3 -0 -0 3.6 -2 -0 -0 -1.7 -2 -0 -0 2.2 -5 -0 -0 -4.3 -3 -0 -0 -1.2 -5 -0 -0 1.4 -6 -0 -0 7.6 -3 -0 -0 -1.4 -3 -0 -0 -5.2 -4 -0 -0 0.9 -3 -0 -0 0.4 -6 -0 -0 -3.1 -6 -0 -0 0.5 -3 -0 -0 7.8 -2 -0 -0 3.8 -6 -0 -0 -12.1 -5 -0 -0 2.6 -6 -0 -0 3.7 -4 -0 -0 0.1 -5 -0 -0 -4.7 -3 -0 -0 -1.6 -6 -0 -0 2.2 -6 -0 -0 -3 -2 -0 -0 5.6 -4 -0 -0 -4.8 -2 -0 -0 1.2 -4 -0 -0 -2.5 -3 -0 -0 1 -6 -0 -0 8.7 -3 -0 -0 -9 -2 -0 -0 -0.2 -2 -0 -0 0.1 -6 -0 -0 -0.2 -6 -0 -0 3.4 -2 -0 -0 1.1 -6 -0 -0 2.6 -3 -0 -0 -7.9 -3 -0 -0 2.6 -2 -0 -0 -3.1 -5 -0 -0 3.5 -5 -0 -0 -1.5 -3 -0 -0 -3.7 -2 -0 -0 5.6 -5 -0 -0 -4.5 -3 -0 -0 2.8 -3 -0 -0 -3.8 -3 -0 -0 0.6 -4 -0 -0 0.1 -5 -0 -0 -3.8 -5 -0 -0 -2.5 -5 -0 -0 -0.7 -4 -0 -0 1.8 -3 -0 -0 6.9 -4 -0 -0 -7.3 -5 -0 -0 9.7 -6 -0 -0 -13.7 -3 -0 -0 6.2 -2 -0 -0 -5.3 -3 -0 -0 -4.5 -3 -0 -0 -0.1 -3 -0 -0 -1.8 -3 -0 -0 1.3 -5 -0 -0 5.8 -6 -0 -0 -5.7 -2 -0 -0 1 -2 -0 -0 -5.6 -4 -0 -0 -2.8 -6 -0 -0 1.9 -6 -0 -0 -3 -5 -0 -0 -1.3 -5 -0 -0 -1.2 -6 -0 -0 2.3 -2 -0 -0 -1.5 -4 -0 -0 6.5 -3 -0 -0 -3.7 -3 -0 -0 -6.1 -4 -0 -0 -0 -2 -0 -0 -1.9 -3 -0 -0 -4.3 -6 -0 -0 -3.2 -4 -0 -0 3.4 -5 -0 -0 -4.1 -3 -0 -0 -3 -3 -0 -0 3.9 -5 -0 -0 -1.7 -2 -0 -0 0.7 -3 -0 -0 -6.2 -2 -0 -0 -0.6 -5 -0 -0 -2 -3 -0 -0 -6.4 -6 -0 -0 -3.9 -4 -0 -0 0.7 -2 -0 -0 -1.1 -6 -0 -0 -1.2 -2 -0 -0 -2.8 -6 -0 -0 4.8 -3 -0 -0 -4.5 -2 -0 -0 -10.2 -5 -0 -0 -0.7 -2 -0 -0 0.1 -4 -0 -0 2.4 -2 -0 -0 -3.6 -2 -0 -0 2.9 -2 -0 -0 -2.9 -3 -0 -0 3 -6 -0 -0 -7.7 -5 -0 -0 1.8 -6 -0 -0 -4.9 -3 -0 -0 -0.1 -6 -0 -0 -5.1 -6 -0 -0 -1.5 -4 -0 -0 3.4 -3 -0 -0 2.5 -3 -0 -0 -8.2 -6 -0 -0 3.7 -4 -0 -0 1.8 -3 -0 -0 -1 -2 -0 -0 23.8 -3 -0 -0 -20.7 -4 -0 -0 -0.6 -5 -0 -0 5.4 -4 -0 -0 0.9 -6 -0 -0 0.6 -3 -0 -0 -0.4 -3 -0 -0 0.1 -3 -0 -0 2.3 -6 -0 -0 7.4 -5 -0 -0 15.4 -3 -0 -0 -18.2 -3 -0 -0 12 -3 -0 -0 -9.1 -4 -0 -0 0.7 -2 -0 -0 9.9 -3 -0 -0 -6.7 -2 -0 -0 2.3 -4 -0 -0 3 -4 -0 -0 8.2 -2 -0 -0 -1.3 -3 -0 -0 3.6 -2 -0 -0 -2.4 -2 -0 -0 4 -3 -0 -0 -0.4 -3 -0 -0 1.8 -4 -0 -0 2.2 -2 -0 -0 0.7 -3 -0 -0 -2.9 -3 -0 -0 5.3 -3 -0 -0 -1.3 -6 -0 -0 4.9 -4 -0 -0 2.7 -3 -0 -0 5.1 -2 -0 -0 4.2 -4 -0 -0 -4.2 -2 -0 -0 2.9 -5 -0 -0 1.9 -3 -0 -0 -3.7 -4 -0 -0 7.4 -3 -0 -0 -4.1 -4 -0 -0 3.9 -2 -0 -0 0.3 -2 -0 -0 -0.7 -2 -0 -0 -1 -5 -0 -0 13.1 -5 -0 -0 -11.3 -2 -0 -0 2.3 -2 -0 -0 2.7 -2 -0 -0 -4 -2 -0 -0 3.3 -3 -0z"/><circle cx="288.9" cy="1211.0" r="11.5"/><circle cx="1880.9" cy="1254.3" r="7.5"/></g><path d="M288.9 1884l1.7 0.1 1.7 0.1 1.7 0.1 1.7 0.1 1.7 0.1 1.7 0.1 1.7 0.1 1.7 0.1 1.7 0.1 1.7 0.1 1.7 0.1 1.7 0.1 1.7 0.1 1.7 0.1 1.7 0 1.7 0.1 1.7 0.1 1.7 0.1 1.7 0.1 1.7 0 1.7 0.1 1.7 0.1 1.7 0.1 1.7 0 1.7 0.1 1.7 0 1.7 0.1 1.7 0 1.7 0.1 1.7 0.1 1.7 0 1.7 0.1 1.7 0 1.7 0.1 1.7 0 1.7 0.1 1.7 0 1.7 0.1 1.7 0 1.7 0.1 1.7 0 1.7 0.1 1.7 0 1.7 0.1 1.7 0.1 1.7 0.1 1.7 0 1.7 0.1 1.7 0.1 1.7 0.2 1.7 0.1 1.7 0.1 1.7 0.2 1.7 0.1 1.7 0.2 1.7 0.2 1.6 0.1 1.7 0.2 1.7 0.2 1.7 0.2 1.7 0.1 1.7 0.2 1.7 0.1 1.7 0.1 1.7 0.2 1.7 0.1 1.7 0.1 1.7 0.1 1.7 0 1.7 0.1 1.7 0 1.7 0 1.7 0 1.7 -0.1 1.7 -0.1 1.7 -0.1 1.7 -0.1 1.7 -0.2 1.7 -0.1 1.7 -0.2 1.7 -0.2 1.7 -0.2 1.7 -0.2 1.7 -0.3 1.7 -0.2 1.7 -0.2 1.7 -0.3 1.7 -0.2 1.7 -0.2 1.7 -0.3 1.7 -0.2 1.7 -0.2 1.7 -0.2 1.7 -0.2 1.7 -0.1 1.7 -0.2 1.7 -0.1 1.7 -0.1 1.7 -0.1 1.7 -0.1 1.7 -0.1 1.7 -0.1 1.7 -0.1 1.7 -0.1 1.7 -0.1 1.7 -0.2 1.7 -0.1 1.7 -0.2 1.7 -0.1 1.7 -0.2 1.7 -0.2 1.7 -0.2 1.7 -0.2 1.7 -0.3 1.7 -0.3 1.7 -0.3 1.6 -0.3 1.7 -0.4 1.7 -0.5 1.7 -0.5 1.7 -0.5 1.7 -0.7 1.7 -0.7 1.7 -0.9 1.3 -0.7 0.2 -0.1 0.2 -0.2 0.2 -0.1 0.3 -0.1 0.2 -0.2 0.2 -0.1 0.2 -0.2 0.2 -0.1 0.2 -0.2 0.2 -0.1 0.2 -0.2 0.3 -0.1 0.2 -0.2 0.2 -0.2 0.2 -0.1 0.2 -0.2 0.2 -0.2 0.2 -0.2 0.2 -0.2 0.3 -0.2 0.2 -0.1 0.2 -0.2 0.2 -0.2 0.2 -0.3 0.2 -0.2 0.2 -0.2 0.2 -0.2 0.3 -0.2 0.2 -0.3 0.2 -0.2 0.2 -0.2 0.2 -0.3 0.2 -0.3 0.2 -0.2 0.2 -0.3 0.3 -0.3 0.2 -0.2 0.2 -0.3 0.2 -0.3 0.2 -0.3 0.2 -0.3 0.2 -0.3 0.2 -0.4 0.3 -0.3 0.2 -0.3 0.2 -0.4 0.2 -0.4 0.2 -0.3 0.2 -0.4 0.2 -0.4 0.2 -0.4 0.2 -0.4 0.3 -0.4 0.2 -0.5 0.2 -0.4 0.2 -0.5 0.2 -0.4 0.2 -0.5 0.2 -0.5 0.2 -0.5 0.3 -0.6 0.2 -0.5 0.2 -0.6 0.2 -0.6 0.2 -0.6 0.2 -0.6 0.2 -0.6 0.2 -0.7 0.3 -0.6 0.2 -0.7 0.2 -0.7 0.2 -0.8 0.2 -0.8 0.2 -0.8 0.2 -0.8 0.2 -0.8 0.3 -0.9 0.2 -0.9 0.2 -1 0.2 -0.9 0.2 -1.1 0.2 -1 0.2 -1.1 0.2 -1.2 0.3 -1.2 0.2 -1.2 0.2 -1.3 0.2 -1.3 0.2 -1.4 0.2 -1.5 0.2 -1.5 0.2 -1.6 0.3 -1.7 0.2 -1.7 0.2 -1.9 0.2 -1.9 0.2 -2 0.2 -2.1 0.2 -2.2 0.2 -2.3 0.3 -2.5 0.2 -2.5 0.2 -2.7 0.2 -2.9 0.2 -3 0.2 -3.1 0.2 -3.3 0.2 -3.5 0.3 -3.7 0.2 -3.9 0.2 -4.1 0.2 -4.2 0.2 -4.6 0.2 -4.7 0.2 -5 0.2 -5.3 0.2 -5.6 0.3 -5.8 0.2 -6.1 0.2 -6.5 0.2 -6.7 0.2 -7.1 0.2 -7.4 0.2 -7.8 0.2 -8.1 0.3 -8.5 0.2 -8.9 0.2 -9.2 0.2 -9.6 0.2 -10 0.2 -10.4 0.2 -10.7 0.2 -11.1 0.3 -11.5 0.2 -11.8 0.2 -12 0.2 -12.4 0.2 -12.6 0.2 -12.8 0.2 -12.8 0.2 -13 0.3 -12.9 0.2 -12.8 0.2 -12.6 0.2 -12.3 0.2 -11.8 0.2 -11.3 0.2 -10.6 0.2 -9.7 0.3 -8.8 0.2 -7.7 0.2 -6.4 0.2 -5.1 0.2 -3.8 0.2 -2.2 0.4 0 0.3 2.2 0.2 3.8 0.2 5.1 0.2 6.5 0.2 7.7 0.2 8.7 0.2 9.8 0.2 10.6 0.3 11.2 0.2 11.9 0.2 12.3 0.2 12.6 0.2 12.8 0.2 12.9 0.2 13 0.2 12.9 0.2 12.8 0.3 12.6 0.2 12.3 0.2 12.1 0.2 11.8 0.2 11.5 0.2 11.1 0.2 10.8 0.2 10.3 0.3 10 0.2 9.7 0.2 9.2 0.2 8.9 0.2 8.5 0.2 8.1 0.2 7.8 0.2 7.4 0.3 7.1 0.2 6.8 0.2 6.4 0.2 6.2 0.2 5.8 0.2 5.6 0.2 5.2 0.2 5.1 0.3 4.7 0.2 4.6 0.2 4.3 0.2 4.1 0.2 3.8 0.2 3.7 0.2 3.5 0.2 3.4 0.3 3.1 0.2 3 0.2 2.9 0.2 2.7 0.2 2.5 0.2 2.5 0.2 2.3 0.2 2.3 0.3 2.1 0.2 2 0.2 1.9 0.2 1.9 0.2 1.7 0.2 1.7 0.2 1.6 0.2 1.5 0.3 1.5 0.2 1.4 0.2 1.4 0.2 1.3 0.2 1.2 0.2 1.2 0.2 1.1 0.2 1.2 0.2 1 0.3 1.1 0.2 0.9 0.2 1 0.2 0.9 0.2 0.9 0.2 0.9 0.2 0.8 0.2 0.8 0.3 0.8 0.2 0.7 0.2 0.8 0.2 0.7 0.2 0.6 0.2 0.7 0.2 0.7 0.2 0.6 0.3 0.6 0.2 0.6 0.2 0.5 0.2 0.6 0.2 0.5 0.2 0.5 0.2 0.6 0.2 0.4 0.3 0.5 0.2 0.5 0.2 0.5 0.2 0.4 0.2 0.4 0.2 0.4 0.2 0.4 0.2 0.4 0.3 0.4 0.2 0.4 0.2 0.4 0.2 0.3 0.2 0.4 0.2 0.3 0.2 0.4 0.2 0.3 0.3 0.3 0.2 0.3 0.2 0.3 0.2 0.3 0.2 0.3 0.2 0.3 0.2 0.3 0.2 0.2 0.3 0.3 0.2 0.2 0.2 0.3 0.2 0.2 0.2 0.3 0.2 0.2 0.2 0.2 0.2 0.3 0.2 0.2 0.3 0.2 0.2 0.2 0.2 0.2 0.2 0.2 0.2 0.2 0.2 0.2 0.2 0.2 0.2 0.2 0.3 0.2 0.2 0.1 0.2 0.2 0.2 0.2 0.2 0.2 0.2 0.1 0.2 0.2 0.2 0.1 0.3 0.2 0.2 0.1 0.2 0.2 0.2 0.1 0.2 0.2 0.2 0.1 0.2 0.2 0.2 0.1 0.3 0.1 0.2 0.2 1.7 0.9 1.7 0.9 1.7 0.7 1.7 0.6 1.7 0.6 1.7 0.5 1.7 0.4 1.7 0.4 1.7 0.4 1.7 0.3 1.7 0.3 1.6 0.2 1.7 0.2 1.7 0.2 1.7 0.2 1.7 0.1 1.7 0.2 1.7 0.1 1.7 0.1 1.7 0 1.7 0.1 1.7 0 1.7 0 1.7 0 1.7 -0.1 1.7 -0.1 1.7 -0.1 1.7 0 1.7 -0.2 1.7 -0.1 1.7 -0.1 1.7 -0.1 1.7 -0.2 1.7 -0.1 1.7 -0.2 1.7 -0.1 1.7 -0.2 1.7 -0.1 1.7 -0.2 1.7 -0.2 1.7 -0.2 1.7 -0.2 1.7 -0.3 1.7 -0.3 1.7 -0.3 1.7 -0.4 1.7 -0.5 1.7 -0.4 1.7 -0.6 1.7 -0.7 1.7 -0.7 1.7 -0.8 1.3 -0.8 0.2 -0.1 0.2 -0.1 0.2 -0.2 0.2 -0.1 0.2 -0.2 0.2 -0.1 0.2 -0.2 0.3 -0.1 0.2 -0.2 0.2 -0.1 0.2 -0.2 0.2 -0.1 0.2 -0.2 0.2 -0.2 0.2 -0.2 0.3 -0.1 0.2 -0.2 0.2 -0.2 0.2 -0.2 0.2 -0.2 0.2 -0.2 0.2 -0.2 0.2 -0.2 0.3 -0.2 0.2 -0.2 0.2 -0.3 0.2 -0.2 0.2 -0.2 0.2 -0.3 0.2 -0.2 0.2 -0.3 0.2 -0.2 0.3 -0.3 0.2 -0.3 0.2 -0.2 0.2 -0.3 0.2 -0.3 0.2 -0.3 0.2 -0.3 0.2 -0.3 0.3 -0.3 0.2 -0.4 0.2 -0.3 0.2 -0.4 0.2 -0.3 0.2 -0.4 0.2 -0.4 0.2 -0.3 0.3 -0.4 0.2 -0.4 0.2 -0.5 0.2 -0.4 0.2 -0.4 0.2 -0.5 0.2 -0.5 0.2 -0.4 0.3 -0.5 0.2 -0.6 0.2 -0.5 0.2 -0.5 0.2 -0.6 0.2 -0.6 0.2 -0.6 0.2 -0.6 0.3 -0.6 0.2 -0.7 0.2 -0.6 0.2 -0.7 0.2 -0.7 0.2 -0.8 0.2 -0.7 0.2 -0.8 0.3 -0.9 0.2 -0.8 0.2 -0.9 0.2 -0.9 0.2 -0.9 0.2 -1 0.2 -1 0.2 -1.1 0.3 -1.1 0.2 -1.1 0.2 -1.2 0.2 -1.2 0.2 -1.3 0.2 -1.3 0.2 -1.4 0.2 -1.4 0.2 -1.5 0.3 -1.6 0.2 -1.7 0.2 -1.7 0.2 -1.8 0.2 -1.9 0.2 -2 0.2 -2.1 0.2 -2.1 0.3 -2.3 0.2 -2.5 0.2 -2.5 0.2 -2.7 0.2 -2.8 0.2 -3 0.2 -3.1 0.2 -3.4 0.3 -3.5 0.2 -3.7 0.2 -3.9 0.2 -4.2 0.2 -4.4 0.2 -4.6 0.2 -4.9 0.2 -5.2 0.3 -5.5 0.2 -5.9 0.2 -6.1 0.2 -6.5 0.2 -6.9 0.2 -7.3 0.2 -7.6 0.2 -8.1 0.3 -8.5 0.2 -9 0.2 -9.4 0.2 -10 0.2 -10.4 0.2 -10.9 0.2 -11.5 0.2 -11.9 0.3 -12.5 0.2 -13 0.2 -13.6 0.2 -14 0.2 -14.5 0.2 -15 0.2 -15.4 0.2 -15.7 0.3 -16.1 0.2 -16.3 0.2 -16.4 0.2 -16.5 0.2 -16.3 0.2 -16.1 0.2 -15.8 0.2 -15.1 0.3 -14.4 0.2 -13.4 0.2 -12.3 0.2 -10.8 0.2 -9.4 0.2 -7.6 0.2 -5.7 0.2 -3.7 0.2 -1.7 0.3 0.4 0.2 2.5 0.2 4.6 0.2 6.5 0.2 8.3 0.2 10 0.2 11.5 0.2 12.8 0.3 13.8 0.2 14.7 0.2 15.4 0.2 15.9 0.2 16.3 0.2 16.4 0.2 16.5 0.2 16.4 0.3 16.2 0.2 16 0.2 15.6 0.2 15.3 0.2 14.8 0.2 14.3 0.2 13.9 0.2 13.3 0.3 12.8 0.2 12.3 0.2 11.8 0.2 11.2 0.2 10.8 0.2 10.2 0.2 9.8 0.2 9.2 0.3 8.8 0.2 8.4 0.2 7.9 0.2 7.5 0.2 7.2 0.2 6.7 0.2 6.4 0.2 6 0.3 5.7 0.2 5.4 0.2 5.1 0.2 4.9 0.2 4.5 0.2 4.3 0.2 4.1 0.2 3.9 0.3 3.6 0.2 3.5 0.2 3.2 0.2 3.1 0.2 3 0.2 2.7 0.2 2.7 0.2 2.5 0.2 2.4 0.3 2.2 0.2 2.2 0.2 2.1 0.2 1.9 0.2 1.9 0.2 1.8 0.2 1.7 0.2 1.6 0.3 1.6 0.2 1.5 0.2 1.4 0.2 1.4 0.2 1.3 0.2 1.3 0.2 1.2 0.2 1.2 0.3 1.1 0.2 1.1 0.2 1 0.2 1.1 0.2 0.9 0.2 1 0.2 0.9 0.2 0.9 0.3 0.8 0.2 0.8 0.2 0.8 0.2 0.8 0.2 0.8 0.2 0.7 0.2 0.7 0.2 0.7 0.3 0.6 0.2 0.7 0.2 0.6 0.2 0.6 0.2 0.6 0.2 0.5 0.2 0.6 0.2 0.5 0.3 0.5 0.2 0.5 0.2 0.5 0.2 0.5 0.2 0.5 0.2 0.4 0.2 0.5 0.2 0.4 0.3 0.4 0.2 0.4 0.2 0.4 0.2 0.4 0.2 0.4 0.2 0.3 0.2 0.4 0.2 0.3 0.2 0.4 0.3 0.3 0.2 0.3 0.2 0.3 0.2 0.4 0.2 0.3 0.2 0.2 0.2 0.3 0.2 0.3 0.3 0.3 0.2 0.3 0.2 0.2 0.2 0.3 0.2 0.2 0.2 0.3 0.2 0.2 0.2 0.2 0.3 0.3 0.2 0.2 0.2 0.2 0.2 0.2 0.2 0.2 0.2 0.2 0.2 0.2 0.2 0.2 0.3 0.2 0.2 0.2 0.2 0.2 0.2 0.2 0.2 0.2 0.2 0.1 0.2 0.2 0.2 0.2 0.3 0.1 0.2 0.2 0.2 0.2 0.2 0.1 0.2 0.2 0.2 0.1 0.2 0.2 0.2 0.1 0.3 0.1 0.2 0.2 0.2 0.1 0.2 0.2 0.2 0.1 0.2 0.1 1.7 1 1.7 0.8 1.7 0.7 1.7 0.6 1.7 0.6 1.7 0.4 1.7 0.5 1.7 0.3 1.7 0.3 1.7 0.3 1.7 0.2 1.7 0.2 1.7 0.1 1.7 0.1 1.7 0 1.7 0 1.7 -0.1 1.7 -0.2 1.7 -0.3 1.7 -0.4 1.7 -0.6 1.5 -0.8 0.2 -0.1 0.2 -0.2 0.2 -0.1 0.2 -0.1 0.2 -0.2 0.2 -0.2 0.3 -0.1 0.2 -0.2 0.2 -0.2 0.2 -0.2 0.2 -0.2 0.2 -0.3 0.2 -0.2 0.2 -0.2 0.3 -0.3 0.2 -0.3 0.2 -0.3 0.2 -0.3 0.2 -0.3 0.2 -0.3 0.2 -0.4 0.2 -0.4 0.2 -0.4 0.3 -0.4 0.2 -0.5 0.2 -0.5 0.2 -0.6 0.2 -0.5 0.2 -0.6 0.2 -0.7 0.2 -0.7 0.3 -0.8 0.2 -0.8 0.2 -0.9 0.2 -0.9 0.2 -1 0.2 -1.1 0.2 -1.2 0.2 -1.3 0.3 -1.3 0.2 -1.5 0.2 -1.5 0.2 -1.7 0.2 -1.8 0.2 -1.9 0.2 -2.1 0.2 -2.2 0.3 -2.3 0.2 -2.5 0.2 -2.6 0.2 -2.8 0.2 -2.9 0.2 -3.1 0.2 -3.2 0.2 -3.3 0.3 -3.5 0.2 -3.6 0.2 -3.6 0.2 -3.7 0.2 -3.7 0.2 -3.6 0.2 -3.5 0.2 -3.4 0.3 -3.1 0.2 -2.8 0.2 -2.4 0.2 -2 0.2 -1.4 0.2 -0.9 0.4 0 0.3 0.9 0.2 1.4 0.2 2 0.2 2.4 0.2 2.8 0.2 3.2 0.2 3.3 0.2 3.5 0.2 3.7 0.3 3.7 0.2 3.6 0.2 3.7 0.2 3.5 0.2 3.5 0.2 3.3 0.2 3.3 0.2 3 0.3 3 0.2 2.7 0.2 2.7 0.2 2.4 0.2 2.4 0.2 2.1 0.2 2.1 0.2 1.9 0.3 1.8 0.2 1.7 0.2 1.5 0.2 1.5 0.2 1.3 0.2 1.3 0.2 1.1 0.2 1.1 0.3 1 0.2 0.9 0.2 0.9 0.2 0.8 0.2 0.7 0.2 0.7 0.2 0.7 0.2 0.5 0.3 0.6 0.2 0.5 0.2 0.5 0.2 0.4 0.2 0.4 0.2 0.4 0.2 0.3 0.2 0.3 0.3 0.3 0.2 0.3 0.2 0.2 0.2 0.3 0.2 0.2 0.2 0.1 0.2 0.2 0.2 0.2 0.3 0.1 1.6 0.3 0.9 -0.4 0.2 -0.2 0.2 -0.2 0.2 -0.2 0.2 -0.3 0.3 -0.3 0.2 -0.4 0.2 -0.4 0.2 -0.5 0.2 -0.6 0.2 -0.6 0.2 -0.7 0.2 -0.7 0.3 -0.9 0.2 -0.9 0.2 -1 0.2 -1.1 0.2 -1.3 0.2 -1.3 0.2 -1.4 0.2 -1.5 0.3 -1.6 0.2 -1.7 0.2 -1.8 0.2 -1.8 0.2 -1.9 0.2 -1.8 0.2 -1.7 0.2 -1.6 0.3 -1.5 0.2 -1.1 0.2 -0.9 0.2 -0.6 0.4 0.2 0.2 0.6 0.2 1 0.3 1.3 0.2 1.5 0.2 1.8 0.2 1.8 0.2 1.9 0.2 2 0.2 1.9 0.2 1.9 0.3 1.8 0.2 1.8 0.2 1.6 0.2 1.5 0.2 1.5 0.2 1.3 0.2 1.3 0.2 1.1 0.2 1.1 0.3 1 0.2 0.9 0.2 0.8 0.2 0.7 0.2 0.7 0.2 0.7 0.2 0.5 0.2 0.6 0.3 0.5 0.2 0.4 0.2 0.4 0.2 0.4 0.2 0.3 0.2 0.4 0.2 0.2 0.2 0.3 0.3 0.3 0.2 0.2 0.2 0.2 0.2 0.2 0.2 0.2 0.2 0.2 0.2 0.2 0.2 0.2 0.3 0.1 0.2 0.2 0.2 0.1 0.2 0.1 0.6 0.4 1.7 0.7 1.7 0.6 1.7 0.4 1.7 0.3 1.7 0.3 1.7 0.2 1.7 0.2 1.7 0.1 1.7 0.2 1.7 0.1 1.7 0.1 1.7 0.1 1.7 0 1.7 0.1 1.7 0.1 1.7 0 1.7 0 1.7 0.1 1.7 0 1.7 0 1.7 0 1.7 0 1.7 0 1.7 0 1.7 0 1.7 -0.1 1.7 0 1.7 -0.1 1.7 -0.1 1.7 -0.1 1.7 -0.2 1.7 -0.3 1.7 -0.3 1.7 -0.5 1.7 -0.8 0.4 -0.3 0.2 -0.1 0.2 -0.1 0.2 -0.2 0.2 -0.1 0.3 -0.2 0.2 -0.2 0.2 -0.1 0.2 -0.2 0.2 -0.2 0.2 -0.2 0.2 -0.2 0.2 -0.2 0.3 -0.2 0.2 -0.2 0.2 -0.3 0.2 -0.2 0.2 -0.3 0.2 -0.2 0.2 -0.3 0.2 -0.2 0.3 -0.3 0.2 -0.2 0.2 -0.3 0.2 -0.2 0.2 -0.3 0.2 -0.2 0.2 -0.2 0.2 -0.2 0.3 -0.2 0.2 -0.2 0.2 -0.1 1.5 -0.3 0.6 0.2 0.2 0.2 0.2 0.2 0.2 0.1 0.2 0.2 0.3 0.3 0.2 0.2 0.2 0.2 0.2 0.3 0.2 0.2 0.2 0.2 0.2 0.3 0.2 0.2 0.3 0.3 0.2 0.2 0.2 0.3 0.2 0.2 0.2 0.2 0.2 0.2 0.2 0.3 0.2 0.2 0.3 0.2 0.2 0.1 0.2 0.2 0.2 0.2 0.2 0.2 0.2 0.1 0.2 0.2 0.2 0.1 0.3 0.2 0.2 0.1 1.5 0.8 1.7 0.6 1.7 0.3 1.7 0.3 1.6 0.2 1.7 0.1 1.7 0 1.7 0.1 1.7 0 1.7 0.1 1.7 0 1.7 0 1.7 0 1.7 -0.1 1.7 0 1.7 0 1.7 0 1.7 0 1.7 0 1.7 -0.1 1.7 0 1.7 0 1.7 -0.1 1.7 0 1.7 0 1.7 0 1.7 -0.1 1.7 0 1.7 0 1.7 0 1.7 -0.1 1.7 0 1.7 0 1.7 -0.1 1.7 0 1.7 0 1.7 0 1.7 0 1.7 -0.1 1.7 0 1.7 0 1.7 0 1.7 -0.1 1.7 0 1.7 0 1.7 0 1.7 -0.1 1.7 0 1.7 0 1.7 0 1.7 -0.1 1.7 0 1.7 0 1.7 -0.1 1.7 0 1.7 -0.1 1.7 0 1.7 -0.1 1.7 0 1.7 -0.1 1.7 0 1.7 -0.1 1.7 0 1.6 -0.1 1.7 -0.1 1.7 -0.1 1.7 -0.1 1.7 -0.1 1.7 -0.1 1.7 -0.1 1.7 -0.1 1.7 -0.1 1.7 -0.2 1.7 -0.2 1.7 -0.1 1.7 -0.2 1.7 -0.3 1.7 -0.2 1.7 -0.3 1.7 -0.3 1.7 -0.3 1.7 -0.4 1.7 -0.4 1.7 -0.5 1.7 -0.5 1.7 -0.6 1.7 -0.7 1.7 -0.7 1.7 -0.9 0.9 -0.5 0.2 -0.2 0.2 -0.1 0.2 -0.1 0.2 -0.2 0.2 -0.1 0.2 -0.2 0.2 -0.1 0.3 -0.2 0.2 -0.1 0.2 -0.2 0.2 -0.1 0.2 -0.2 0.2 -0.1 0.2 -0.2 0.2 -0.2 0.3 -0.2 0.2 -0.1 0.2 -0.2 0.2 -0.2 0.2 -0.2 0.2 -0.2 0.2 -0.2 0.2 -0.2 0.3 -0.2 0.2 -0.2 0.2 -0.2 0.2 -0.2 0.2 -0.3 0.2 -0.2 0.2 -0.2 0.2 -0.3 0.2 -0.2 0.3 -0.3 0.2 -0.2 0.2 -0.3 0.2 -0.3 0.2 -0.2 0.2 -0.3 0.2 -0.3 0.2 -0.3 0.3 -0.3 0.2 -0.3 0.2 -0.3 0.2 -0.3 0.2 -0.4 0.2 -0.3 0.2 -0.4 0.2 -0.3 0.3 -0.4 0.2 -0.4 0.2 -0.4 0.2 -0.4 0.2 -0.4 0.2 -0.4 0.2 -0.4 0.2 -0.5 0.3 -0.4 0.2 -0.5 0.2 -0.5 0.2 -0.4 0.2 -0.6 0.2 -0.5 0.2 -0.5 0.2 -0.6 0.3 -0.5 0.2 -0.6 0.2 -0.6 0.2 -0.7 0.2 -0.6 0.2 -0.7 0.2 -0.7 0.2 -0.7 0.3 -0.7 0.2 -0.8 0.2 -0.8 0.2 -0.8 0.2 -0.8 0.2 -0.9 0.2 -0.9 0.2 -0.9 0.3 -1 0.2 -1 0.2 -1.1 0.2 -1.1 0.2 -1.1 0.2 -1.2 0.2 -1.2 0.2 -1.3 0.3 -1.3 0.2 -1.4 0.2 -1.5 0.2 -1.5 0.2 -1.6 0.2 -1.6 0.2 -1.7 0.2 -1.8 0.2 -1.9 0.3 -1.9 0.2 -2 0.2 -2.2 0.2 -2.2 0.2 -2.3 0.2 -2.4 0.2 -2.5 0.2 -2.6 0.3 -2.8 0.2 -2.9 0.2 -3 0.2 -3.1 0.2 -3.2 0.2 -3.4 0.2 -3.6 0.2 -3.7 0.3 -3.8 0.2 -4 0.2 -4.2 0.2 -4.3 0.2 -4.5 0.2 -4.7 0.2 -4.8 0.2 -5.1 0.3 -5.2 0.2 -5.4 0.2 -5.6 0.2 -5.8 0.2 -6 0.2 -6.2 0.2 -6.3 0.2 -6.6 0.3 -6.7 0.2 -6.9 0.2 -7.1 0.2 -7.2 0.2 -7.4 0.2 -7.5 0.2 -7.6 0.2 -7.7 0.3 -7.8 0.2 -7.8 0.2 -7.8 0.2 -7.8 0.2 -7.8 0.2 -7.6 0.2 -7.5 0.2 -7.3 0.3 -7 0.2 -6.7 0.2 -6.4 0.2 -5.9 0.2 -5.4 0.2 -5 0.2 -4.3 0.2 -3.7 0.2 -3.1 0.3 -2.3 0.2 -1.6 0.2 -0.8 0.2 -0.1 0.2 0.7 0.2 1.4 0.2 2.2 0.2 2.9 0.3 3.6 0.2 4.2 0.2 4.8 0.2 5.4 0.2 5.8 0.2 6.3 0.2 6.6 0.2 7 0.3 7.2 0.2 7.5 0.2 7.6 0.2 7.7 0.2 7.8 0.2 7.8 0.2 7.8 0.2 7.8 0.3 7.7 0.2 7.7 0.2 7.5 0.2 7.4 0.2 7.2 0.2 7.2 0.2 6.9 0.2 6.8 0.3 6.5 0.2 6.4 0.2 6.2 0.2 6.1 0.2 5.8 0.2 5.6 0.2 5.5 0.2 5.2 0.3 5.1 0.2 4.9 0.2 4.7 0.2 4.6 0.2 4.3 0.2 4.2 0.2 4 0.2 3.9 0.3 3.7 0.2 3.6 0.2 3.4 0.2 3.3 0.2 3.2 0.2 3 0.2 2.9 0.2 2.7 0.2 2.7 0.3 2.5 0.2 2.4 0.2 2.4 0.2 2.2 0.2 2.1 0.2 2.1 0.2 1.9 0.2 1.9 0.3 1.8 0.2 1.7 0.2 1.7 0.2 1.6 0.2 1.5 0.2 1.4 0.2 1.4 0.2 1.4 0.3 1.3 0.2 1.2 0.2 1.2 0.2 1.1 0.2 1.1 0.2 1.1 0.2 1 0.2 1 0.3 0.9 0.2 0.9 0.2 0.9 0.2 0.9 0.2 0.8 0.2 0.8 0.2 0.7 0.2 0.7 0.3 0.8 0.2 0.6 0.2 0.7 0.2 0.7 0.2 0.6 0.2 0.6 0.2 0.6 0.2 0.5 0.3 0.6 0.2 0.5 0.2 0.5 0.2 0.5 0.2 0.5 0.2 0.5 0.2 0.5 0.2 0.4 0.3 0.4 0.2 0.5 0.2 0.4 0.2 0.4 0.2 0.4 0.2 0.4 0.2 0.3 0.2 0.4 0.3 0.3 0.2 0.4 0.2 0.3 0.2 0.3 0.2 0.3 0.2 0.3 0.2 0.3 0.2 0.3 0.2 0.3 0.3 0.3 0.2 0.3 0.2 0.2 0.2 0.3 0.2 0.2 0.2 0.3 0.2 0.2 0.2 0.2 0.3 0.3 0.2 0.2 0.2 0.2 0.2 0.2 0.2 0.2 0.2 0.2 0.2 0.2 0.2 0.2 0.3 0.2 0.2 0.2 0.2 0.1 0.2 0.2 0.2 0.2 0.2 0.1 0.2 0.2 0.2 0.1 0.3 0.2 0.2 0.1 0.2 0.2 0.2 0.1 0.2 0.2 0.2 0.1 0.4 0.2 1.7 0.9 1.7 0.7 1.7 0.5 1.7 0.3 1.7 0.1 1.7 -0.1 1.7 -0.2 1.7 -0.6 1.3 -0.7 0.2 -0.1 0.2 -0.1 0.2 -0.2 0.3 -0.1 0.2 -0.2 0.2 -0.2 0.2 -0.1 0.2 -0.2 0.2 -0.2 0.2 -0.2 0.2 -0.3 0.2 -0.2 0.3 -0.2 0.2 -0.3 0.2 -0.3 0.2 -0.3 0.2 -0.3 0.2 -0.3 0.2 -0.3 0.2 -0.4 0.3 -0.4 0.2 -0.3 0.2 -0.5 0.2 -0.4 0.2 -0.5 0.2 -0.4 0.2 -0.5 0.2 -0.6 0.3 -0.5 0.2 -0.6 0.2 -0.7 0.2 -0.6 0.2 -0.7 0.2 -0.7 0.2 -0.8 0.2 -0.8 0.3 -0.8 0.2 -0.9 0.2 -0.9 0.2 -1 0.2 -1 0.2 -1.1 0.2 -1.1 0.2 -1.1 0.3 -1.2 0.2 -1.3 0.2 -1.3 0.2 -1.4 0.2 -1.4 0.2 -1.4 0.2 -1.6 0.2 -1.6 0.3 -1.6 0.2 -1.7 0.2 -1.7 0.2 -1.8 0.2 -1.8 0.2 -1.9 0.2 -1.9 0.2 -2 0.3 -2 0.2 -2 0.2 -2 0.2 -2 0.2 -2 0.2 -2 0.2 -1.9 0.2 -1.9 0.3 -1.8 0.2 -1.8 0.2 -1.7 0.2 -1.5 0.2 -1.4 0.2 -1.3 0.2 -1.1 0.2 -0.9 0.2 -0.7 0.3 -0.5 0.2 -0.3 0.4 -0 0.2 0.4 0.2 0.5 0.2 0.8 0.2 0.9 0.3 1.2 0.2 1.3 0.2 1.4 0.2 1.6 0.2 1.7 0.2 1.8 0.2 1.9 0.2 1.9 0.3 2 0.2 2 0.2 2.1 0.2 2 0.2 2.1 0.2 2 0.2 2 0.2 2 0.3 2 0.2 1.9 0.2 1.8 0.2 1.9 0.2 1.8 0.2 1.7 0.2 1.7 0.2 1.6 0.3 1.5 0.2 1.6 0.2 1.4 0.2 1.4 0.2 1.4 0.2 1.3 0.2 1.2 0.2 1.2 0.3 1.2 0.2 1.1 0.2 1 0.2 1 0.2 1 0.2 0.9 0.2 0.9 0.2 0.8 0.3 0.8 0.2 0.8 0.2 0.7 0.2 0.7 0.2 0.7 0.2 0.6 0.2 0.7 0.2 0.5 0.2 0.6 0.3 0.5 0.2 0.5 0.2 0.5 0.2 0.5 0.2 0.4 0.2 0.4 0.2 0.4 0.2 0.4 0.3 0.4 0.2 0.3 0.2 0.4 0.2 0.3 0.2 0.3 0.2 0.3 0.2 0.3 0.2 0.3 0.3 0.2 0.2 0.3 0.2 0.2 0.2 0.3 0.2 0.2 0.2 0.2 0.2 0.2 0.2 0.2 0.3 0.2 0.2 0.2 0.2 0.2 0.2 0.2 0.2 0.1 0.2 0.2 0.2 0.2 0.2 0.1 0.3 0.2 0.2 0.1 0.2 0.1 0.2 0.2 0.2 0.1 1.5 0.8 1.7 0.8 1.7 0.6 1.7 0.4 1.7 0.4 1.7 0.3 1.7 0.3 1.7 0.1 1.7 0.2 1.7 -0 1.7 -0 1.7 -0 1.7 -0.2 1.7 -0.1 1.7 -0.3 1.7 -0.3 1.7 -0.5 1.7 -0.5 1.7 -0.8 0.8 -0.5 0.2 -0.1 0.2 -0.2 0.2 -0.1 0.3 -0.2 0.2 -0.1 0.2 -0.2 0.2 -0.1 0.2 -0.2 0.2 -0.2 0.2 -0.2 0.2 -0.2 0.3 -0.2 0.2 -0.2 0.2 -0.3 0.2 -0.2 0.2 -0.2 0.2 -0.3 0.2 -0.3 0.2 -0.3 0.3 -0.3 0.2 -0.3 0.2 -0.3 0.2 -0.4 0.2 -0.4 0.2 -0.4 0.2 -0.4 0.2 -0.4 0.3 -0.5 0.2 -0.5 0.2 -0.5 0.2 -0.5 0.2 -0.6 0.2 -0.6 0.2 -0.6 0.2 -0.7 0.3 -0.6 0.2 -0.8 0.2 -0.7 0.2 -0.8 0.2 -0.9 0.2 -0.9 0.2 -0.9 0.2 -1 0.2 -1 0.3 -1 0.2 -1.1 0.2 -1.2 0.2 -1.2 0.2 -1.2 0.2 -1.3 0.2 -1.4 0.2 -1.3 0.3 -1.5 0.2 -1.4 0.2 -1.5 0.2 -1.6 0.2 -1.5 0.2 -1.6 0.2 -1.6 0.2 -1.6 0.3 -1.6 0.2 -1.6 0.2 -1.6 0.2 -1.5 0.2 -1.5 0.2 -1.4 0.2 -1.3 0.2 -1.2 0.3 -1.1 0.2 -1 0.2 -0.8 0.2 -0.6 0.2 -0.5 0.2 -0.3 0.4 -0 0.3 0.3 0.2 0.4 0.2 0.6 0.2 0.8 0.2 1 0.2 1.1 0.2 1.2 0.2 1.3 0.3 1.3 0.2 1.5 0.2 1.5 0.2 1.6 0.2 1.5 0.2 1.6 0.2 1.6 0.2 1.6 0.3 1.6 0.2 1.5 0.2 1.6 0.2 1.4 0.2 1.5 0.2 1.4 0.2 1.4 0.2 1.3 0.3 1.3 0.2 1.2 0.2 1.2 0.2 1.1 0.2 1.1 0.2 1 0.2 1 0.2 1 0.2 0.9 0.3 0.9 0.2 0.8 0.2 0.8 0.2 0.7 0.2 0.8 0.2 0.6 0.2 0.7 0.2 0.6 0.3 0.6 0.2 0.5 0.2 0.5 0.2 0.5 0.2 0.5 0.2 0.5 0.2 0.4 0.2 0.4 0.3 0.4 0.2 0.3 0.2 0.4 0.2 0.3 0.2 0.3 0.2 0.3 0.2 0.3 0.2 0.2 0.3 0.3 0.2 0.2 0.2 0.3 0.2 0.2 0.2 0.2 0.2 0.2 0.2 0.2 0.2 0.1 0.3 0.2 0.2 0.2 0.2 0.1 0.2 0.2 0.2 0.1 0.2 0.2 0.2 0.1 1.7 0.9 1.7 0.6 1.7 0.5 1.7 0.4 1.7 0.3 1.7 0.2 1.7 0.2 1.7 0.1 1.7 0.1 1.7 0.1 1.7 -0 1.7 0.1 1.7 -0 1.7 -0 1.7 -0 1.7 -0 1.7 -0.1 1.7 -0.1 1.7 -0.1 1.7 -0.1 1.7 -0.2 1.7 -0.2 1.7 -0.2 1.7 -0.3 1.7 -0.4 1.7 -0.5 1.7 -0.6 1.7 -0.7 1.5 -0.8 0.2 -0.1 0.2 -0.2 0.2 -0.1 0.2 -0.2 0.2 -0.1 0.2 -0.2 0.3 -0.2 0.2 -0.1 0.2 -0.2 0.2 -0.2 0.2 -0.2 0.2 -0.2 0.2 -0.2 0.2 -0.2 0.3 -0.3 0.2 -0.2 0.2 -0.3 0.2 -0.2 0.2 -0.3 0.2 -0.3 0.2 -0.3 0.2 -0.3 0.2 -0.3 0.3 -0.4 0.2 -0.3 0.2 -0.4 0.2 -0.4 0.2 -0.4 0.2 -0.5 0.2 -0.4 0.2 -0.5 0.3 -0.5 0.2 -0.5 0.2 -0.6 0.2 -0.6 0.2 -0.6 0.2 -0.6 0.2 -0.7 0.2 -0.7 0.3 -0.7 0.2 -0.8 0.2 -0.8 0.2 -0.8 0.2 -0.9 0.2 -0.9 0.2 -0.9 0.2 -1 0.3 -1 0.2 -1.1 0.2 -1.1 0.2 -1.1 0.2 -1.2 0.2 -1.3 0.2 -1.2 0.2 -1.3 0.3 -1.4 0.2 -1.4 0.2 -1.4 0.2 -1.4 0.2 -1.5 0.2 -1.5 0.2 -1.6 0.2 -1.5 0.3 -1.6 0.2 -1.5 0.2 -1.6 0.2 -1.5 0.2 -1.5 0.2 -1.5 0.2 -1.4 0.2 -1.4 0.3 -1.2 0.2 -1.2 0.2 -1.1 0.2 -1 0.2 -0.9 0.2 -0.7 0.2 -0.6 0.2 -0.4 0.2 -0.2 0.3 -0.1 0.2 0.1 0.2 0.2 0.2 0.4 0.2 0.6 0.2 0.7 0.2 0.9 0.2 0.9 0.3 1.1 0.2 1.2 0.2 1.3 0.2 1.3 0.2 1.5 0.2 1.4 0.2 1.5 0.2 1.5 0.3 1.6 0.2 1.5 0.2 1.6 0.2 1.5 0.2 1.6 0.2 1.5 0.2 1.4 0.2 1.5 0.3 1.4 0.2 1.4 0.2 1.3 0.2 1.3 0.2 1.3 0.2 1.2 0.2 1.2 0.2 1.2 0.3 1.1 0.2 1 0.2 1 0.2 1 0.2 0.9 0.2 0.9 0.2 0.9 0.2 0.8 0.3 0.8 0.2 0.8 0.2 0.7 0.2 0.7 0.2 0.7 0.2 0.6 0.2 0.6 0.2 0.6 0.3 0.5 0.2 0.5 0.2 0.5 0.2 0.5 0.2 0.5 0.2 0.4 0.2 0.4 0.2 0.4 0.3 0.4 0.2 0.3 0.2 0.4 0.2 0.3 0.2 0.3 0.2 0.3 0.2 0.3 0.2 0.2 0.2 0.3 0.3 0.2 0.2 0.3 0.2 0.2 0.2 0.2 0.2 0.2 0.2 0.2 0.2 0.2 0.2 0.2 0.3 0.2 0.2 0.1 0.2 0.2 0.2 0.1 0.2 0.2 0.2 0.1 0.2 0.2 0.2 0.1 1.7 0.9 1.7 0.7 1.7 0.5 1.7 0.4 1.7 0.3 1.7 0.2 1.7 0.1 1.7 0.1 1.7 -0 1.7 -0 1.7 -0.1 1.7 -0.1 1.7 -0.2 1.7 -0.2 1.7 -0.3 1.7 -0.5 1.7 -0.5 1.7 -0.7 1.5 -0.9 0.2 -0.1 0.2 -0.1 0.2 -0.2 0.3 -0.1 0.2 -0.2 0.2 -0.1 0.2 -0.2 0.2 -0.2 0.2 -0.1 0.2 -0.2 0.2 -0.2 0.2 -0.2 0.3 -0.2 0.2 -0.2 0.2 -0.2 0.2 -0.3 0.2 -0.2 0.2 -0.3 0.2 -0.2 0.2 -0.3 0.3 -0.3 0.2 -0.3 0.2 -0.3 0.2 -0.4 0.2 -0.3 0.2 -0.4 0.2 -0.4 0.2 -0.4 0.3 -0.5 0.2 -0.4 0.2 -0.5 0.2 -0.5 0.2 -0.6 0.2 -0.6 0.2 -0.6 0.2 -0.6 0.3 -0.7 0.2 -0.8 0.2 -0.7 0.2 -0.9 0.2 -0.8 0.2 -1 0.2 -1 0.2 -1 0.3 -1.2 0.2 -1.1 0.2 -1.3 0.2 -1.3 0.2 -1.5 0.2 -1.5 0.2 -1.6 0.2 -1.7 0.3 -1.7 0.2 -1.9 0.2 -2 0.2 -2.1 0.2 -2.1 0.2 -2.3 0.2 -2.4 0.2 -2.5 0.3 -2.6 0.2 -2.7 0.2 -2.7 0.2 -2.9 0.2 -2.9 0.2 -2.9 0.2 -3 0.2 -3 0.2 -2.9 0.3 -3 0.2 -2.8 0.2 -2.7 0.2 -2.5 0.2 -2.3 0.2 -2.1 0.2 -1.7 0.2 -1.5 0.3 -1 0.2 -0.7 0.4 -0.2 0.2 0.6 0.2 0.9 0.2 1.3 0.2 1.6 0.3 1.9 0.2 2.2 0.2 2.4 0.2 2.5 0.2 2.7 0.2 2.8 0.2 2.8 0.2 2.8 0.3 2.8 0.2 2.8 0.2 2.8 0.2 2.6 0.2 2.6 0.2 2.5 0.2 2.5 0.2 2.3 0.3 2.2 0.2 2.1 0.2 2 0.2 1.8 0.2 1.8 0.2 1.7 0.2 1.6 0.2 1.4 0.3 1.4 0.2 1.3 0.2 1.1 0.2 1.1 0.2 1.1 0.2 0.9 0.2 0.8 0.2 0.8 0.3 0.7 0.2 0.6 0.2 0.6 0.2 0.5 0.2 0.4 0.2 0.4 0.2 0.3 0.2 0.3 0.2 0.2 0.7 0.2 0.6 -0.1 0.2 -0.2 0.2 -0.2 0.3 -0.3 0.2 -0.3 0.2 -0.4 0.2 -0.4 0.2 -0.5 0.2 -0.5 0.2 -0.6 0.2 -0.6 0.3 -0.7 0.2 -0.8 0.2 -0.8 0.2 -0.9 0.2 -0.9 0.2 -1 0.2 -1.1 0.2 -1.1 0.3 -1.2 0.2 -1.3 0.2 -1.3 0.2 -1.4 0.2 -1.5 0.2 -1.5 0.2 -1.6 0.2 -1.7 0.3 -1.7 0.2 -1.8 0.2 -1.8 0.2 -1.9 0.2 -1.9 0.2 -1.9 0.2 -2 0.2 -2 0.3 -2 0.2 -2 0.2 -1.9 0.2 -1.9 0.2 -1.8 0.2 -1.8 0.2 -1.6 0.2 -1.5 0.3 -1.3 0.2 -1.2 0.2 -1 0.2 -0.7 0.2 -0.5 0.2 -0.3 0.4 0.1 0.3 0.4 0.2 0.7 0.2 0.9 0.2 1.1 0.2 1.3 0.2 1.4 0.2 1.7 0.2 1.7 0.2 1.9 0.3 1.9 0.2 2.1 0.2 2.1 0.2 2.1 0.2 2.1 0.2 2.1 0.2 2.2 0.2 2.1 0.3 2 0.2 2.1 0.2 2 0.2 1.9 0.2 1.9 0.2 1.8 0.2 1.8 0.2 1.7 0.3 1.6 0.2 1.6 0.2 1.5 0.2 1.5 0.2 1.4 0.2 1.4 0.2 1.2 0.2 1.3 0.3 1.1 0.2 1.2 0.2 1 0.2 1 0.2 1 0.2 0.9 0.2 0.9 0.2 0.8 0.3 0.8 0.2 0.8 0.2 0.7 0.2 0.7 0.2 0.6 0.2 0.6 0.2 0.6 0.2 0.6 0.3 0.5 0.2 0.5 0.2 0.5 0.2 0.5 0.2 0.4 0.2 0.4 0.2 0.4 0.2 0.4 0.3 0.3 0.2 0.4 0.2 0.3 0.2 0.3 0.2 0.3 0.2 0.3 0.2 0.3 0.2 0.2 0.2 0.3 0.3 0.2 0.2 0.3 0.2 0.2 0.2 0.2 0.2 0.2 0.2 0.2 0.2 0.2 0.2 0.2 0.3 0.2 0.2 0.1 0.2 0.2 0.2 0.2 0.2 0.1 0.2 0.2 0.2 0.1 0.2 0.1 0.3 0.2 0.2 0.1 1.5 0.8 1.7 0.8 1.7 0.6 1.7 0.5 1.6 0.4 1.7 0.4 1.7 0.3 1.7 0.2 1.7 0.2 1.7 0.2 1.7 0.2 1.7 0.1 1.7 0.1 1.7 0.2 1.7 -0 1.7 0.1 1.7 0.1 1.7 0.1 1.7 -0 1.7 0.1 1.7 -0 1.7 0.1 1.7 -0 1.7 -0 1.7 0.1 1.7 -0 1.7 -0 1.7 -0 1.7 -0 1.7 -0 1.7 -0 1.7 -0 1.7 -0 1.7 -0 1.7 -0.1 1.7 -0 1.7 -0.1 1.7 -0 1.7 -0.1 1.7 -0.1 1.7 -0.2 1.7 -0.1 1.7 -0.2 1.7 -0.3 1.7 -0.3 1.7 -0.4 1.7 -0.6 1.7 -0.7 1.3 -0.7 0.2 -0.1 0.2 -0.1 0.2 -0.2 0.2 -0.1 0.2 -0.2 0.2 -0.2 0.2 -0.1 0.2 -0.2 0.3 -0.2 0.2 -0.2 0.2 -0.2 0.2 -0.2 0.2 -0.3 0.2 -0.2 0.2 -0.2 0.2 -0.3 0.3 -0.3 0.2 -0.3 0.2 -0.3 0.2 -0.3 0.2 -0.3 0.2 -0.4 0.2 -0.3 0.2 -0.4 0.3 -0.4 0.2 -0.4 0.2 -0.5 0.2 -0.4 0.2 -0.5 0.2 -0.5 0.2 -0.6 0.2 -0.5 0.3 -0.6 0.2 -0.6 0.2 -0.6 0.2 -0.7 0.2 -0.7 0.2 -0.7 0.2 -0.7 0.2 -0.8 0.3 -0.8 0.2 -0.8 0.2 -0.9 0.2 -0.9 0.2 -0.9 0.2 -0.9 0.2 -1 0.2 -1 0.3 -1 0.2 -1 0.2 -1.1 0.2 -1 0.2 -1.1 0.2 -1.1 0.2 -1.1 0.2 -1.1 0.3 -1 0.2 -1.1 0.2 -1 0.2 -1 0.2 -0.9 0.2 -0.9 0.2 -0.9 0.2 -0.7 0.2 -0.7 0.3 -0.6 0.2 -0.5 0.2 -0.4 0.2 -0.3 0.8 -0 0.3 0.3 0.2 0.4 0.2 0.5 0.2 0.6 0.2 0.7 0.2 0.8 0.2 0.8 0.2 0.9 0.3 1 0.2 1 0.2 1 0.2 1.1 0.2 1.1 0.2 1.1 0.2 1.1 0.2 1 0.3 1.1 0.2 1.1 0.2 1.1 0.2 1 0.2 1 0.2 1 0.2 1 0.2 1 0.3 0.9 0.2 0.9 0.2 0.8 0.2 0.9 0.2 0.8 0.2 0.8 0.2 0.7 0.2 0.7 0.3 0.7 0.2 0.7 0.2 0.6 0.2 0.6 0.2 0.6 0.2 0.6 0.2 0.5 0.2 0.5 0.3 0.5 0.2 0.5 0.2 0.5 0.2 0.4 0.2 0.4 0.2 0.4 0.2 0.4 0.2 0.3 0.3 0.4 0.2 0.3 0.2 0.3 0.2 0.3 0.2 0.3 0.2 0.2 0.2 0.3 0.2 0.2 0.2 0.3 0.3 0.2 0.2 0.2 0.2 0.2 0.2 0.2 0.2 0.2 0.2 0.2 0.2 0.2 0.2 0.1 0.3 0.2 0.2 0.2 0.2 0.1 0.2 0.1 0.2 0.2 0.2 0.1 0.4 0.3 1.7 0.8 1.7 0.6 1.7 0.5 1.7 0.4 1.7 0.4 1.7 0.3 1.7 0.2 1.7 0.2 1.7 0.2 1.7 0.2 1.7 0.1 1.7 0.1 1.7 0.1 1.7 0.1 1.7 0.1 1.7 0.1 1.7 0.1 1.7 0.1 1.7 0 1.7 0.1 1.7 0 1.7 0.1 1.7 0 1.7 0.1 1.7 0 1.7 0 1.7 0.1 1.7 0 1.7 0 1.7 0.1 1.7 0 1.7 0 1.7 0 1.7 0 1.7 0 1.7 0.1 1.7 0 1.7 0 1.7 0 1.7 0 1.7 0 1.7 0 1.7 -0.1 1.7 0 1.7 0 1.7 0 1.7 0 1.7 -0.1 1.7 0 1.7 0 1.7 -0.1 1.7 0 1.7 -0.1 1.7 0 1.7 -0.1 1.7 -0.1 1.6 0 1.7 -0.1 1.7 -0.1 1.7 -0.2 1.7 -0.1 1.7 -0.2 1.7 -0.1 1.7 -0.2 1.7 -0.3 1.7 -0.3 1.7 -0.3 1.7 -0.4 1.7 -0.5 1.7 -0.6 1.7 -0.8 1.1 -0.6 0.2 -0.1 0.2 -0.1 0.2 -0.2 0.2 -0.1 0.2 -0.2 0.3 -0.1 0.2 -0.2 0.2 -0.1 0.2 -0.2 0.2 -0.2 0.2 -0.2 0.2 -0.2 0.2 -0.2 0.3 -0.2 0.2 -0.2 0.2 -0.3 0.2 -0.2 0.2 -0.2 0.2 -0.3 0.2 -0.3 0.2 -0.3 0.3 -0.3 0.2 -0.3 0.2 -0.3 0.2 -0.3 0.2 -0.4 0.2 -0.3 0.2 -0.4 0.2 -0.4 0.3 -0.4 0.2 -0.5 0.2 -0.4 0.2 -0.5 0.2 -0.5 0.2 -0.5 0.2 -0.6 0.2 -0.5 0.3 -0.6 0.2 -0.6 0.2 -0.6 0.2 -0.7 0.2 -0.7 0.2 -0.7 0.2 -0.7 0.2 -0.8 0.3 -0.7 0.2 -0.9 0.2 -0.8 0.2 -0.9 0.2 -0.9 0.2 -0.9 0.2 -1 0.2 -0.9 0.3 -1 0.2 -1.1 0.2 -1 0.2 -1.1 0.2 -1.1 0.2 -1.1 0.2 -1.2 0.2 -1.1 0.2 -1.2 0.3 -1.1 0.2 -1.2 0.2 -1.1 0.2 -1.1 0.2 -1.1 0.2 -1.1 0.2 -1.1 0.2 -1 0.3 -0.9 0.2 -0.9 0.2 -0.9 0.2 -0.7 0.2 -0.7 0.2 -0.6 0.2 -0.5 0.2 -0.4 0.3 -0.3 0.8 -0 0.2 0.3 0.2 0.4 0.2 0.4 0.3 0.6 0.2 0.7 0.2 0.7 0.2 0.9 0.2 0.9 0.2 0.9 0.2 1 0.2 1 0.3 1.1 0.2 1.1 0.2 1.1 0.2 1.2 0.2 1.1 0.2 1.2 0.2 1.1 0.2 1.1 0.3 1.2 0.2 1.1 0.2 1 0.2 1.1 0.2 1.1 0.2 1 0.2 1 0.2 0.9 0.3 1 0.2 0.9 0.2 0.9 0.2 0.9 0.2 0.8 0.2 0.8 0.2 0.8 0.2 0.7 0.3 0.7 0.2 0.7 0.2 0.7 0.2 0.7 0.2 0.6 0.2 0.6 0.2 0.5 0.2 0.6 0.2 0.5 0.3 0.5 0.2 0.5 0.2 0.5 0.2 0.4 0.2 0.4 0.2 0.4 0.2 0.4 0.2 0.4 0.3 0.3 0.2 0.4 0.2 0.3 0.2 0.3 0.2 0.3 0.2 0.3 0.2 0.3 0.2 0.2 0.3 0.3 0.2 0.2 0.2 0.3 0.2 0.2 0.2 0.2 0.2 0.2 0.2 0.2 0.2 0.2 0.3 0.1 0.2 0.2 0.2 0.2 0.2 0.1 0.2 0.2 0.2 0.1 0.2 0.2 0.2 0.1 0.9 0.5 1.7 0.7 1.7 0.6 1.7 0.4 1.7 0.3 1.7 0.2 1.7 0.1 1.7 0.1 1.7 -0 1.7 -0.1 1.7 -0.2 1.7 -0.3 1.7 -0.4 1.7 -0.5 1.7 -0.8 1 -0.6 0.2 -0.1 0.3 -0.1 0.2 -0.2 0.2 -0.1 0.2 -0.2 0.2 -0.1 0.2 -0.2 0.2 -0.1 0.2 -0.2 0.3 -0.2 0.2 -0.1 0.2 -0.2 0.2 -0.2 0.2 -0.2 0.2 -0.2 0.2 -0.2 0.2 -0.2 0.3 -0.2 0.2 -0.2 0.2 -0.2 0.2 -0.2 0.2 -0.2 0.2 -0.3 0.2 -0.2 0.2 -0.2 0.2 -0.3 0.3 -0.2 0.2 -0.2 0.2 -0.3 0.2 -0.2 0.2 -0.3 0.2 -0.2 0.2 -0.2 0.2 -0.3 0.3 -0.2 0.2 -0.2 0.2 -0.3 0.2 -0.2 0.2 -0.2 0.2 -0.2 0.2 -0.2 0.2 -0.2 0.3 -0.2 0.2 -0.2 0.2 -0.2 0.2 -0.1 0.2 -0.1 0.9 -0.5 1.7 -0 0.8 0.4 0.2 0.2 0.2 0.1 0.2 0.2 0.3 0.2 0.2 0.1 0.2 0.2 0.2 0.2 0.2 0.3 0.2 0.2 0.2 0.2 0.2 0.2 0.3 0.2 0.2 0.3 0.2 0.2 0.2 0.3 0.2 0.2 0.2 0.2 0.2 0.3 0.2 0.2 0.2 0.2 0.3 0.3 0.2 0.2 0.2 0.2 0.2 0.3 0.2 0.2 0.2 0.2 0.2 0.2 0.2 0.2 0.3 0.2 0.2 0.2 0.2 0.2 0.2 0.2 0.2 0.2 0.2 0.2 0.2 0.2 0.2 0.2 0.3 0.1 0.2 0.2 0.2 0.2 0.2 0.1 0.2 0.2 0.2 0.1 0.2 0.2 0.2 0.1 0.3 0.2 0.2 0.1 1.2 0.7 1.7 0.8 1.7 0.5 1.7 0.4 1.7 0.3 1.7 0.2 1.7 0.2 1.7 -0 1.7 -0 1.7 -0 1.7 -0.1 1.7 -0.1 1.7 -0.2 1.7 -0.2 1.7 -0.3 1.7 -0.5 1.7 -0.5 1.7 -0.7 1.1 -0.6 0.2 -0.1 0.2 -0.2 0.2 -0.1 0.2 -0.2 0.2 -0.1 0.2 -0.2 0.3 -0.2 0.2 -0.1 0.2 -0.2 0.2 -0.2 0.2 -0.2 0.2 -0.2 0.2 -0.2 0.2 -0.3 0.3 -0.2 0.2 -0.3 0.2 -0.2 0.2 -0.3 0.2 -0.3 0.2 -0.3 0.2 -0.3 0.2 -0.3 0.3 -0.3 0.2 -0.4 0.2 -0.4 0.2 -0.3 0.2 -0.4 0.2 -0.5 0.2 -0.4 0.2 -0.5 0.3 -0.4 0.2 -0.5 0.2 -0.5 0.2 -0.5 0.2 -0.6 0.2 -0.6 0.2 -0.6 0.2 -0.6 0.3 -0.6 0.2 -0.6 0.2 -0.7 0.2 -0.7 0.2 -0.7 0.2 -0.8 0.2 -0.7 0.2 -0.8 0.3 -0.8 0.2 -0.8 0.2 -0.8 0.2 -0.8 0.2 -0.9 0.2 -0.8 0.2 -0.9 0.2 -0.9 0.3 -0.8 0.2 -0.9 0.2 -0.8 0.2 -0.9 0.2 -0.8 0.2 -0.8 0.2 -0.7 0.2 -0.8 0.2 -0.6 0.3 -0.7 0.2 -0.5 0.2 -0.5 0.2 -0.5 0.2 -0.3 0.2 -0.3 0.2 -0.2 0.9 -0 0.2 0.2 0.2 0.3 0.2 0.3 0.2 0.5 0.2 0.5 0.3 0.5 0.2 0.7 0.2 0.6 0.2 0.7 0.2 0.8 0.2 0.8 0.2 0.8 0.2 0.8 0.3 0.9 0.2 0.8 0.2 0.9 0.2 0.9 0.2 0.8 0.2 0.9 0.2 0.8 0.2 0.8 0.3 0.9 0.2 0.8 0.2 0.8 0.2 0.7 0.2 0.8 0.2 0.7 0.2 0.7 0.2 0.7 0.3 0.7 0.2 0.6 0.2 0.7 0.2 0.6 0.2 0.6 0.2 0.5 0.2 0.6 0.2 0.5 0.3 0.5 0.2 0.5 0.2 0.5 0.2 0.4 0.2 0.5 0.2 0.4 0.2 0.4 0.2 0.3 0.2 0.4 0.3 0.4 0.2 0.3 0.2 0.3 0.2 0.3 0.2 0.3 0.2 0.3 0.2 0.3 0.2 0.2 0.3 0.3 0.2 0.2 0.2 0.3 0.2 0.2 0.2 0.2 0.2 0.2 0.2 0.2 0.2 0.2 0.3 0.1 0.2 0.2 0.2 0.2 0.2 0.1 0.2 0.2 0.2 0.1 0.2 0.1 0.2 0.2 0.7 0.3 1.7 0.8 1.7 0.6 1.7 0.4 1.7 0.4 1.7 0.3 1.7 0.2 1.7 0.2 1.7 0.1 1.7 0.1 1.7 0.1 1.7 -0 1.7 -0 1.7 -0 1.7 -0 1.7 -0.1 1.7 -0 1.7 -0.1 1.7 -0.1 1.6 -0.2 1.7 -0.2 1.7 -0.3 1.7 -0.4 1.7 -0.5 1.7 -0.6 1.7 -0.9 0.3 -0.1 0.2 -0.2 0.2 -0.1 0.2 -0.1 0.2 -0.2 0.2 -0.1 0.2 -0.2 0.2 -0.1 0.3 -0.2 0.2 -0.2 0.2 -0.2 0.2 -0.1 0.2 -0.2 0.2 -0.2 0.2 -0.2 0.2 -0.2 0.2 -0.2 0.3 -0.2 0.2 -0.2 0.2 -0.3 0.2 -0.2 0.2 -0.2 0.2 -0.3 0.2 -0.2 0.2 -0.3 0.3 -0.2 0.2 -0.3 0.2 -0.2 0.2 -0.3 0.2 -0.3 0.2 -0.3 0.2 -0.3 0.2 -0.2 0.3 -0.3 0.2 -0.3 0.2 -0.3 0.2 -0.3 0.2 -0.3 0.2 -0.3 0.2 -0.3 0.2 -0.3 0.3 -0.3 0.2 -0.2 0.2 -0.3 0.2 -0.3 0.2 -0.3 0.2 -0.2 0.2 -0.3 0.2 -0.2 0.3 -0.2 0.2 -0.2 0.2 -0.2 0.2 -0.2 0.2 -0.2 0.2 -0.1 0.2 -0.2 1.7 -0.2 0.9 0.3 0.2 0.2 0.2 0.1 0.2 0.2 0.2 0.2 0.2 0.2 0.2 0.3 0.3 0.2 0.2 0.2 0.2 0.3 0.2 0.3 0.2 0.3 0.2 0.2 0.2 0.3 0.2 0.3 0.3 0.3 0.2 0.3 0.2 0.3 0.2 0.3 0.2 0.4 0.2 0.3 0.2 0.3 0.2 0.3 0.3 0.3 0.2 0.3 0.2 0.3 0.2 0.2 0.2 0.3 0.2 0.3 0.2 0.3 0.2 0.3 0.3 0.2 0.2 0.3 0.2 0.3 0.2 0.2 0.2 0.3 0.2 0.2 0.2 0.2 0.2 0.3 0.3 0.2 0.2 0.2 0.2 0.2 0.2 0.2 0.2 0.2 0.2 0.2 0.2 0.2 0.2 0.2 0.3 0.2 0.2 0.2 0.2 0.1 0.2 0.2 0.2 0.1 0.2 0.2 0.2 0.2 0.2 0.1 0.3 0.1 0.2 0.2 0.2 0.1 0.6 0.4 1.7 0.8 1.7 0.6 1.7 0.5 1.7 0.3 1.7 0.2 1.7 0.2 1.7 -0 1.7 -0 1.7 -0.1 1.7 -0.1 1.7 -0.3 1.7 -0.3 1.7 -0.5 1.7 -0.6 1.7 -0.9 0.2 -0.1 0.2 -0.2 0.2 -0.1 0.2 -0.2 0.2 -0.1 0.3 -0.2 0.2 -0.1 0.2 -0.2 0.2 -0.2 0.2 -0.1 0.2 -0.2 0.2 -0.2 0.2 -0.2 0.3 -0.3 0.2 -0.2 0.2 -0.2 0.2 -0.2 0.2 -0.3 0.2 -0.3 0.2 -0.2 0.2 -0.3 0.3 -0.3 0.2 -0.3 0.2 -0.3 0.2 -0.4 0.2 -0.3 0.2 -0.4 0.2 -0.3 0.2 -0.4 0.3 -0.4 0.2 -0.4 0.2 -0.5 0.2 -0.4 0.2 -0.5 0.2 -0.5 0.2 -0.5 0.2 -0.5 0.3 -0.5 0.2 -0.6 0.2 -0.6 0.2 -0.6 0.2 -0.6 0.2 -0.6 0.2 -0.7 0.2 -0.7 0.3 -0.7 0.2 -0.8 0.2 -0.7 0.2 -0.8 0.2 -0.8 0.2 -0.8 0.2 -0.9 0.2 -0.9 0.3 -0.9 0.2 -0.9 0.2 -0.9 0.2 -1 0.2 -1 0.2 -1 0.2 -1.1 0.2 -1 0.2 -1.1 0.3 -1.1 0.2 -1.1 0.2 -1.1 0.2 -1.1 0.2 -1.1 0.2 -1.1 0.2 -1.2 0.2 -1.1 0.3 -1.1 0.2 -1.1 0.2 -1.1 0.2 -1 0.2 -1 0.2 -1 0.2 -1 0.2 -0.9 0.3 -0.8 0.2 -0.8 0.2 -0.7 0.2 -0.6 0.2 -0.6 0.2 -0.5" fill="none" stroke="#000" stroke-width="5.8" stroke-linejoin="round" stroke-linecap="round"/><path d="M288.9 1877.6l2 0 0 -5.2 5 0 0 3.1 2 0 0 -2.3 2 0 0 2.3 2 0 0 2.2 2 0 0 -2.5 5 0 0 0.7 5 0 0 2.6 3 0 0 -0.6 3 0 0 -2.6 3 0 0 3.9 2 0 0 -2.2 5 0 0 2.7 5 0 0 -1.6 3 -0 0 1.8 3 0 0 -1 2 0 0 -1.4 5 0 0 -0.7 4 0 0 2.7 2 0 0 -3.3 2 0 0 2.8 2 0 0 1 2 0 0 -2.3 4 0 0 2.6 2 0 0 0.7 2 0 0 -1.8 5 0 0 2.8 5 0 0 -2 2 0 0 1.8 2 0 0 -1.3 3 0 0 -3.7 4 0 0 4.1 5 0 0 0.8 3 0 0 0 2 0 0 -0.8 5 0 0 3.1 2 0 0 -4.3 4 0 0 1.4 2 0 0 -0.1 4 0 0 -1.1 3 0 0 2.3 3 0 0 0.9 4 -0 0 -3.4 3 0 0 -3.4 2 0 0 6.7 3 0 0 -2.2 3 0 0 -1.4 2 0 0 1.8 3 0 0 0 3 0 0 -3.5 2 0 0 -0.4 2 0 0 1.6 4 0 0 -0.2 4 0 0 -4.6 2 0 0 5.2 3 0 0 0.1 4 0 0 -0.7 2 0 0 -0.8 2 0 0 -0.7 5 0 0 -3.5 4 0 0 3.4 3 0 0 -2 5 0 0 1.9 6 0 0 -2.8 6 0 0 -0.7 2 0 0 -1.5 4 0 0 -3.1 2 0 0 -2.3 2 0 0 -2.3 3 0 0 -4.6 3 0 0 -8 2 0 0 -13.6 4 -0 0 -36.6 5 -0 0 -93.5 2 -0 0 -89.9 3 -0 0 -230.2 6 0 0 234.9 5 -0 0 164.3 5 -0 0 46 3 -0 0 15.7 3 -0 0 9.4 3 -0 0 9.2 5 -0 0 6 6 -0 0 1.5 2 -0 0 1.4 5 -0 0 1.2 2 -0 0 1.3 2 -0 0 -1.9 2 -0 0 2.4 3 -0 0 0.3 3 -0 0 -2.8 2 -0 0 0.7 2 -0 0 2.4 4 -0 0 -1.3 3 -0 0 2.1 3 -0 0 -0.2 3 -0 0 -1.4 5 -0 0 1.3 3 -0 0 -4.1 4 -0 0 2.2 3 -0 0 1.6 6 -0 0 -1 2 -0 0 0.4 3 -0 0 -3.2 3 -0 0 1.8 6 -0 0 1.2 2 -0 0 -2.7 6 -0 0 -0.6 2 -0 0 -0.5 2 -0 0 0.6 5 -0 0 -2.3 2 -0 0 -1.2 3 -0 0 -1.8 3 -0 0 -4.7 6 -0 0 -8.3 3 -0 0 -9.2 2 -0 0 -25.3 6 -0 0 -61.8 2 -0 0 -64.5 2 -0 0 -104.7 2 -0 0 -143.8 2 -0 0 -144.2 5 -0 0 241.6 3 -0 0 163.4 3 -0 0 95 5 -0 0 45.5 6 -0 0 12.7 3 -0 0 6.3 2 -0 0 1.6 3 -0 0 1.8 2 -0 0 1.2 5 -0 0 4.7 4 -0 0 -0.3 3 -0 0 2.3 3 -0 0 -0.3 3 -0 0 -0 3 -0 0 1.4 5 -0 0 0.8 3 -0 0 -0.1 3 -0 0 -0.4 2 -0 0 -0.3 2 -0 0 -0 4 -0 0 -1.9 2 -0 0 -0.3 2 -0 0 -6.6 6 -0 0 -52.9 6 -0 0 -24.9 2 -0 0 57.6 6 -0 0 21.7 2 -0 0 1.8 3 -0 0 1.8 2 -0 0 -7.2 6 -0 0 -24 3 -0 0 28.5 5 -0 0 6 5 -0 0 3.3 5 -0 0 0.7 2 -0 0 0.9 2 -0 0 0.7 6 -0 0 0.1 6 -0 0 -0.2 5 -0 0 -0.9 3 0 0 0.9 3 -0 0 -1.7 2 -0 0 1.2 6 -0 0 1.9 5 -0 0 -1 6 -0 0 -5.1 4 -0 0 4.2 5 -0 0 -2.2 3 -0 0 -5.2 2 -0 0 -0.2 2 -0 0 1.6 3 -0 0 0.7 2 -0 0 0.6 5 -0 0 2.1 3 0 0 3.5 2 0 0 -1.4 3 0 0 -2.4 6 0 0 0.9 2 0 0 2.3 3 0 0 -1.8 4 0 0 2.1 3 0 0 -1 6 0 0 0.4 5 0 0 0.8 6 0 0 -3.3 2 0 0 1.3 5 0 0 -2.1 4 0 0 -5.5 2 0 0 3.9 3 0 0 3.6 5 0 0 -0.1 5 0 0 -0.1 3 -0 0 -0.1 5 -0 0 1.3 3 -0 0 -0.1 2 -0 0 -1.1 4 -0 0 0.2 2 -0 0 0.3 3 -0 0 -3.8 3 -0 0 3 3 -0 0 -0.7 2 -0 0 1.8 5 -0 0 -0.9 2 -0 0 -0 2 -0 0 -2.5 6 -0 0 1.9 5 -0 0 -1.5 2 -0 0 1.1 6 -0 0 -3.3 3 -0 0 2.8 3 -0 0 -1.7 3 -0 0 0.2 4 -0 0 -0.9 3 -0 0 -0.1 2 -0 0 0.6 3 -0 0 -2.9 3 0 0 -3.2 2 0 0 -0.1 3 -0 0 -4.2 3 0 0 -5.6 3 -0 0 -9.9 5 0 0 -27.8 5 -0 0 -55.3 3 -0 0 -77.7 2 -0 0 -105.5 4 -0 0 -59.6 3 -0 0 140.1 6 -0 0 138.4 6 -0 0 40.4 5 -0 0 16.8 5 -0 0 6.4 2 -0 0 0.4 2 -0 0 3.2 3 -0 0 1.4 3 -0 0 -0.2 2 -0 0 2.5 2 -0 0 0.1 2 -0 0 -1.1 6 -0 0 1.4 3 -0 0 -5.6 4 -0 0 -11 5 -0 0 -24.8 2 -0 0 -27.1 5 -0 0 12.4 4 -0 0 27 3 -0 0 17.1 3 -0 0 11.6 6 -0 0 5 2 -0 0 -0.6 3 -0 0 -0 5 -0 0 2.2 2 -0 0 -0.7 2 -0 0 -1.1 3 -0 0 1.1 2 -0 0 1.3 2 -0 0 -0.1 6 -0 0 -0.8 3 -0 0 -0.2 3 -0 0 -3.2 3 -0 0 -0.5 3 -0 0 -5.3 5 -0 0 -14.2 2 -0 0 -12.7 3 -0 0 -19.6 2 -0 0 0.8 2 -0 0 13 3 -0 0 20.6 2 -0 0 8.1 2 -0 0 5.8 2 -0 0 0.6 2 -0 0 3.7 5 -0 0 1.7 2 -0 0 1.1 3 -0 0 -1.7 4 -0 0 -1.2 2 -0 0 -1.6 2 -0 0 3.9 5 -0 0 -0.4 5 -0 0 -0.4 3 -0 0 -3.4 3 -0 0 1.6 3 -0 0 2 4 -0 0 -3.8 5 -0 0 -2.5 6 -0 0 2.2 2 -0 0 -2.2 3 -0 0 -9.1 6 -0 0 -21 2 -0 0 -15.1 3 -0 0 0.1 6 -0 0 26.8 2 -0 0 7.3 2 -0 0 6.6 2 -0 0 2.6 2 -0 0 2.8 3 0 0 2.9 4 -0 0 -2.1 6 -0 0 4.5 5 -0 0 -1.8 3 -0 0 -1.2 2 -0 0 -0 2 -0 0 1.7 3 -0 0 0.6 3 -0 0 -3.7 3 -0 0 0.2 5 -0 0 -3.9 3 -0 0 -4.3 3 -0 0 -13.1 3 -0 0 -30.1 3 -0 0 -29.3 6 -0 0 45.7 2 -0 0 15 4 -0 0 1.8 2 -0 0 -4.2 3 -0 0 -15.5 2 -0 0 -17.1 3 -0 0 -18.7 3 -0 0 30.2 4 -0 0 22.4 2 -0 0 15.8 6 -0 0 4.8 2 -0 0 -1.3 3 -0 0 4.1 6 -0 0 1.5 5 -0 0 -3.9 2 -0 0 3 3 -0 0 1 4 -0 0 -1.2 5 -0 0 -0.4 3 -0 0 2.5 4 -0 0 0.2 4 -0 0 1.2 4 -0 0 0.2 3 -0 0 -1.5 5 -0 0 0.9 3 -0 0 -3.9 3 -0 0 1.7 6 -0 0 1.1 2 -0 0 0.1 6 -0 0 -1.3 3 -0 0 1.2 5 -0 0 -3.6 6 -0 0 -0.4 6 -0 0 -9.7 5 -0 0 -18.3 3 -0 0 -8.1 3 -0 0 9.8 2 -0 0 14.5 5 -0 0 10.8 2 -0 0 2 3 -0 0 0.6 2 -0 0 2.5 5 -0 0 -4.3 2 -0 0 5.1 3 -0 0 -0.2 5 0 0 -0.3 5 -0 0 0.9 6 -0 0 -2.8 3 -0 0 3.4 3 -0 0 1.1 4 -0 0 -2 4 -0 0 -1.4 4 -0 0 1.9 2 -0 0 -0.4 3 -0 0 1.2 4 -0 0 -4.4 5 -0 0 5.4 3 -0 0 -1.6 6 -0 0 1.8 2 -0 0 -0.5 2 -0 0 -0.5 5 -0 0 -3.7 2 -0 0 3.6 5 -0 0 0.2 4 -0 0 -4.3 2 -0 0 0.8 2 -0 0 2 4 -0 0 1.1 4 0 0 0.5 3 0 0 0.1 3 0 0 -3.9 3 0 0 3.7 3 0 0 -1.2 4 0 0 -2.3 5 0 0 -0.1 2 0 0 -1.8 5 0 0 -4.6 3 -0 0 -11.8 4 -0 0 -25.2 6 -0 0 4.6 2 0 0 20 6 0 0 12.3 2 0 0 3.5 6 0 0 0.7 3 0 0 1.9 4 -0 0 2.2 6 -0 0 -2.3 6 -0 0 -0.9 5 -0 0 -1.9 4 0 0 -2.2 3 0 0 -2.6 2 -0 0 -0.1 2 -0 0 -1.1 3 -0 0 -0.4 2 -0 0 2.5 5 -0 0 4 5 -0 0 0.7 4 -0 0 2 2 -0 0 1.9 5 -0 0 -0.7 3 -0 0 -0.3 5 -0 0 -2.5 5 -0 0 0.6 5 -0 0 -2.9 4 -0 0 -3.5 5 -0 0 -9.9 2 0 0 -7.7 3 0 0 -9.2 3 0 0 6.3 3 0 0 11.7 3 0 0 8.9 4 0 0 5.9 4 -0 0 0.1 2 0 0 0.2 3 -0 0 1.1 3 0 0 -0.5 2 0 0 1.6 6 0 0 -0.6 4 0 0 0.9 2 -0 0 -1.8 6 -0 0 0.9 5 -0 0 1.5 3 -0 0 -2 5 -0 0 -0.1 2 -0 0 -1.3 2 -0 0 -4.1 3 -0 0 -1.7 2 -0 0 -1.6 2 -0 0 -1.3 2 -0 0 -1.2 2 -0 0 -0.8 3 -0 0 3.7 3 -0 0 3 2 -0 0 3.7 4 -0 0 -0.4 3 -0 0 3 5 -0 0 -0 3 -0 0 0.2 5 -0 0 0.7 2 -0 0 -3.1 5 -0 0 0.5 5 -0 0 -0.3 2 -0 0 -3.3 4 -0 0 -4.5 3 -0 0 -8.5 2 -0 0 -7.6 2 -0 0 -9.5 3 -0 0 -9.6 1 -0 0 10.7 -4 -0 0 14.4 -2 -0 0 12.5 -3 -0 0 5.9 -2 -0 0 5.5 -2 -0 0 4.1 -3 -0 0 0.6 -2 -0 0 5.4 -5 -0 0 0.5 -3 -0 0 1.9 -3 -0 0 -2 -3 -0 0 2.3 -2 -0 0 -0.5 -2 -0 0 -3.1 -3 -0 0 -1.3 -3 -0 0 -2.1 -3 -0 0 -4.7 -6 -0 0 -8 -5 -0 0 -2.1 -4 -0 0 5.3 -6 -0 0 9 -5 -0 0 1.8 -3 -0 0 2.5 -3 -0 0 0.1 -3 -0 0 3.2 -3 -0 0 -2.4 -2 -0 0 -1.9 -3 -0 0 1.7 -3 -0 0 -1.5 -3 -0 0 -0.3 -3 -0 0 2.2 -3 -0 0 -1.8 -3 -0 0 -1 -5 -0 0 0.9 -4 -0 0 -2.5 -4 -0 0 -3.5 -2 -0 0 -6.9 -4 -0 0 -13.3 -3 -0 0 -15 -5 -0 0 13.8 -6 -0 0 13.8 -2 -0 0 7 -6 -0 0 7 -4 -0 0 -1.7 -2 -0 0 3.4 -2 -0 0 -1 -6 -0 0 -0 -2 -0 0 -0.4 -6 -0 0 -1 -4 -0 0 -0.6 -3 -0 0 -2.8 -3 -0 0 0.8 -2 -0 0 -3.3 -2 -0 0 -5.3 -4 -0 0 -0.7 -2 -0 0 -1.9 -2 -0 0 2.8 -5 -0 0 4.3 -3 -0 0 3 -3 -0 0 1.6 -2 -0 0 3.4 -6 -0 0 -1.2 -3 -0 0 0.7 -3 -0 0 0.2 -5 -0 0 -1.8 -6 -0 0 -4.3 -3 -0 0 -1.5 -2 -0 0 -3.7 -2 -0 0 -14.5 -5 -0 0 -20.3 -3 -0 0 -5.1 -5 -0 0 20.8 -3 -0 0 9.4 -2 -0 0 11.1 -6 -0 0 9.7 -6 -0 0 3 -2 -0 0 -0.9 -2 -0 0 1.3 -4 -0 0 -0.3 -3 -0 0 5.7 -3 -0 0 -4.4 -3 -0 0 -0.8 -3 -0 0 2.2 -6 -0 0 3.9 -4 -0 0 -5.5 -6 -0 0 2.2 -6 -0 0 0.7 -3 -0 0 -0.2 -4 -0 0 0.3 -3 -0 0 -3 -5 -0 0 0.4 -4 -0 0 -0.7 -3 -0 0 3.2 -4 -0 0 -3.3 -2 -0 0 -0.6 -3 -0 0 -0.5 -6 -0 0 1.8 -2 -0 0 -1 -2 -0 0 2.1 -2 -0 0 1 -5 -0 0 -2.9 -3 -0 0 2.2 -2 -0 0 -3.4 -5 -0 0 -0.2 -6 -0 0 -0.8 -5 -0 0 -0.5 -3 -0 0 -2 -4 -0 0 0.1 -4 -0 0 -9.8 -6 -0 0 -20.1 -3 -0 0 -11.1 -2 -0 0 -4.6 -4 -0 0 24.1 -6 -0 0 17.6 -6 -0 0 2.1 -3 -0 0 4.9 -4 -0 0 -0.6 -5 -0 0 -2 -2 -0 0 2.4 -3 -0 0 -1.1 -5 -0 0 5.3 -3 -0 0 -6.5 -2 -0 0 2.2 -3 -0 0 0.3 -4 -0 0 0.5 -3 -0 0 2.4 -3 -0 0 -2 -6 -0 0 0.6 -2 -0 0 -1.4 -2 -0 0 4.5 -3 -0 0 -2.8 -2 -0 0 -3.5 -3 -0 0 5.7 -3 -0 0 -7.2 -2 -0 0 1.5 -3 -0 0 -0 -6 -0 0 1.4 -2 -0 0 -4.1 -6 -0 0 -4.4 -6 -0 0 -6.2 -5 -0 0 -18.9 -6 -0 0 -32.5 -2 -0 0 -20.3 -3 -0 0 8.5 -2 -0 0 34.1 -5 -0 0 13.7 -3 -0 0 -5.8 -6 -0 0 -32.9 -2 -0 0 -31.5 -5 -0 0 35.9 -2 -0 0 30.2 -4 -0 0 14.5 -2 -0 0 6.6 -3 -0 0 3.6 -3 -0 0 1.3 -2 -0 0 3.1 -6 -0 0 1.3 -2 -0 0 2 -2 -0 0 -2.1 -4 -0 0 0.4 -2 -0 0 -0 -2 -0 0 0.9 -4 -0 0 -2.8 -4 -0 0 -2.4 -5 -0 0 -3.6 -6 -0 0 -13 -3 -0 0 -20.9 -5 -0 0 -24.4 -3 -0 0 9.3 -4 -0 0 28.1 -3 -0 0 16.3 -5 -0 0 8.4 -2 -0 0 -1.3 -3 -0 0 3.5 -2 -0 0 0.1 -2 -0 0 1.5 -6 -0 0 0.6 -4 -0 0 3 -3 -0 0 -1.1 -2 -0 0 -0.9 -6 -0 0 3.3 -4 -0 0 -1.7 -3 -0 0 -1.3 -2 -0 0 -0.1 -6 -0 0 -0.3 -3 -0 0 -0.1 -2 -0 0 -0.7 -5 -0 0 -4.8 -4 -0 0 -15.1 -6 -0 0 -33.2 -3 -0 0 -6.7 -3 -0 0 19.6 -4 -0 0 27 -5 -0 0 7.4 -4 -0 0 3.7 -4 -0 0 3.2 -4 -0 0 0.3 -2 -0 0 1.3 -5 -0 0 -1.2 -2 -0 0 0.3 -2 -0 0 -1.2 -5 -0 0 0.9 -4 -0 0 -2.9 -3 -0 0 -1.4 -3 -0 0 -0.3 -4 -0 0 -3.8 -2 -0 0 -11.1 -5 -0 0 -28.7 -5 -0 0 -35.1 -3 -0 0 11.6 -5 -0 0 39 -6 -0 0 16.9 -3 -0 0 5.5 -2 -0 0 3.1 -3 -0 0 -0.6 -6 -0 0 -2.3 -3 -0 0 -0.7 -4 -0 0 -3.2 -6 -0 0 -5.5 -3 -0 0 -3.7 -2 -0 0 -11.1 -6 -0 0 -20.1 -2 -0 0 -28.5 -3 -0 0 -30.4 -2 -0 0 -108.1 -6 -0 0 -140.3 -4 -0 0 131.5 -6 -0 0 111.2 -2 -0 0 55.8 -5 -0 0 25.2 -3 -0 0 12.2 -6 -0 0 8.3 -3 -0 0 4.3 -3 -0 0 2.1 -3 -0 0 5.4 -4 -0 0 0.1 -6 -0 0 3.6 -4 -0 -0 1.9 -3 -0 -0 -2.1 -2 -0 -0 1.5 -2 -0 -0 -0.6 -6 -0 -0 1.5 -3 -0 -0 2.2 -4 -0 -0 -3 -2 -0 -0 3.9 -2 -0 -0 0.9 -5 -0 -0 -1.7 -3 -0 -0 1.8 -2 -0 -0 -2.4 -3 -0 -0 -0.7 -3 -0 -0 0.4 -2 -0 -0 5.2 -3 -0 -0 -2.3 -5 -0 -0 -0 -2 -0 -0 -1.3 -3 -0 -0 -1.4 -2 -0 -0 4.2 -4 -0 -0 -3 -3 -0 -0 1.9 -4 -0 -0 -3.5 -2 -0 -0 7.8 -6 -0 -0 -8.1 -6 -0 -0 3.4 -4 -0 -0 2.1 -2 -0 -0 -3.2 -5 -0 -0 3.7 -2 -0 -0 -2.2 -2 -0 -0 -0.3 -3 -0 -0 -2.4 -3 -0 -0 0.3 -3 -0 -0 2.1 -3 -0 -0 -1 -4 -0 -0 -0.7 -2 -0 -0 1.4 -2 -0 -0 -0.9 -4 -0 -0 -0.1 -5 -0 -0 -1.1 -2 -0 -0 5.5 -5 -0 -0 -5.8 -2 -0 -0 2.9 -2 -0 -0 -4 -2 -0 -0 -4.3 -3 -0 -0 -2.1 -2 -0 -0 -2 -4 -0 -0 3.7 -3 -0 -0 6.5 -6 -0 -0 2.7 -2 -0 -0 -2.6 -3 -0 -0 -0 -2 -0 -0 1.7 -6 -0 -0 1.2 -2 -0 -0 -2.1 -2 -0 -0 2.5 -3 -0 -0 -1.8 -3 -0 -0 2 -3 -0 -0 -3.5 -6 -0 -0 0.2 -3 -0 -0 0.2 -2 -0 -0 5.3 -3 -0 -0 -4.7 -2 -0 -0 1.5 -3 -0 -0 -4.2 -5 -0 -0 -1 -5 -0 -0 -1.5 -6 -0 -0 -18.7 -5 -0 -0 -13.5 -5 -0 -0 19.8 -2 -0 -0 5.9 -4 -0 -0 -3.2 -4 -0 -0 -26.5 -5 -0 -0 -66.6 -6 -0 -0 62.5 -4 -0 -0 25.6 -4 -0 -0 9.5 -6 -0 -0 1.2 -3 -0 -0 3.5 -5 -0 -0 0.7 -3 -0 -0 -3.2 -5 -0 -0 1.5 -5 -0 -0 -3.3 -2 -0 -0 0.3 -2 -0 -0 1 -2 -0 -0 -2.4 -2 -0 -0 -0.9 -3 -0 -0 -1.5 -3 -0 -0 -2.9 -4 -0 -0 -3.5 -4 -0 -0 -4.5 -3 -0 -0 -9 -6 -0 -0 -27.5 -5 -0 -0 -64 -6 -0 -0 -223.7 -3 -0 -0 -241.3 -5 -0 -0 288.3 -6 -0 -0 191.2 -4 -0 -0 53.9 -5 -0 -0 18.2 -4 -0 -0 11.3 -5 -0 -0 5.4 -3 -0 -0 2.5 -2 -0 -0 2.3 -2 -0 -0 0.5 -2 -0 -0 2.2 -6 -0 -0 2.1 -3 -0 -0 0.8 -5 -0 -0 0.9 -6 -0 -0 3.2 -2 -0 -0 0.9 -3 -0 -0 -2.6 -3 -0 -0 1.6 -2 -0 -0 -1.6 -2 -0 -0 0.9 -5 -0 -0 -0.6 -4 -0 -0 2.8 -4 -0 -0 -1.8 -2 -0 -0 1.1 -3 -0 -0 -0.6 -4 -0 -0 -0 -2 -0 -0 -0.6 -2 -0 -0 0.4 -2 -0 -0 -1.4 -2 -0 -0 -0.4 -6 -0 -0 -0.8 -4 -0 -0 -1 -2 -0 -0 -0.3 -3 -0 -0 -0.1 -2 -0 -0 -1 -2 -0 -0 -2.3 -2 -0 -0 -0.5 -3 -0 -0 -0.8 -4 -0 -0 -4 -4 -0 -0 -4.8 -4 -0 -0 -11.3 -6 -0 -0 -25.2 -5 -0 -0 -30.5 -2 -0 -0 -60 -4 -0 -0 -176.2 -3 -0 -0 -161.9 -3 -0 -0 98.5 -5 -0 -0 237.7 -6 -0 -0 72.7 -2 -0 -0 18.1 -2 -0 -0 17.1 -3 -0 -0 6.2 -2 -0 -0 6.2 -2 -0 -0 6.9 -5 -0 -0 5.6 -3 -0 -0 3.6 -6 -0 -0 2.4 -6 -0 -0 3.9 -3 -0 -0 1.9 -6 -0 -0 -2.6 -3 -0 -0 1.4 -2 -0 -0 -0.5 -2 -0 -0 4.3 -3 -0 -0 -3.8 -3 -0 -0 -0.1 -4 -0 -0 3.1 -3 -0 -0 -1.6 -4 -0 -0 2.9 -4 -0 -0 -0.7 -4 -0 -0 0.2 -2 -0 -0 1.8 -6 -0 -0 -0.3 -6 -0 -0 2.7 -3 -0 -0 -2 -3 -0 -0 -1 -4 -0 -0 0.8 -5 -0 -0 3.7 -3 -0 -0 -3.3 -5 -0 -0 2.7 -2 -0 -0 -1.8 -5 -0 -0 0.9 -3 -0 -0 2.3 -3 -0 -0 -0.9 -2 -0 -0 -2.6 -3 -0 -0 -0.4 -2 -0 -0 2.7 -3 -0 -0 -4.1 -3 -0 -0 2.3 -2 -0 -0 -1.7 -2 -0 -0 0.6 -3 -0 -0 0.1 -4 -0 -0 2.5 -3 -0 -0 1.1 -2 -0 -0 -2.8 -5 -0 -0 -3.1 -6 -0 -0 -0.7 -4 -0 -0 1 -2 -0 -0 3.7 -2 -0 -0 -0.9 -3 -0 -0 -2.6 -4 -0 -0 3.6 -5 -0 -0 -6.2 -6 -0 -0 3.7 -3 -0 -0 -3.1 -6 -0 -0 -0.2 -3 -0 -0 1.1 -4 -0 -0 1.5 -6 -0 -0 -3.4 -3 -0 -0 1.3 -3 -0 -0 -1.7 -2 -0 -0 0.6 -2 -0 -0 -1.1 -5 -0 -0 1.4 -3 -0 -0 -0.1 -6 -0z" fill="#000"/><rect x="183" y="39" width="1805" height="1948" fill="none" stroke="#000" stroke-width="9" stroke-linejoin="round"/><path d="M288.9 1986V1973.2M395.1 1986V1960M501.2 1986V1973.2M607.4 1986V1960M713.5 1986V1973.2M819.7 1986V1960M925.8 1986V1973.2M1032.0 1986V1960M1138.1 1986V1973.2M1244.2 1986V1960M1350.4 1986V1973.2M1456.5 1986V1960M1562.7 1986V1973.2M1668.8 1986V1960M1775.0 1986V1973.2M1881.1 1986V1960" stroke="#000" stroke-width="9" stroke-linecap="round" fill="none"/><g font-family="Liberation Serif, Times New Roman, serif" font-weight="bold" fill="#000" style="font-kerning:none"><text x="182.8" y="2089.5" font-size="95" text-anchor="middle">10</text><text x="395.1" y="2089.5" font-size="95" text-anchor="middle">20</text><text x="607.4" y="2089.5" font-size="95" text-anchor="middle">30</text><text x="819.7" y="2089.5" font-size="95" text-anchor="middle">40</text><text x="1032.0" y="2089.5" font-size="95" text-anchor="middle">50</text><text x="1244.2" y="2089.5" font-size="95" text-anchor="middle">60</text><text x="1456.5" y="2089.5" font-size="95" text-anchor="middle">70</text><text x="1668.8" y="2089.5" font-size="95" text-anchor="middle">80</text><text x="1881.1" y="2089.5" font-size="95" text-anchor="middle">90</text><text y="2225.5" font-size="92"><tspan x="975.3">2</tspan><tspan x="1094.7" font-weight="normal">(°)</tspan></text><text transform="translate(1021.6 2225.5) scale(1.15 1)" font-size="92" font-weight="normal">θ</text><text transform="translate(78.7 1360.6) rotate(-90) scale(1 1.017)" font-size="92.3">Intensity (a.u.)</text><text transform="translate(1440.0 176.3) scale(1 1.023)" font-size="72.6">Sn<tspan font-size="43.8" dy="24.7">10</tspan><tspan dy="-24.7" font-weight="normal">@</tspan><tspan dx="0.7">KCC-1</tspan></text><text transform="translate(1400.1 358.6) scale(1 1.023)" font-size="72.6">Sn<tspan font-size="43.8" dy="24.7">7</tspan><tspan dy="-24.7" font-weight="normal">@</tspan><tspan dx="0.7">MCM-41</tspan></text><text transform="translate(1464.7 530) scale(1 1.023)" font-size="72.6">Sn<tspan font-size="43.8" dy="24.7">7</tspan><tspan dy="-24.7" font-weight="normal">@</tspan><tspan dx="0.7">KCC-1</tspan></text><text transform="translate(1461.8 688.6) scale(1 1.023)" font-size="72.6">Sn<tspan font-size="43.8" dy="24.7">5</tspan><tspan dy="-24.7" font-weight="normal">@</tspan><tspan dx="0.7">KCC-1</tspan></text><text transform="translate(1461.1 848.6) scale(1 1.023)" font-size="72.6">Sn<tspan font-size="43.8" dy="24.7">3</tspan><tspan dy="-24.7" font-weight="normal">@</tspan><tspan dx="0.7">KCC-1</tspan></text><text transform="translate(1460.1 1013) scale(1 1.023)" font-size="72.6">Sn<tspan font-size="43.8" dy="24.7">1</tspan><tspan dy="-24.7" font-weight="normal">@</tspan><tspan dx="0.7">KCC-1</tspan></text><text transform="translate(1629.5 1201.4) scale(1 1.01)" font-size="71.3">KCC-1</text><text transform="translate(361.7 1444.8) scale(1 1.025)" font-size="73.8"><tspan font-weight="normal" font-size="70.0">(</tspan><tspan dx="1.27">110</tspan><tspan font-weight="normal" font-size="70.0">)</tspan></text><text transform="translate(697.3 1331) scale(1 1.025)" font-size="73.8"><tspan font-weight="normal" font-size="70.0">(</tspan><tspan dx="1.27">101</tspan><tspan font-weight="normal" font-size="70.0">)</tspan></text><text transform="translate(704.9 1675) scale(1 1.025)" font-size="73.8"><tspan font-weight="normal" font-size="70.0">(</tspan><tspan dx="1.27">220</tspan><tspan font-weight="normal" font-size="70.0">)</tspan></text><text transform="translate(787.6 1787) scale(1 1.025)" font-size="73.8"><tspan font-weight="normal" font-size="70.0">(</tspan><tspan dx="1.27">111</tspan><tspan font-weight="normal" font-size="70.0">)</tspan></text><text transform="translate(993.2 1359) scale(1 1.025)" font-size="73.8"><tspan font-weight="normal" font-size="70.0">(</tspan><tspan dx="1.27">211</tspan><tspan font-weight="normal" font-size="70.0">)</tspan></text><text transform="translate(1086.9 1479.5) scale(1 1.025)" font-size="73.8"><tspan font-weight="normal" font-size="70.0">(</tspan><tspan dx="1.27">220</tspan><tspan font-weight="normal" font-size="70.0">)</tspan></text><text transform="translate(1289.9 1547) scale(1 1.025)" font-size="73.8"><tspan font-weight="normal" font-size="70.0">(</tspan><tspan dx="1.27">112</tspan><tspan font-weight="normal" font-size="70.0">)</tspan></text><text transform="translate(1151.4 1604.7) scale(1 1.025)" font-size="73.8"><tspan font-weight="normal" font-size="70.0">(</tspan><tspan dx="1.27">002</tspan><tspan font-weight="normal" font-size="70.0">)</tspan></text><text transform="translate(1347.6 1627.8) scale(1 1.025)" font-size="73.8"><tspan font-weight="normal" font-size="70.0">(</tspan><tspan dx="1.27">301</tspan><tspan font-weight="normal" font-size="70.0">)</tspan></text><text transform="translate(1208.4 1717.6) scale(1 1.025)" font-size="73.8"><tspan font-weight="normal" font-size="70.0">(</tspan><tspan dx="1.27">310</tspan><tspan font-weight="normal" font-size="70.0">)</tspan></text><text transform="translate(1391.4 1772) scale(1 1.025)" font-size="73.8"><tspan font-weight="normal" font-size="70.0">(</tspan><tspan dx="1.27">202</tspan><tspan font-weight="normal" font-size="70.0">)</tspan></text><text transform="translate(1548.9 1652) scale(1 1.025)" font-size="73.8"><tspan font-weight="normal" font-size="70.0">(</tspan><tspan dx="1.27">321</tspan><tspan font-weight="normal" font-size="70.0">)</tspan></text><text transform="translate(1698.9 1619) scale(1 1.025)" font-size="73.8"><tspan font-weight="normal" font-size="70.0">(</tspan><tspan dx="1.27">222</tspan><tspan font-weight="normal" font-size="70.0">)</tspan></text><text transform="translate(1717.1 1770) scale(1 1.023)" font-size="72.6">SnO<tspan font-size="43.8" dy="24.7">2</tspan></text></g></svg></div></body></html>
